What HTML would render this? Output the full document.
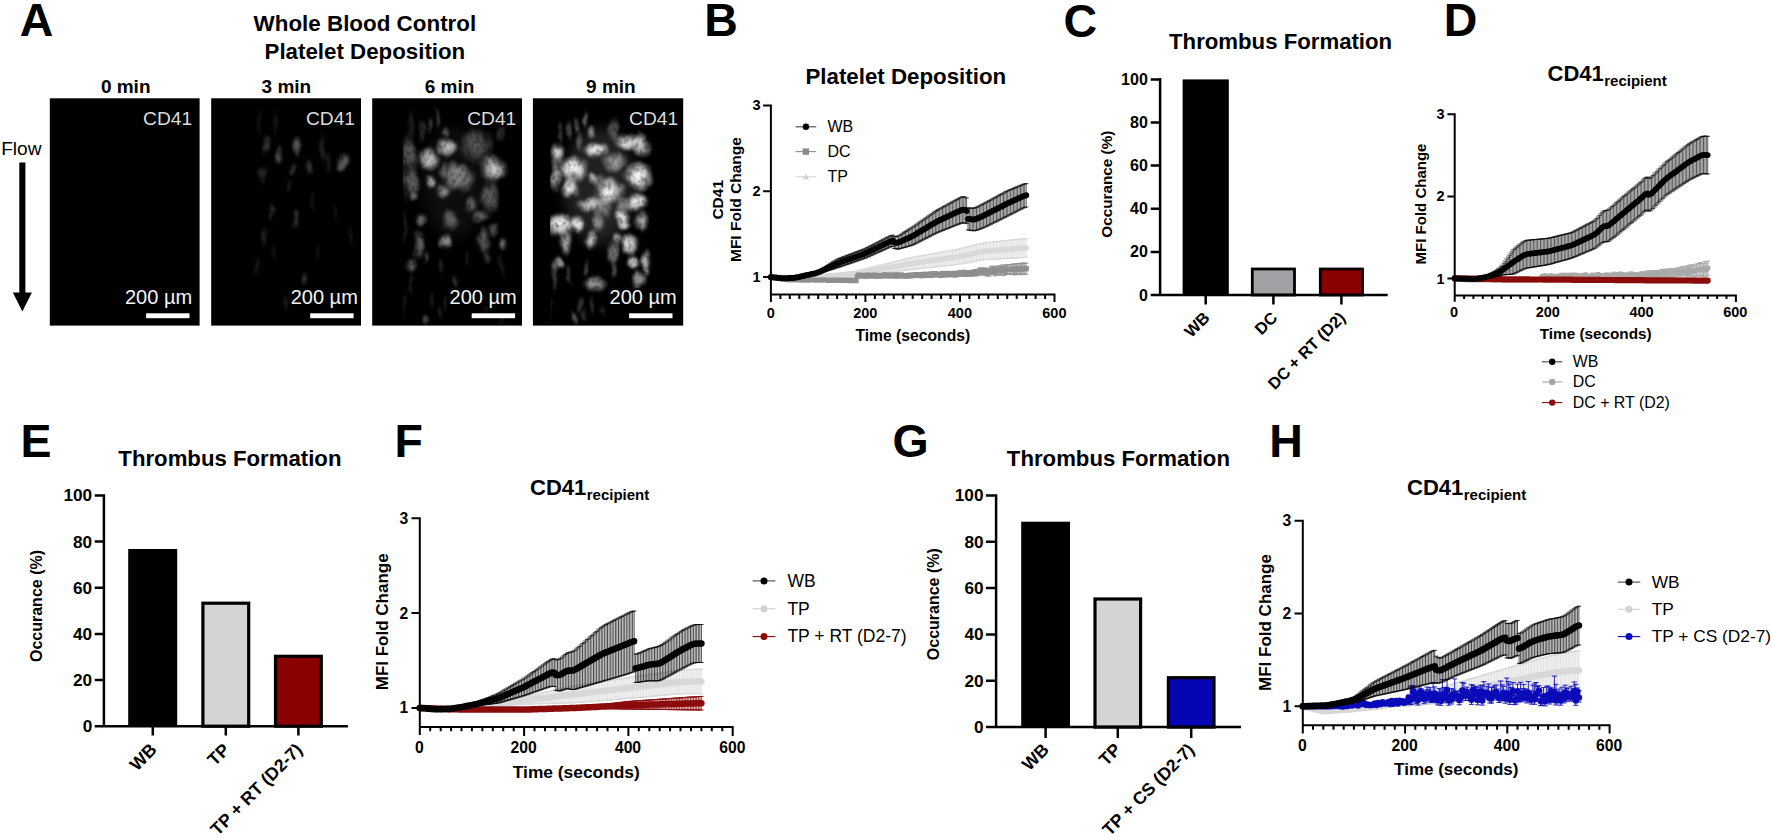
<!DOCTYPE html>
<html lang="en"><head><meta charset="utf-8"><title>Figure</title>
<style>
html,body{margin:0;padding:0;background:#fff;}
body{width:1772px;height:838px;overflow:hidden;}
svg{display:block;font-family:"Liberation Sans", Arial, Helvetica, sans-serif;}
</style></head><body>
<svg width="1772" height="838" viewBox="0 0 1772 838">
<defs>
<radialGradient id="bg"><stop offset="0" stop-color="#fff" stop-opacity="1"/><stop offset="0.45" stop-color="#fff" stop-opacity="0.8"/><stop offset="0.75" stop-color="#fff" stop-opacity="0.35"/><stop offset="1" stop-color="#fff" stop-opacity="0"/></radialGradient>
<filter id="tex" x="-5%" y="-5%" width="110%" height="110%" color-interpolation-filters="sRGB">
<feTurbulence type="fractalNoise" baseFrequency="0.09 0.06" numOctaves="2" seed="3" result="d"/>
<feDisplacementMap in="SourceGraphic" in2="d" scale="9" xChannelSelector="R" yChannelSelector="G" result="w"/>
<feGaussianBlur in="w" stdDeviation="1.0" result="b"/>
<feTurbulence type="fractalNoise" baseFrequency="0.25 0.18" numOctaves="2" seed="7" result="n"/>
<feColorMatrix in="n" type="matrix" values="0 0 0 0 1  0 0 0 0 1  0 0 0 0 1  1.1 0 0 0 0.4" result="m"/>
<feComposite in="b" in2="m" operator="in"/>
</filter>
<filter id="hz" x="-20%" y="-20%" width="140%" height="140%"><feGaussianBlur stdDeviation="7"/></filter>
</defs>
<rect width="1772" height="838" fill="#fff"/>

<text x="19.7" y="36.2" font-size="46.5" font-weight="bold" text-anchor="start" fill="#000">A</text>
<text x="364.9" y="31.1" font-size="22.4" font-weight="bold" text-anchor="middle" fill="#000">Whole Blood Control</text>
<text x="364.9" y="58.5" font-size="22.3" font-weight="bold" text-anchor="middle" fill="#000">Platelet Deposition</text>
<text x="1.2" y="154.8" font-size="19.1" font-weight="normal" text-anchor="start" fill="#000">Flow</text>
<path d="M19.3 162.4H25.4V292.5H31.9L22.35 311.4L12.8 292.5H19.3Z" fill="#000"/>
<text x="125.7" y="92.6" font-size="19.0" font-weight="bold" text-anchor="middle" fill="#000">0 min</text>
<text x="286.4" y="92.6" font-size="19.0" font-weight="bold" text-anchor="middle" fill="#000">3 min</text>
<text x="449.5" y="92.6" font-size="19.0" font-weight="bold" text-anchor="middle" fill="#000">6 min</text>
<text x="610.9" y="92.6" font-size="19.0" font-weight="bold" text-anchor="middle" fill="#000">9 min</text>
<clipPath id="c0"><rect x="49.8" y="98.3" width="149.8" height="227.3"/></clipPath>
<rect x="49.8" y="98.3" width="149.8" height="227.3" fill="#000"/>
<text x="192.1" y="124.8" font-size="19.2" font-weight="normal" text-anchor="end" fill="#dcdcdc">CD41</text>
<text x="192.1" y="303.6" font-size="20" font-weight="normal" text-anchor="end" fill="#f4f4f4">200 µm</text>
<rect x="146.1" y="313.3" width="43.4" height="4.9" fill="#fff"/>
<clipPath id="c1"><rect x="211.2" y="98.3" width="149.8" height="227.3"/></clipPath>
<rect x="211.2" y="98.3" width="149.8" height="227.3" fill="#000"/>
<clipPath id="h1"><rect x="211.2" y="98.3" width="149.8" height="227.3"/></clipPath>
<g clip-path="url(#h1)">
<g filter="url(#tex)" fill="#fff">
<ellipse cx="296.6" cy="146.2" rx="5.5" ry="10.3" opacity="0.37" fill="url(#bg)"/>
<ellipse cx="279.7" cy="154.7" rx="4.7" ry="10.3" opacity="0.30" fill="url(#bg)"/>
<ellipse cx="265.6" cy="144.8" rx="3.6" ry="11" opacity="0.22" fill="url(#bg)"/>
<ellipse cx="343.1" cy="163.1" rx="7.1" ry="10.3" opacity="0.39" fill="url(#bg)"/>
<ellipse cx="309.3" cy="167.3" rx="4.3" ry="7.9" opacity="0.24" fill="url(#bg)"/>
<ellipse cx="292.3" cy="168.7" rx="3.6" ry="6.3" opacity="0.22" fill="url(#bg)"/>
<ellipse cx="262.8" cy="174.4" rx="4.7" ry="11" opacity="0.17" fill="url(#bg)"/>
<ellipse cx="321.9" cy="147.6" rx="3.6" ry="17.8" opacity="0.14" fill="url(#bg)"/>
<ellipse cx="327.6" cy="161.7" rx="3.6" ry="13.4" opacity="0.14" fill="url(#bg)"/>
<ellipse cx="271.2" cy="212.4" rx="3.6" ry="11" opacity="0.17" fill="url(#bg)"/>
<ellipse cx="295.2" cy="218.1" rx="3.6" ry="11" opacity="0.22" fill="url(#bg)"/>
<ellipse cx="264.2" cy="236.4" rx="3.6" ry="11" opacity="0.14" fill="url(#bg)"/>
<ellipse cx="303.6" cy="278.6" rx="3.6" ry="8.7" opacity="0.22" fill="url(#bg)"/>
<ellipse cx="257.1" cy="266" rx="2.8" ry="11" opacity="0.11" fill="url(#bg)"/>
<ellipse cx="275.4" cy="122.3" rx="2.4" ry="17.8" opacity="0.10" fill="url(#bg)"/>
<ellipse cx="259.9" cy="122.3" rx="2.4" ry="17.8" opacity="0.10" fill="url(#bg)"/>
<ellipse cx="350.1" cy="235" rx="2.4" ry="13.4" opacity="0.11" fill="url(#bg)"/>
<ellipse cx="336" cy="212.4" rx="2.4" ry="11" opacity="0.11" fill="url(#bg)"/>
<ellipse cx="312.1" cy="201.1" rx="2.4" ry="13.4" opacity="0.11" fill="url(#bg)"/>
<ellipse cx="285.3" cy="302.6" rx="2.8" ry="11" opacity="0.11" fill="url(#bg)"/>
<ellipse cx="272.6" cy="251.9" rx="2.8" ry="11.8" opacity="0.11" fill="url(#bg)"/>
<ellipse cx="317.7" cy="251.9" rx="2.4" ry="11.8" opacity="0.09" fill="url(#bg)"/>
<ellipse cx="289.5" cy="187.1" rx="2.8" ry="9.9" opacity="0.11" fill="url(#bg)"/>
</g></g>
<rect x="289.8" y="288.5" width="70" height="18.5" fill="#000"/>
<text x="355" y="124.8" font-size="19.2" font-weight="normal" text-anchor="end" fill="#dcdcdc">CD41</text>
<text x="357.8" y="303.6" font-size="20" font-weight="normal" text-anchor="end" fill="#f4f4f4">200 µm</text>
<rect x="310.2" y="313.3" width="43.4" height="4.9" fill="#fff"/>
<clipPath id="c2"><rect x="372.2" y="98.3" width="149.8" height="227.3"/></clipPath>
<rect x="372.2" y="98.3" width="149.8" height="227.3" fill="#000"/>
<clipPath id="h2"><rect x="402.8" y="98.3" width="119.2" height="227.3"/></clipPath>
<g clip-path="url(#h2)">
<ellipse cx="454.2" cy="183.3" rx="32" ry="55" fill="#fff" opacity="0.05" filter="url(#hz)"/>
<g filter="url(#tex)" fill="#fff">
<ellipse cx="447.7" cy="147.9" rx="11.4" ry="10.7" opacity="0.74" fill="url(#bg)"/>
<ellipse cx="428.6" cy="159.5" rx="11.4" ry="13.3" opacity="0.78" fill="url(#bg)"/>
<ellipse cx="492.6" cy="169" rx="14.2" ry="14.2" opacity="0.74" fill="url(#bg)"/>
<ellipse cx="494.2" cy="173.3" rx="7.8" ry="7.8" opacity="0.37" fill="url(#bg)"/>
<ellipse cx="476.9" cy="145.3" rx="17.7" ry="20.2" opacity="0.33" fill="url(#bg)"/>
<ellipse cx="459.2" cy="178.5" rx="17.7" ry="15.9" opacity="0.51" fill="url(#bg)"/>
<ellipse cx="431.4" cy="181.9" rx="6.2" ry="7.9" opacity="0.64" fill="url(#bg)"/>
<ellipse cx="410.2" cy="152.7" rx="8.8" ry="17.7" opacity="0.37" fill="url(#bg)"/>
<ellipse cx="411.6" cy="182.6" rx="7.8" ry="19.5" opacity="0.39" fill="url(#bg)"/>
<ellipse cx="413.7" cy="196.9" rx="5.2" ry="5.2" opacity="0.37" fill="url(#bg)"/>
<ellipse cx="442.9" cy="192.1" rx="8.8" ry="7.9" opacity="0.55" fill="url(#bg)"/>
<ellipse cx="489.2" cy="196.3" rx="10.7" ry="17.7" opacity="0.37" fill="url(#bg)"/>
<ellipse cx="471.5" cy="204.3" rx="7" ry="8.8" opacity="0.37" fill="url(#bg)"/>
<ellipse cx="437.5" cy="118.7" rx="2.6" ry="12.3" opacity="0.28" fill="url(#bg)"/>
<ellipse cx="429.3" cy="124.1" rx="2.6" ry="10.4" opacity="0.28" fill="url(#bg)"/>
<ellipse cx="422.5" cy="129.6" rx="3.9" ry="13" opacity="0.18" fill="url(#bg)"/>
<ellipse cx="445" cy="132.3" rx="3.9" ry="6.5" opacity="0.32" fill="url(#bg)"/>
<ellipse cx="411.6" cy="125.5" rx="3.9" ry="19.5" opacity="0.14" fill="url(#bg)"/>
<ellipse cx="444.2" cy="170.3" rx="5.2" ry="8.8" opacity="0.37" fill="url(#bg)"/>
<ellipse cx="500.2" cy="133.3" rx="3.9" ry="10.4" opacity="0.18" fill="url(#bg)"/>
<ellipse cx="457.2" cy="168.3" rx="10.4" ry="7.8" opacity="0.28" fill="url(#bg)"/>
<ellipse cx="421.8" cy="219.8" rx="6.2" ry="7" opacity="0.46" fill="url(#bg)"/>
<ellipse cx="449.7" cy="220.3" rx="8.8" ry="12.3" opacity="0.37" fill="url(#bg)"/>
<ellipse cx="481" cy="216.3" rx="10.4" ry="7" opacity="0.37" fill="url(#bg)"/>
<ellipse cx="445.6" cy="241.5" rx="6.2" ry="7.9" opacity="0.60" fill="url(#bg)"/>
<ellipse cx="418.4" cy="244.9" rx="7" ry="17.7" opacity="0.41" fill="url(#bg)"/>
<ellipse cx="483.7" cy="240.8" rx="7" ry="15.9" opacity="0.37" fill="url(#bg)"/>
<ellipse cx="502.7" cy="243.6" rx="4.4" ry="7.9" opacity="0.46" fill="url(#bg)"/>
<ellipse cx="411.6" cy="266.7" rx="6.2" ry="8.8" opacity="0.41" fill="url(#bg)"/>
<ellipse cx="426.6" cy="257.2" rx="2.6" ry="7" opacity="0.32" fill="url(#bg)"/>
<ellipse cx="440.2" cy="266.7" rx="2.6" ry="8.8" opacity="0.23" fill="url(#bg)"/>
<ellipse cx="467.4" cy="257.2" rx="2.1" ry="10.7" opacity="0.18" fill="url(#bg)"/>
<ellipse cx="455.2" cy="280.3" rx="2.6" ry="7" opacity="0.23" fill="url(#bg)"/>
<ellipse cx="493.2" cy="230" rx="5.2" ry="7" opacity="0.32" fill="url(#bg)"/>
<ellipse cx="426.6" cy="319.7" rx="4.4" ry="7" opacity="0.32" fill="url(#bg)"/>
<ellipse cx="446.3" cy="302.1" rx="2.6" ry="8.8" opacity="0.18" fill="url(#bg)"/>
<ellipse cx="432" cy="299.3" rx="2.1" ry="8.8" opacity="0.14" fill="url(#bg)"/>
<ellipse cx="438.8" cy="312.9" rx="2.6" ry="9.1" opacity="0.18" fill="url(#bg)"/>
<ellipse cx="404.8" cy="307.3" rx="2" ry="15.6" opacity="0.11" fill="url(#bg)"/>
<ellipse cx="404.2" cy="225.9" rx="1.6" ry="19.5" opacity="0.18" fill="url(#bg)"/>
<ellipse cx="487.8" cy="257.3" rx="3.9" ry="7.8" opacity="0.23" fill="url(#bg)"/>
<ellipse cx="410.2" cy="284.3" rx="2.6" ry="13" opacity="0.14" fill="url(#bg)"/>
<ellipse cx="501.2" cy="266.3" rx="2.6" ry="15.6" opacity="0.11" fill="url(#bg)"/>
<ellipse cx="501.2" cy="320.3" rx="2.6" ry="6.5" opacity="0.11" fill="url(#bg)"/>
<ellipse cx="486.2" cy="307.3" rx="2.6" ry="7.8" opacity="0.09" fill="url(#bg)"/>
<ellipse cx="404.2" cy="173.3" rx="2" ry="36.4" opacity="0.23" fill="url(#bg)"/>
</g></g>
<rect x="448.7" y="288.5" width="70" height="18.5" fill="#000"/>
<text x="516.3" y="124.8" font-size="19.2" font-weight="normal" text-anchor="end" fill="#dcdcdc">CD41</text>
<text x="516.7" y="303.6" font-size="20" font-weight="normal" text-anchor="end" fill="#f4f4f4">200 µm</text>
<rect x="471.7" y="313.3" width="43.4" height="4.9" fill="#fff"/>
<clipPath id="c3"><rect x="532.9" y="98.3" width="150.3" height="227.3"/></clipPath>
<rect x="532.9" y="98.3" width="150.3" height="227.3" fill="#000"/>
<clipPath id="h3"><rect x="550.2" y="98.3" width="133" height="227.3"/></clipPath>
<g clip-path="url(#h3)">
<ellipse cx="599.9" cy="186.3" rx="36" ry="58" fill="#fff" opacity="0.13" filter="url(#hz)"/>
<g filter="url(#tex)" fill="#fff">
<ellipse cx="595.5" cy="150" rx="14.1" ry="9.4" opacity="0.98" fill="url(#bg)"/>
<ellipse cx="626.7" cy="141.8" rx="13.1" ry="9.4" opacity="0.92" fill="url(#bg)"/>
<ellipse cx="640.3" cy="144.5" rx="11" ry="12.4" opacity="0.86" fill="url(#bg)"/>
<ellipse cx="556.7" cy="152.7" rx="8.4" ry="11.3" opacity="0.86" fill="url(#bg)"/>
<ellipse cx="572.3" cy="169" rx="16.8" ry="14.1" opacity="1.00" fill="url(#bg)"/>
<ellipse cx="638.9" cy="175.8" rx="16" ry="16" opacity="1.00" fill="url(#bg)"/>
<ellipse cx="609.1" cy="190.8" rx="16" ry="15" opacity="1.00" fill="url(#bg)"/>
<ellipse cx="569.6" cy="188.1" rx="10.3" ry="11.3" opacity="0.98" fill="url(#bg)"/>
<ellipse cx="554.7" cy="174.5" rx="5.5" ry="18.8" opacity="0.63" fill="url(#bg)"/>
<ellipse cx="594.1" cy="178.5" rx="7.5" ry="6.6" opacity="0.69" fill="url(#bg)"/>
<ellipse cx="614.5" cy="162.2" rx="13.1" ry="11.3" opacity="0.57" fill="url(#bg)"/>
<ellipse cx="637.6" cy="201.7" rx="13.1" ry="10.3" opacity="0.98" fill="url(#bg)"/>
<ellipse cx="590" cy="204.3" rx="15" ry="8.4" opacity="0.80" fill="url(#bg)"/>
<ellipse cx="591.4" cy="132.3" rx="4.7" ry="6.6" opacity="0.57" fill="url(#bg)"/>
<ellipse cx="584.6" cy="120.1" rx="3.3" ry="11.3" opacity="0.46" fill="url(#bg)"/>
<ellipse cx="576.4" cy="125.5" rx="2.8" ry="9.4" opacity="0.40" fill="url(#bg)"/>
<ellipse cx="568.3" cy="129.6" rx="2.8" ry="12.4" opacity="0.34" fill="url(#bg)"/>
<ellipse cx="560.1" cy="130.9" rx="2.8" ry="13.8" opacity="0.29" fill="url(#bg)"/>
<ellipse cx="613.1" cy="130.9" rx="5.5" ry="15" opacity="0.34" fill="url(#bg)"/>
<ellipse cx="579.1" cy="141.8" rx="4.1" ry="11" opacity="0.34" fill="url(#bg)"/>
<ellipse cx="560.1" cy="224.5" rx="17.2" ry="13.1" opacity="1.00" fill="url(#bg)"/>
<ellipse cx="577.8" cy="224.5" rx="7.6" ry="9.7" opacity="0.98" fill="url(#bg)"/>
<ellipse cx="622.7" cy="217.7" rx="7.5" ry="7.5" opacity="0.98" fill="url(#bg)"/>
<ellipse cx="624" cy="225.2" rx="7.5" ry="4.7" opacity="0.86" fill="url(#bg)"/>
<ellipse cx="641.7" cy="221.8" rx="9.4" ry="11.3" opacity="0.69" fill="url(#bg)"/>
<ellipse cx="596.8" cy="223.2" rx="6.6" ry="11.3" opacity="0.52" fill="url(#bg)"/>
<ellipse cx="591.4" cy="240.9" rx="7.5" ry="10.3" opacity="0.80" fill="url(#bg)"/>
<ellipse cx="565.5" cy="243.6" rx="7.5" ry="13.1" opacity="0.69" fill="url(#bg)"/>
<ellipse cx="629.5" cy="244.9" rx="9.4" ry="12.1" opacity="0.92" fill="url(#bg)"/>
<ellipse cx="617.2" cy="239.5" rx="5.5" ry="7.5" opacity="0.63" fill="url(#bg)"/>
<ellipse cx="613.1" cy="253.1" rx="6.6" ry="13.1" opacity="0.46" fill="url(#bg)"/>
<ellipse cx="633.5" cy="262.6" rx="7.5" ry="7.5" opacity="0.98" fill="url(#bg)"/>
<ellipse cx="645.8" cy="262.6" rx="5.5" ry="13.1" opacity="0.75" fill="url(#bg)"/>
<ellipse cx="558.7" cy="264" rx="5.5" ry="6.6" opacity="0.69" fill="url(#bg)"/>
<ellipse cx="638.9" cy="280.3" rx="7.5" ry="11.3" opacity="0.63" fill="url(#bg)"/>
<ellipse cx="594.1" cy="284.3" rx="13.1" ry="9.4" opacity="0.63" fill="url(#bg)"/>
<ellipse cx="585.9" cy="268.1" rx="2.8" ry="9.4" opacity="0.34" fill="url(#bg)"/>
<ellipse cx="614.5" cy="269.3" rx="2.8" ry="11" opacity="0.34" fill="url(#bg)"/>
<ellipse cx="554.7" cy="276.3" rx="2.8" ry="19.3" opacity="0.29" fill="url(#bg)"/>
<ellipse cx="569.6" cy="273.3" rx="2.8" ry="13.8" opacity="0.29" fill="url(#bg)"/>
<ellipse cx="573.7" cy="318.3" rx="3.7" ry="9.4" opacity="0.40" fill="url(#bg)"/>
<ellipse cx="592.7" cy="304.8" rx="2.2" ry="9.4" opacity="0.29" fill="url(#bg)"/>
<ellipse cx="580.5" cy="304.8" rx="2.2" ry="11" opacity="0.23" fill="url(#bg)"/>
<ellipse cx="584.6" cy="315.3" rx="2.8" ry="8.3" opacity="0.23" fill="url(#bg)"/>
<ellipse cx="550.6" cy="310.3" rx="2.1" ry="19.3" opacity="0.14" fill="url(#bg)"/>
<ellipse cx="602.3" cy="310.3" rx="2.1" ry="8.3" opacity="0.17" fill="url(#bg)"/>
<ellipse cx="602.9" cy="208.3" rx="11" ry="11" opacity="0.46" fill="url(#bg)"/>
<ellipse cx="622.9" cy="206.3" rx="8.3" ry="11" opacity="0.46" fill="url(#bg)"/>
</g></g>
<rect x="608.7" y="288.5" width="70" height="18.5" fill="#000"/>
<text x="678.1" y="124.8" font-size="19.2" font-weight="normal" text-anchor="end" fill="#dcdcdc">CD41</text>
<text x="676.7" y="303.6" font-size="20" font-weight="normal" text-anchor="end" fill="#f4f4f4">200 µm</text>
<rect x="629.1" y="313.3" width="43.4" height="4.9" fill="#fff"/>
<text x="704.3" y="36.2" font-size="46.5" font-weight="bold" text-anchor="start" fill="#000">B</text>
<path d="M816.3 276.5V277.3M817.7 276.3V277.3M819.1 276.1V277.2M820.5 275.9V277.2M822 275.7V277.2M823.4 275.5V277.1M824.8 275.3V277.1M826.2 275.1V277.1M827.6 275V277M829 274.8V277M830.5 274.6V276.9M831.9 274.4V276.9M833.3 274.2V276.9M834.7 274V276.8M836.1 273.8V276.8M837.6 273.6V276.7M839 273.4V276.7M840.4 273.2V276.7M841.8 273V276.6M843.2 272.8V276.6M844.6 272.6V276.6M846.1 272.4V276.5M847.5 272.2V276.5M848.9 272.1V276.4M850.3 271.9V276.4M851.7 271.7V276.4M853.1 271.5V276.3M854.6 271.3V276.3M856 271V276.2M857.4 270.8V276M858.8 270.4V275.9M860.2 270.1V275.7M861.7 269.8V275.5M863.1 269.5V275.3M864.5 269.2V275.1M865.9 268.8V274.9M867.3 268.5V274.7M868.7 268.1V274.6M870.2 267.8V274.4M871.6 267.4V274.2M873 267.1V274.1M874.4 266.7V273.9M875.8 266.4V273.7M877.3 266V273.6M878.7 265.7V273.4M880.1 265.4V273.2M881.5 265V273.1M882.9 264.7V272.9M884.3 264.3V272.7M885.8 264V272.6M887.2 263.6V272.4M888.6 263.3V272.2M890 262.9V272.1M891.4 262.6V271.9M892.9 262.2V271.7M894.3 261.9V271.5M895.7 261.5V271.4M897.1 261.2V271.2M898.5 260.8V271M899.9 260.5V270.9M901.4 260.1V270.7M902.8 259.8V270.5M904.2 259.4V270.4M905.6 259.1V270.2M907 258.7V270M908.5 258.4V269.9M909.9 258V269.7M911.3 257.7V269.5M912.7 257.4V269.4M914.1 257.1V269.2M915.5 256.8V269.1M917 256.6V268.9M918.4 256.3V268.8M919.8 256.1V268.6M921.2 255.8V268.4M922.6 255.6V268.3M924.1 255.3V268.1M925.5 255V268M926.9 254.8V267.8M928.3 254.5V267.7M929.7 254.3V267.5M931.1 254V267.4M932.6 253.7V267.2M934 253.5V267.1M935.4 253.2V266.9M936.8 253V266.7M938.2 252.7V266.6M939.7 252.5V266.4M941.1 252.2V266.3M942.5 251.9V266.1M943.9 251.7V266M945.3 251.4V265.8M946.7 251.2V265.7M948.2 250.9V265.5M949.6 250.7V265.4M951 250.4V265.2M952.4 250.1V265M953.8 249.9V264.9M955.3 249.6V264.7M956.7 249.4V264.6M958.1 249.1V264.4M959.5 248.8V264.2M960.9 248.5V264M962.3 248.2V263.8M963.8 247.8V263.5M965.2 247.5V263.2M966.6 247.2V263M968 246.8V262.7M969.4 246.5V262.4M970.9 246.1V262.1M972.3 245.8V261.9M973.7 245.4V261.6M975.1 245.1V261.3M976.5 244.7V261M977.9 244.4V260.8M979.4 244V260.5M980.8 243.7V260.2M982.2 243.4V260M983.6 243.1V259.8M985 242.9V259.6M986.5 242.7V259.5M987.9 242.6V259.5M989.3 242.4V259.4M990.7 242.2V259.3M992.1 242.1V259.2M993.5 241.9V259.1M995 241.8V259.1M996.4 241.6V259M997.8 241.5V258.9M999.2 241.3V258.8M1000.6 241.2V258.8M1002.1 241V258.7M1003.5 240.9V258.6M1004.9 240.7V258.5M1006.3 240.6V258.4M1007.7 240.4V258.4M1009.1 240.3V258.3M1010.6 240.1V258.2M1012 240V258.1M1013.4 239.8V258.1M1014.8 239.7V258M1016.2 239.5V257.9M1017.6 239.4V257.8M1019.1 239.2V257.7M1020.5 239.1V257.7M1021.9 238.9V257.6M1023.3 238.8V257.5M1024.7 238.7V257.5M1026.2 238.6V257.4" stroke="#d9d9d9" stroke-width="0.8" fill="none"/>
<path d="M814 276.5h4.6M814 277.3h4.6M815.4 276.3h4.6M815.4 277.3h4.6M816.8 276.1h4.6M816.8 277.2h4.6M818.2 275.9h4.6M818.2 277.2h4.6M819.7 275.7h4.6M819.7 277.2h4.6M821.1 275.5h4.6M821.1 277.1h4.6M822.5 275.3h4.6M822.5 277.1h4.6M823.9 275.1h4.6M823.9 277.1h4.6M825.3 275h4.6M825.3 277h4.6M826.7 274.8h4.6M826.7 277h4.6M828.2 274.6h4.6M828.2 276.9h4.6M829.6 274.4h4.6M829.6 276.9h4.6M831 274.2h4.6M831 276.9h4.6M832.4 274h4.6M832.4 276.8h4.6M833.8 273.8h4.6M833.8 276.8h4.6M835.3 273.6h4.6M835.3 276.7h4.6M836.7 273.4h4.6M836.7 276.7h4.6M838.1 273.2h4.6M838.1 276.7h4.6M839.5 273h4.6M839.5 276.6h4.6M840.9 272.8h4.6M840.9 276.6h4.6M842.3 272.6h4.6M842.3 276.6h4.6M843.8 272.4h4.6M843.8 276.5h4.6M845.2 272.2h4.6M845.2 276.5h4.6M846.6 272.1h4.6M846.6 276.4h4.6M848 271.9h4.6M848 276.4h4.6M849.4 271.7h4.6M849.4 276.4h4.6M850.8 271.5h4.6M850.8 276.3h4.6M852.3 271.3h4.6M852.3 276.3h4.6M853.7 271h4.6M853.7 276.2h4.6M855.1 270.8h4.6M855.1 276h4.6M856.5 270.4h4.6M856.5 275.9h4.6M857.9 270.1h4.6M857.9 275.7h4.6M859.4 269.8h4.6M859.4 275.5h4.6M860.8 269.5h4.6M860.8 275.3h4.6M862.2 269.2h4.6M862.2 275.1h4.6M863.6 268.8h4.6M863.6 274.9h4.6M865 268.5h4.6M865 274.7h4.6M866.4 268.1h4.6M866.4 274.6h4.6M867.9 267.8h4.6M867.9 274.4h4.6M869.3 267.4h4.6M869.3 274.2h4.6M870.7 267.1h4.6M870.7 274.1h4.6M872.1 266.7h4.6M872.1 273.9h4.6M873.5 266.4h4.6M873.5 273.7h4.6M875 266h4.6M875 273.6h4.6M876.4 265.7h4.6M876.4 273.4h4.6M877.8 265.4h4.6M877.8 273.2h4.6M879.2 265h4.6M879.2 273.1h4.6M880.6 264.7h4.6M880.6 272.9h4.6M882 264.3h4.6M882 272.7h4.6M883.5 264h4.6M883.5 272.6h4.6M884.9 263.6h4.6M884.9 272.4h4.6M886.3 263.3h4.6M886.3 272.2h4.6M887.7 262.9h4.6M887.7 272.1h4.6M889.1 262.6h4.6M889.1 271.9h4.6M890.6 262.2h4.6M890.6 271.7h4.6M892 261.9h4.6M892 271.5h4.6M893.4 261.5h4.6M893.4 271.4h4.6M894.8 261.2h4.6M894.8 271.2h4.6M896.2 260.8h4.6M896.2 271h4.6M897.6 260.5h4.6M897.6 270.9h4.6M899.1 260.1h4.6M899.1 270.7h4.6M900.5 259.8h4.6M900.5 270.5h4.6M901.9 259.4h4.6M901.9 270.4h4.6M903.3 259.1h4.6M903.3 270.2h4.6M904.7 258.7h4.6M904.7 270h4.6M906.2 258.4h4.6M906.2 269.9h4.6M907.6 258h4.6M907.6 269.7h4.6M909 257.7h4.6M909 269.5h4.6M910.4 257.4h4.6M910.4 269.4h4.6M911.8 257.1h4.6M911.8 269.2h4.6M913.2 256.8h4.6M913.2 269.1h4.6M914.7 256.6h4.6M914.7 268.9h4.6M916.1 256.3h4.6M916.1 268.8h4.6M917.5 256.1h4.6M917.5 268.6h4.6M918.9 255.8h4.6M918.9 268.4h4.6M920.3 255.6h4.6M920.3 268.3h4.6M921.8 255.3h4.6M921.8 268.1h4.6M923.2 255h4.6M923.2 268h4.6M924.6 254.8h4.6M924.6 267.8h4.6M926 254.5h4.6M926 267.7h4.6M927.4 254.3h4.6M927.4 267.5h4.6M928.8 254h4.6M928.8 267.4h4.6M930.3 253.7h4.6M930.3 267.2h4.6M931.7 253.5h4.6M931.7 267.1h4.6M933.1 253.2h4.6M933.1 266.9h4.6M934.5 253h4.6M934.5 266.7h4.6M935.9 252.7h4.6M935.9 266.6h4.6M937.4 252.5h4.6M937.4 266.4h4.6M938.8 252.2h4.6M938.8 266.3h4.6M940.2 251.9h4.6M940.2 266.1h4.6M941.6 251.7h4.6M941.6 266h4.6M943 251.4h4.6M943 265.8h4.6M944.4 251.2h4.6M944.4 265.7h4.6M945.9 250.9h4.6M945.9 265.5h4.6M947.3 250.7h4.6M947.3 265.4h4.6M948.7 250.4h4.6M948.7 265.2h4.6M950.1 250.1h4.6M950.1 265h4.6M951.5 249.9h4.6M951.5 264.9h4.6M953 249.6h4.6M953 264.7h4.6M954.4 249.4h4.6M954.4 264.6h4.6M955.8 249.1h4.6M955.8 264.4h4.6M957.2 248.8h4.6M957.2 264.2h4.6M958.6 248.5h4.6M958.6 264h4.6M960 248.2h4.6M960 263.8h4.6M961.5 247.8h4.6M961.5 263.5h4.6M962.9 247.5h4.6M962.9 263.2h4.6M964.3 247.2h4.6M964.3 263h4.6M965.7 246.8h4.6M965.7 262.7h4.6M967.1 246.5h4.6M967.1 262.4h4.6M968.6 246.1h4.6M968.6 262.1h4.6M970 245.8h4.6M970 261.9h4.6M971.4 245.4h4.6M971.4 261.6h4.6M972.8 245.1h4.6M972.8 261.3h4.6M974.2 244.7h4.6M974.2 261h4.6M975.6 244.4h4.6M975.6 260.8h4.6M977.1 244h4.6M977.1 260.5h4.6M978.5 243.7h4.6M978.5 260.2h4.6M979.9 243.4h4.6M979.9 260h4.6M981.3 243.1h4.6M981.3 259.8h4.6M982.7 242.9h4.6M982.7 259.6h4.6M984.2 242.7h4.6M984.2 259.5h4.6M985.6 242.6h4.6M985.6 259.5h4.6M987 242.4h4.6M987 259.4h4.6M988.4 242.2h4.6M988.4 259.3h4.6M989.8 242.1h4.6M989.8 259.2h4.6M991.2 241.9h4.6M991.2 259.1h4.6M992.7 241.8h4.6M992.7 259.1h4.6M994.1 241.6h4.6M994.1 259h4.6M995.5 241.5h4.6M995.5 258.9h4.6M996.9 241.3h4.6M996.9 258.8h4.6M998.3 241.2h4.6M998.3 258.8h4.6M999.8 241h4.6M999.8 258.7h4.6M1001.2 240.9h4.6M1001.2 258.6h4.6M1002.6 240.7h4.6M1002.6 258.5h4.6M1004 240.6h4.6M1004 258.4h4.6M1005.4 240.4h4.6M1005.4 258.4h4.6M1006.8 240.3h4.6M1006.8 258.3h4.6M1008.3 240.1h4.6M1008.3 258.2h4.6M1009.7 240h4.6M1009.7 258.1h4.6M1011.1 239.8h4.6M1011.1 258.1h4.6M1012.5 239.7h4.6M1012.5 258h4.6M1013.9 239.5h4.6M1013.9 257.9h4.6M1015.3 239.4h4.6M1015.3 257.8h4.6M1016.8 239.2h4.6M1016.8 257.7h4.6M1018.2 239.1h4.6M1018.2 257.7h4.6M1019.6 238.9h4.6M1019.6 257.6h4.6M1021 238.8h4.6M1021 257.5h4.6M1022.4 238.7h4.6M1022.4 257.5h4.6M1023.9 238.6h4.6M1023.9 257.4h4.6" stroke="#d9d9d9" stroke-width="0.8" fill="none"/>
<path d="M770.9 277.1h0M772.3 277.1h0M773.7 277.1h0M775.2 277.1h0M776.6 277.2h0M778 277.2h0M779.4 277.2h0M780.8 277.2h0M782.2 277.2h0M783.7 277.2h0M785.1 277.3h0M786.5 277.3h0M787.9 277.3h0M789.3 277.3h0M790.8 277.3h0M792.2 277.3h0M793.6 277.4h0M795 277.4h0M796.4 277.4h0M797.8 277.4h0M799.3 277.4h0M800.7 277.4h0M802.1 277.5h0M803.5 277.5h0M804.9 277.5h0M806.4 277.5h0M807.8 277.5h0M809.2 277.4h0M810.6 277.4h0M812 277.3h0M813.4 277.1h0M814.9 277h0M816.3 276.9h0M817.7 276.8h0M819.1 276.7h0M820.5 276.6h0M822 276.4h0M823.4 276.3h0M824.8 276.2h0M826.2 276.1h0M827.6 276h0M829 275.9h0M830.5 275.8h0M831.9 275.6h0M833.3 275.5h0M834.7 275.4h0M836.1 275.3h0M837.6 275.2h0M839 275.1h0M840.4 274.9h0M841.8 274.8h0M843.2 274.7h0M844.6 274.6h0M846.1 274.5h0M847.5 274.4h0M848.9 274.2h0M850.3 274.1h0M851.7 274h0M853.1 273.9h0M854.6 273.8h0M856 273.6h0M857.4 273.4h0M858.8 273.2h0M860.2 272.9h0M861.7 272.6h0M863.1 272.4h0M864.5 272.1h0M865.9 271.9h0M867.3 271.6h0M868.7 271.3h0M870.2 271.1h0M871.6 270.8h0M873 270.6h0M874.4 270.3h0M875.8 270.1h0M877.3 269.8h0M878.7 269.5h0M880.1 269.3h0M881.5 269h0M882.9 268.8h0M884.3 268.5h0M885.8 268.3h0M887.2 268h0M888.6 267.7h0M890 267.5h0M891.4 267.2h0M892.9 267h0M894.3 266.7h0M895.7 266.5h0M897.1 266.2h0M898.5 265.9h0M899.9 265.7h0M901.4 265.4h0M902.8 265.2h0M904.2 264.9h0M905.6 264.7h0M907 264.4h0M908.5 264.1h0M909.9 263.9h0M911.3 263.6h0M912.7 263.4h0M914.1 263.2h0M915.5 263h0M917 262.7h0M918.4 262.5h0M919.8 262.3h0M921.2 262.1h0M922.6 261.9h0M924.1 261.7h0M925.5 261.5h0M926.9 261.3h0M928.3 261.1h0M929.7 260.9h0M931.1 260.7h0M932.6 260.5h0M934 260.3h0M935.4 260.1h0M936.8 259.9h0M938.2 259.7h0M939.7 259.4h0M941.1 259.2h0M942.5 259h0M943.9 258.8h0M945.3 258.6h0M946.7 258.4h0M948.2 258.2h0M949.6 258h0M951 257.8h0M952.4 257.6h0M953.8 257.4h0M955.3 257.2h0M956.7 257h0M958.1 256.8h0M959.5 256.5h0M960.9 256.3h0M962.3 256h0M963.8 255.7h0M965.2 255.4h0M966.6 255.1h0M968 254.7h0M969.4 254.4h0M970.9 254.1h0M972.3 253.8h0M973.7 253.5h0M975.1 253.2h0M976.5 252.9h0M977.9 252.6h0M979.4 252.3h0M980.8 252h0M982.2 251.7h0M983.6 251.4h0M985 251.3h0M986.5 251.1h0M987.9 251h0M989.3 250.9h0M990.7 250.8h0M992.1 250.7h0M993.5 250.5h0M995 250.4h0M996.4 250.3h0M997.8 250.2h0M999.2 250.1h0M1000.6 250h0M1002.1 249.9h0M1003.5 249.7h0M1004.9 249.6h0M1006.3 249.5h0M1007.7 249.4h0M1009.1 249.3h0M1010.6 249.2h0M1012 249.1h0M1013.4 248.9h0M1014.8 248.8h0M1016.2 248.7h0M1017.6 248.6h0M1019.1 248.5h0M1020.5 248.4h0M1021.9 248.3h0M1023.3 248.1h0M1024.7 248.1h0M1026.2 248h0" stroke="#d9d9d9" stroke-width="5.5" stroke-linecap="round" fill="none"/>
<path d="M857.4 274.8V278M858.8 273.4V276.9M860.2 273.4V277.1M861.7 274.1V277.8M863.1 273.9V277.7M864.5 274.1V277.9M865.9 274.2V278M867.3 273.2V277M868.7 274.1V277.9M870.2 273.6V277.3M871.6 273.7V277.5M873 274.1V277.9M874.4 273.4V277.1M875.8 274.2V278M877.3 273.5V277.3M878.7 274.3V278.1M880.1 273.9V277.6M881.5 274.2V277.9M882.9 274.1V277.8M884.3 273V276.8M885.8 273.3V277M887.2 274V277.8M888.6 273.1V276.9M890 274.1V277.9M891.4 273.8V277.6M892.9 273.1V276.9M894.3 273.4V277.2M895.7 274.2V278M897.1 272.9V276.6M898.5 274V277.8M899.9 274V277.7M901.4 273.2V276.9M902.8 273.8V277.6M904.2 273.9V277.7M905.6 274.2V278M907 274.2V278M908.5 273.4V277.2M909.9 273.9V277.7M911.3 273.3V277.1M912.7 273.7V277.5M914.1 273.5V277.3M915.5 272.6V276.5M917 273.3V277.2M918.4 273.1V277M919.8 272.6V276.5M921.2 273.6V277.6M922.6 273.6V277.6M924.1 272.3V276.3M925.5 272.4V276.4M926.9 273.2V277.3M928.3 273.3V277.4M929.7 272.3V276.5M931.1 271.9V276.1M932.6 273V277.3M934 271.7V276M935.4 271.7V276.1M936.8 272.2V276.5M938.2 272.4V276.8M939.7 272.9V277.3M941.1 272.9V277.4M942.5 271.3V275.8M943.9 272.4V277M945.3 271.6V276.1M946.7 272.3V276.9M948.2 271.2V275.8M949.6 271.5V276.2M951 272V276.7M952.4 272.1V276.9M953.8 271.1V275.9M955.3 272.2V277M956.7 271.8V276.7M958.1 271.2V276.1M959.5 270.6V275.5M960.9 270.9V275.8M962.3 271.4V276.4M963.8 270.1V275.1M965.2 271.3V276.3M966.6 271.5V276.6M968 270.9V276M969.4 270.4V275.6M970.9 270.9V276.3M972.3 270.5V276M973.7 270V275.7M975.1 269.4V275.2M976.5 270V276M977.9 269.4V275.6M979.4 268.2V274.6M980.8 267.9V274.4M982.2 268.3V275M983.6 268V274.9M985 268V275M986.5 268.6V275.9M987.9 268.6V276M989.3 268.5V276M990.7 266.6V274.3M992.1 266.8V274.7M993.5 266.1V274.1M995 267.7V275.9M996.4 266.3V274.7M997.8 266.4V275M999.2 265.8V274.5M1000.6 266.4V275.3M1002.1 264.9V273.9M1003.5 266.6V275.7M1004.9 265.5V274.8M1006.3 265V274.4M1007.7 264.5V274M1009.1 264.7V274.3M1010.6 264.6V274.4M1012 264.3V274.2M1013.4 263.9V273.9M1014.8 264.9V275M1016.2 264V274.3M1017.6 263.5V273.8M1019.1 263.4V273.9M1020.5 264.1V274.8M1021.9 263.2V274M1023.3 262.9V273.8M1024.7 263.4V274.4M1026.2 263.2V274.3" stroke="#8e8e8e" stroke-width="0.9" fill="none"/>
<path d="M855.1 274.8h4.6M855.1 278h4.6M856.5 273.4h4.6M856.5 276.9h4.6M857.9 273.4h4.6M857.9 277.1h4.6M859.4 274.1h4.6M859.4 277.8h4.6M860.8 273.9h4.6M860.8 277.7h4.6M862.2 274.1h4.6M862.2 277.9h4.6M863.6 274.2h4.6M863.6 278h4.6M865 273.2h4.6M865 277h4.6M866.4 274.1h4.6M866.4 277.9h4.6M867.9 273.6h4.6M867.9 277.3h4.6M869.3 273.7h4.6M869.3 277.5h4.6M870.7 274.1h4.6M870.7 277.9h4.6M872.1 273.4h4.6M872.1 277.1h4.6M873.5 274.2h4.6M873.5 278h4.6M875 273.5h4.6M875 277.3h4.6M876.4 274.3h4.6M876.4 278.1h4.6M877.8 273.9h4.6M877.8 277.6h4.6M879.2 274.2h4.6M879.2 277.9h4.6M880.6 274.1h4.6M880.6 277.8h4.6M882 273h4.6M882 276.8h4.6M883.5 273.3h4.6M883.5 277h4.6M884.9 274h4.6M884.9 277.8h4.6M886.3 273.1h4.6M886.3 276.9h4.6M887.7 274.1h4.6M887.7 277.9h4.6M889.1 273.8h4.6M889.1 277.6h4.6M890.6 273.1h4.6M890.6 276.9h4.6M892 273.4h4.6M892 277.2h4.6M893.4 274.2h4.6M893.4 278h4.6M894.8 272.9h4.6M894.8 276.6h4.6M896.2 274h4.6M896.2 277.8h4.6M897.6 274h4.6M897.6 277.7h4.6M899.1 273.2h4.6M899.1 276.9h4.6M900.5 273.8h4.6M900.5 277.6h4.6M901.9 273.9h4.6M901.9 277.7h4.6M903.3 274.2h4.6M903.3 278h4.6M904.7 274.2h4.6M904.7 278h4.6M906.2 273.4h4.6M906.2 277.2h4.6M907.6 273.9h4.6M907.6 277.7h4.6M909 273.3h4.6M909 277.1h4.6M910.4 273.7h4.6M910.4 277.5h4.6M911.8 273.5h4.6M911.8 277.3h4.6M913.2 272.6h4.6M913.2 276.5h4.6M914.7 273.3h4.6M914.7 277.2h4.6M916.1 273.1h4.6M916.1 277h4.6M917.5 272.6h4.6M917.5 276.5h4.6M918.9 273.6h4.6M918.9 277.6h4.6M920.3 273.6h4.6M920.3 277.6h4.6M921.8 272.3h4.6M921.8 276.3h4.6M923.2 272.4h4.6M923.2 276.4h4.6M924.6 273.2h4.6M924.6 277.3h4.6M926 273.3h4.6M926 277.4h4.6M927.4 272.3h4.6M927.4 276.5h4.6M928.8 271.9h4.6M928.8 276.1h4.6M930.3 273h4.6M930.3 277.3h4.6M931.7 271.7h4.6M931.7 276h4.6M933.1 271.7h4.6M933.1 276.1h4.6M934.5 272.2h4.6M934.5 276.5h4.6M935.9 272.4h4.6M935.9 276.8h4.6M937.4 272.9h4.6M937.4 277.3h4.6M938.8 272.9h4.6M938.8 277.4h4.6M940.2 271.3h4.6M940.2 275.8h4.6M941.6 272.4h4.6M941.6 277h4.6M943 271.6h4.6M943 276.1h4.6M944.4 272.3h4.6M944.4 276.9h4.6M945.9 271.2h4.6M945.9 275.8h4.6M947.3 271.5h4.6M947.3 276.2h4.6M948.7 272h4.6M948.7 276.7h4.6M950.1 272.1h4.6M950.1 276.9h4.6M951.5 271.1h4.6M951.5 275.9h4.6M953 272.2h4.6M953 277h4.6M954.4 271.8h4.6M954.4 276.7h4.6M955.8 271.2h4.6M955.8 276.1h4.6M957.2 270.6h4.6M957.2 275.5h4.6M958.6 270.9h4.6M958.6 275.8h4.6M960 271.4h4.6M960 276.4h4.6M961.5 270.1h4.6M961.5 275.1h4.6M962.9 271.3h4.6M962.9 276.3h4.6M964.3 271.5h4.6M964.3 276.6h4.6M965.7 270.9h4.6M965.7 276h4.6M967.1 270.4h4.6M967.1 275.6h4.6M968.6 270.9h4.6M968.6 276.3h4.6M970 270.5h4.6M970 276h4.6M971.4 270h4.6M971.4 275.7h4.6M972.8 269.4h4.6M972.8 275.2h4.6M974.2 270h4.6M974.2 276h4.6M975.6 269.4h4.6M975.6 275.6h4.6M977.1 268.2h4.6M977.1 274.6h4.6M978.5 267.9h4.6M978.5 274.4h4.6M979.9 268.3h4.6M979.9 275h4.6M981.3 268h4.6M981.3 274.9h4.6M982.7 268h4.6M982.7 275h4.6M984.2 268.6h4.6M984.2 275.9h4.6M985.6 268.6h4.6M985.6 276h4.6M987 268.5h4.6M987 276h4.6M988.4 266.6h4.6M988.4 274.3h4.6M989.8 266.8h4.6M989.8 274.7h4.6M991.2 266.1h4.6M991.2 274.1h4.6M992.7 267.7h4.6M992.7 275.9h4.6M994.1 266.3h4.6M994.1 274.7h4.6M995.5 266.4h4.6M995.5 275h4.6M996.9 265.8h4.6M996.9 274.5h4.6M998.3 266.4h4.6M998.3 275.3h4.6M999.8 264.9h4.6M999.8 273.9h4.6M1001.2 266.6h4.6M1001.2 275.7h4.6M1002.6 265.5h4.6M1002.6 274.8h4.6M1004 265h4.6M1004 274.4h4.6M1005.4 264.5h4.6M1005.4 274h4.6M1006.8 264.7h4.6M1006.8 274.3h4.6M1008.3 264.6h4.6M1008.3 274.4h4.6M1009.7 264.3h4.6M1009.7 274.2h4.6M1011.1 263.9h4.6M1011.1 273.9h4.6M1012.5 264.9h4.6M1012.5 275h4.6M1013.9 264h4.6M1013.9 274.3h4.6M1015.3 263.5h4.6M1015.3 273.8h4.6M1016.8 263.4h4.6M1016.8 273.9h4.6M1018.2 264.1h4.6M1018.2 274.8h4.6M1019.6 263.2h4.6M1019.6 274h4.6M1021 262.9h4.6M1021 273.8h4.6M1022.4 263.4h4.6M1022.4 274.4h4.6M1023.9 263.2h4.6M1023.9 274.3h4.6" stroke="#8e8e8e" stroke-width="0.9" fill="none"/>
<path d="M770.9 277.2h0M772.3 277.4h0M773.7 277.5h0M775.2 277.7h0M776.6 277.9h0M778 278.1h0M779.4 278.4h0M780.8 278.5h0M782.2 278.7h0M783.7 278.9h0M785.1 279.2h0M786.5 279.4h0M787.9 279.6h0M789.3 279.7h0M790.8 279.8h0M792.2 279.9h0M793.6 279.8h0M795 279.8h0M796.4 279.9h0M797.8 279.9h0M799.3 280h0M800.7 280h0M802.1 279.9h0M803.5 280.1h0M804.9 280h0M806.4 280h0M807.8 280.1h0M809.2 280h0M810.6 280h0M812 279.9h0M813.4 280h0M814.9 280h0M816.3 280.1h0M817.7 280h0M819.1 280.1h0M820.5 280.2h0M822 279.9h0M823.4 279.9h0M824.8 280h0M826.2 280h0M827.6 280.2h0M829 280.3h0M830.5 280.3h0M831.9 280.4h0M833.3 280h0M834.7 280.2h0M836.1 280h0M837.6 280.3h0M839 280h0M840.4 280h0M841.8 280.5h0M843.2 280.4h0M844.6 280h0M846.1 280.3h0M847.5 280h0M848.9 280.4h0M850.3 280.6h0M851.7 280.2h0M853.1 280.2h0M854.6 280.5h0M856 280.6h0M857.4 276.4h0M858.8 275.2h0M860.2 275.2h0M861.7 276h0M863.1 275.8h0M864.5 276h0M865.9 276.1h0M867.3 275.1h0M868.7 276h0M870.2 275.4h0M871.6 275.6h0M873 276h0M874.4 275.2h0M875.8 276.1h0M877.3 275.4h0M878.7 276.2h0M880.1 275.7h0M881.5 276h0M882.9 276h0M884.3 274.9h0M885.8 275.1h0M887.2 275.9h0M888.6 275h0M890 276h0M891.4 275.7h0M892.9 275h0M894.3 275.3h0M895.7 276.1h0M897.1 274.8h0M898.5 275.9h0M899.9 275.9h0M901.4 275h0M902.8 275.7h0M904.2 275.8h0M905.6 276.1h0M907 276.1h0M908.5 275.3h0M909.9 275.8h0M911.3 275.2h0M912.7 275.6h0M914.1 275.4h0M915.5 274.5h0M917 275.3h0M918.4 275.1h0M919.8 274.5h0M921.2 275.6h0M922.6 275.6h0M924.1 274.3h0M925.5 274.4h0M926.9 275.3h0M928.3 275.3h0M929.7 274.4h0M931.1 274h0M932.6 275.2h0M934 273.9h0M935.4 273.9h0M936.8 274.3h0M938.2 274.6h0M939.7 275.1h0M941.1 275.1h0M942.5 273.5h0M943.9 274.7h0M945.3 273.8h0M946.7 274.6h0M948.2 273.5h0M949.6 273.9h0M951 274.4h0M952.4 274.5h0M953.8 273.5h0M955.3 274.6h0M956.7 274.3h0M958.1 273.6h0M959.5 273h0M960.9 273.4h0M962.3 273.9h0M963.8 272.6h0M965.2 273.8h0M966.6 274h0M968 273.4h0M969.4 273h0M970.9 273.6h0M972.3 273.3h0M973.7 272.8h0M975.1 272.3h0M976.5 273h0M977.9 272.5h0M979.4 271.4h0M980.8 271.1h0M982.2 271.6h0M983.6 271.4h0M985 271.5h0M986.5 272.2h0M987.9 272.3h0M989.3 272.3h0M990.7 270.4h0M992.1 270.7h0M993.5 270.1h0M995 271.8h0M996.4 270.5h0M997.8 270.7h0M999.2 270.1h0M1000.6 270.8h0M1002.1 269.4h0M1003.5 271.2h0M1004.9 270.1h0M1006.3 269.7h0M1007.7 269.3h0M1009.1 269.5h0M1010.6 269.5h0M1012 269.2h0M1013.4 268.9h0M1014.8 269.9h0M1016.2 269.2h0M1017.6 268.6h0M1019.1 268.6h0M1020.5 269.5h0M1021.9 268.6h0M1023.3 268.4h0M1024.7 268.9h0M1026.2 268.7h0" stroke="#8e8e8e" stroke-width="5.2" stroke-linecap="square" fill="none"/>
<path d="M789.3 277.7V278.5M790.8 277.7V278.5M792.2 277.6V278.5M793.6 277.4V278.4M795 277.2V278.3M796.4 277V278.1M797.8 276.6V277.8M799.3 276.3V277.5M800.7 275.9V277.2M802.1 275.6V276.9M803.5 275.2V276.6M804.9 274.9V276.4M806.4 274.5V276.1M807.8 274.2V275.8M809.2 273.8V275.5M810.6 273.5V275.2M812 273.1V274.9M813.4 272.8V274.6M814.9 272.4V274.3M816.3 272V274M817.7 271.5V273.7M819.1 270.9V273.3M820.5 270V272.9M822 269.1V272.5M823.4 268.2V272.1M824.8 267.3V271.6M826.2 266.4V271.2M827.6 265.4V270.7M829 264.5V270.3M830.5 263.6V269.9M831.9 262.6V269.4M833.3 261.7V269M834.7 260.8V268.6M836.1 259.9V268.1M837.6 259.2V267.6M839 258.6V267.2M840.4 258V266.7M841.8 257.5V266.2M843.2 256.9V265.7M844.6 256.4V265.2M846.1 255.9V264.7M847.5 255.3V264.2M848.9 254.8V263.8M850.3 254.3V263.3M851.7 253.7V262.8M853.1 253.2V262.3M854.6 252.7V261.8M856 252.1V261.3M857.4 251.6V260.8M858.8 251.1V260.3M860.2 250.5V259.8M861.7 250V259.3M863.1 249.5V258.9M864.5 248.9V258.3M865.9 248.3V257.8M867.3 247.6V257.2M868.7 246.9V256.6M870.2 246.2V255.9M871.6 245.5V255.3M873 244.7V254.7M874.4 244V254M875.8 243.3V253.4M877.3 242.6V252.7M878.7 241.8V252.1M880.1 241.1V251.5M881.5 240.4V250.8M882.9 239.7V250.2M884.3 238.9V249.6M885.8 238.2V248.9M887.2 237.5V248.3M888.6 236.8V247.7M890 236.1V247M891.4 235.5V246.6M892.9 235.1V246.2M894.3 236.4V248.4M895.7 236.6V248.8M897.1 236.4V249M898.5 235.9V249M899.9 235.1V248.7M901.4 234.2V248.3M902.8 233.3V247.9M904.2 232.4V247.5M905.6 231.5V247.1M907 230.6V246.7M908.5 229.7V246.3M909.9 228.8V245.9M911.3 227.9V245.4M912.7 227V244.9M914.1 226.1V244.3M915.5 225.1V243.6M917 224.1V242.9M918.4 223.1V242.2M919.8 222.1V241.4M921.2 221.1V240.7M922.6 220.2V240M924.1 219.2V239.3M925.5 218.2V238.5M926.9 217.2V237.8M928.3 216.2V237.1M929.7 215.2V236.4M931.1 214.3V235.6M932.6 213.3V234.9M934 212.3V234.2M935.4 211.4V233.5M936.8 210.5V232.8M938.2 209.6V232.2M939.7 208.8V231.7M941.1 208.1V231.1M942.5 207.3V230.5M943.9 206.5V230M945.3 205.8V229.4M946.7 205V228.8M948.2 204.2V228.3M949.6 203.4V227.7M951 202.7V227.1M952.4 201.9V226.6M953.8 201.1V226M955.3 200.4V225.4M956.7 199.6V224.9M958.1 198.8V224.3M959.5 198.1V223.8M960.9 197.4V223.3M962.3 196.8V222.9M963.8 196.8V222.9M965.2 197.1V223M966.6 198.1V223.6M968 207.9V229.9M969.4 208V230.1M970.9 208.1V230.3M972.3 208.2V230.6M973.7 208.2V230.8M975.1 207.8V230.6M976.5 207.3V230.3M977.9 206.6V229.8M979.4 205.9V229.3M980.8 205.1V228.8M982.2 204.4V228.2M983.6 203.7V227.7M985 202.9V227M986.5 202.2V226.3M987.9 201.4V225.7M989.3 200.6V225M990.7 199.9V224.3M992.1 199.1V223.6M993.5 198.3V222.9M995 197.6V222.2M996.4 196.8V221.5M997.8 196V220.8M999.2 195.3V220.1M1000.6 194.5V219.4M1002.1 193.7V218.7M1003.5 193V218M1004.9 192.2V217.3M1006.3 191.5V216.6M1007.7 190.8V215.9M1009.1 190.1V215.2M1010.6 189.6V214.5M1012 189V213.7M1013.4 188.4V213M1014.8 187.8V212.3M1016.2 187.2V211.6M1017.6 186.7V210.9M1019.1 186.1V210.1M1020.5 185.5V209.4M1021.9 184.9V208.7M1023.3 184.3V208M1024.7 183.9V207.4M1026.2 183.6V207" stroke="#000" stroke-width="0.65" fill="none"/>
<path d="M787 277.7h4.6M787 278.5h4.6M788.5 277.7h4.6M788.5 278.5h4.6M789.9 277.6h4.6M789.9 278.5h4.6M791.3 277.4h4.6M791.3 278.4h4.6M792.7 277.2h4.6M792.7 278.3h4.6M794.1 277h4.6M794.1 278.1h4.6M795.5 276.6h4.6M795.5 277.8h4.6M797 276.3h4.6M797 277.5h4.6M798.4 275.9h4.6M798.4 277.2h4.6M799.8 275.6h4.6M799.8 276.9h4.6M801.2 275.2h4.6M801.2 276.6h4.6M802.6 274.9h4.6M802.6 276.4h4.6M804.1 274.5h4.6M804.1 276.1h4.6M805.5 274.2h4.6M805.5 275.8h4.6M806.9 273.8h4.6M806.9 275.5h4.6M808.3 273.5h4.6M808.3 275.2h4.6M809.7 273.1h4.6M809.7 274.9h4.6M811.1 272.8h4.6M811.1 274.6h4.6M812.6 272.4h4.6M812.6 274.3h4.6M814 272h4.6M814 274h4.6M815.4 271.5h4.6M815.4 273.7h4.6M816.8 270.9h4.6M816.8 273.3h4.6M818.2 270h4.6M818.2 272.9h4.6M819.7 269.1h4.6M819.7 272.5h4.6M821.1 268.2h4.6M821.1 272.1h4.6M822.5 267.3h4.6M822.5 271.6h4.6M823.9 266.4h4.6M823.9 271.2h4.6M825.3 265.4h4.6M825.3 270.7h4.6M826.7 264.5h4.6M826.7 270.3h4.6M828.2 263.6h4.6M828.2 269.9h4.6M829.6 262.6h4.6M829.6 269.4h4.6M831 261.7h4.6M831 269h4.6M832.4 260.8h4.6M832.4 268.6h4.6M833.8 259.9h4.6M833.8 268.1h4.6M835.3 259.2h4.6M835.3 267.6h4.6M836.7 258.6h4.6M836.7 267.2h4.6M838.1 258h4.6M838.1 266.7h4.6M839.5 257.5h4.6M839.5 266.2h4.6M840.9 256.9h4.6M840.9 265.7h4.6M842.3 256.4h4.6M842.3 265.2h4.6M843.8 255.9h4.6M843.8 264.7h4.6M845.2 255.3h4.6M845.2 264.2h4.6M846.6 254.8h4.6M846.6 263.8h4.6M848 254.3h4.6M848 263.3h4.6M849.4 253.7h4.6M849.4 262.8h4.6M850.8 253.2h4.6M850.8 262.3h4.6M852.3 252.7h4.6M852.3 261.8h4.6M853.7 252.1h4.6M853.7 261.3h4.6M855.1 251.6h4.6M855.1 260.8h4.6M856.5 251.1h4.6M856.5 260.3h4.6M857.9 250.5h4.6M857.9 259.8h4.6M859.4 250h4.6M859.4 259.3h4.6M860.8 249.5h4.6M860.8 258.9h4.6M862.2 248.9h4.6M862.2 258.3h4.6M863.6 248.3h4.6M863.6 257.8h4.6M865 247.6h4.6M865 257.2h4.6M866.4 246.9h4.6M866.4 256.6h4.6M867.9 246.2h4.6M867.9 255.9h4.6M869.3 245.5h4.6M869.3 255.3h4.6M870.7 244.7h4.6M870.7 254.7h4.6M872.1 244h4.6M872.1 254h4.6M873.5 243.3h4.6M873.5 253.4h4.6M875 242.6h4.6M875 252.7h4.6M876.4 241.8h4.6M876.4 252.1h4.6M877.8 241.1h4.6M877.8 251.5h4.6M879.2 240.4h4.6M879.2 250.8h4.6M880.6 239.7h4.6M880.6 250.2h4.6M882 238.9h4.6M882 249.6h4.6M883.5 238.2h4.6M883.5 248.9h4.6M884.9 237.5h4.6M884.9 248.3h4.6M886.3 236.8h4.6M886.3 247.7h4.6M887.7 236.1h4.6M887.7 247h4.6M889.1 235.5h4.6M889.1 246.6h4.6M890.6 235.1h4.6M890.6 246.2h4.6M892 236.4h4.6M892 248.4h4.6M893.4 236.6h4.6M893.4 248.8h4.6M894.8 236.4h4.6M894.8 249h4.6M896.2 235.9h4.6M896.2 249h4.6M897.6 235.1h4.6M897.6 248.7h4.6M899.1 234.2h4.6M899.1 248.3h4.6M900.5 233.3h4.6M900.5 247.9h4.6M901.9 232.4h4.6M901.9 247.5h4.6M903.3 231.5h4.6M903.3 247.1h4.6M904.7 230.6h4.6M904.7 246.7h4.6M906.2 229.7h4.6M906.2 246.3h4.6M907.6 228.8h4.6M907.6 245.9h4.6M909 227.9h4.6M909 245.4h4.6M910.4 227h4.6M910.4 244.9h4.6M911.8 226.1h4.6M911.8 244.3h4.6M913.2 225.1h4.6M913.2 243.6h4.6M914.7 224.1h4.6M914.7 242.9h4.6M916.1 223.1h4.6M916.1 242.2h4.6M917.5 222.1h4.6M917.5 241.4h4.6M918.9 221.1h4.6M918.9 240.7h4.6M920.3 220.2h4.6M920.3 240h4.6M921.8 219.2h4.6M921.8 239.3h4.6M923.2 218.2h4.6M923.2 238.5h4.6M924.6 217.2h4.6M924.6 237.8h4.6M926 216.2h4.6M926 237.1h4.6M927.4 215.2h4.6M927.4 236.4h4.6M928.8 214.3h4.6M928.8 235.6h4.6M930.3 213.3h4.6M930.3 234.9h4.6M931.7 212.3h4.6M931.7 234.2h4.6M933.1 211.4h4.6M933.1 233.5h4.6M934.5 210.5h4.6M934.5 232.8h4.6M935.9 209.6h4.6M935.9 232.2h4.6M937.4 208.8h4.6M937.4 231.7h4.6M938.8 208.1h4.6M938.8 231.1h4.6M940.2 207.3h4.6M940.2 230.5h4.6M941.6 206.5h4.6M941.6 230h4.6M943 205.8h4.6M943 229.4h4.6M944.4 205h4.6M944.4 228.8h4.6M945.9 204.2h4.6M945.9 228.3h4.6M947.3 203.4h4.6M947.3 227.7h4.6M948.7 202.7h4.6M948.7 227.1h4.6M950.1 201.9h4.6M950.1 226.6h4.6M951.5 201.1h4.6M951.5 226h4.6M953 200.4h4.6M953 225.4h4.6M954.4 199.6h4.6M954.4 224.9h4.6M955.8 198.8h4.6M955.8 224.3h4.6M957.2 198.1h4.6M957.2 223.8h4.6M958.6 197.4h4.6M958.6 223.3h4.6M960 196.8h4.6M960 222.9h4.6M961.5 196.8h4.6M961.5 222.9h4.6M962.9 197.1h4.6M962.9 223h4.6M964.3 198.1h4.6M964.3 223.6h4.6M965.7 207.9h4.6M965.7 229.9h4.6M967.1 208h4.6M967.1 230.1h4.6M968.6 208.1h4.6M968.6 230.3h4.6M970 208.2h4.6M970 230.6h4.6M971.4 208.2h4.6M971.4 230.8h4.6M972.8 207.8h4.6M972.8 230.6h4.6M974.2 207.3h4.6M974.2 230.3h4.6M975.6 206.6h4.6M975.6 229.8h4.6M977.1 205.9h4.6M977.1 229.3h4.6M978.5 205.1h4.6M978.5 228.8h4.6M979.9 204.4h4.6M979.9 228.2h4.6M981.3 203.7h4.6M981.3 227.7h4.6M982.7 202.9h4.6M982.7 227h4.6M984.2 202.2h4.6M984.2 226.3h4.6M985.6 201.4h4.6M985.6 225.7h4.6M987 200.6h4.6M987 225h4.6M988.4 199.9h4.6M988.4 224.3h4.6M989.8 199.1h4.6M989.8 223.6h4.6M991.2 198.3h4.6M991.2 222.9h4.6M992.7 197.6h4.6M992.7 222.2h4.6M994.1 196.8h4.6M994.1 221.5h4.6M995.5 196h4.6M995.5 220.8h4.6M996.9 195.3h4.6M996.9 220.1h4.6M998.3 194.5h4.6M998.3 219.4h4.6M999.8 193.7h4.6M999.8 218.7h4.6M1001.2 193h4.6M1001.2 218h4.6M1002.6 192.2h4.6M1002.6 217.3h4.6M1004 191.5h4.6M1004 216.6h4.6M1005.4 190.8h4.6M1005.4 215.9h4.6M1006.8 190.1h4.6M1006.8 215.2h4.6M1008.3 189.6h4.6M1008.3 214.5h4.6M1009.7 189h4.6M1009.7 213.7h4.6M1011.1 188.4h4.6M1011.1 213h4.6M1012.5 187.8h4.6M1012.5 212.3h4.6M1013.9 187.2h4.6M1013.9 211.6h4.6M1015.3 186.7h4.6M1015.3 210.9h4.6M1016.8 186.1h4.6M1016.8 210.1h4.6M1018.2 185.5h4.6M1018.2 209.4h4.6M1019.6 184.9h4.6M1019.6 208.7h4.6M1021 184.3h4.6M1021 208h4.6M1022.4 183.9h4.6M1022.4 207.4h4.6M1023.9 183.6h4.6M1023.9 207h4.6" stroke="#000" stroke-width="0.7" fill="none"/>
<path d="M770.9 277.2h0M772.3 277.3h0M773.7 277.4h0M775.2 277.6h0M776.6 277.7h0M778 277.9h0M779.4 278h0M780.8 278.2h0M782.2 278.3h0M783.7 278.3h0M785.1 278.3h0M786.5 278.3h0M787.9 278.2h0M789.3 278.1h0M790.8 278.1h0M792.2 278h0M793.6 277.9h0M795 277.8h0M796.4 277.5h0M797.8 277.2h0M799.3 276.9h0M800.7 276.6h0M802.1 276.3h0M803.5 275.9h0M804.9 275.6h0M806.4 275.3h0M807.8 275h0M809.2 274.7h0M810.6 274.3h0M812 274h0M813.4 273.7h0M814.9 273.4h0M816.3 273h0M817.7 272.6h0M819.1 272.1h0M820.5 271.5h0M822 270.8h0M823.4 270.1h0M824.8 269.5h0M826.2 268.8h0M827.6 268.1h0M829 267.4h0M830.5 266.7h0M831.9 266h0M833.3 265.4h0M834.7 264.7h0M836.1 264h0M837.6 263.4h0M839 262.9h0M840.4 262.3h0M841.8 261.8h0M843.2 261.3h0M844.6 260.8h0M846.1 260.3h0M847.5 259.8h0M848.9 259.3h0M850.3 258.8h0M851.7 258.3h0M853.1 257.7h0M854.6 257.2h0M856 256.7h0M857.4 256.2h0M858.8 255.7h0M860.2 255.2h0M861.7 254.7h0M863.1 254.2h0M864.5 253.6h0M865.9 253h0M867.3 252.4h0M868.7 251.7h0M870.2 251.1h0M871.6 250.4h0M873 249.7h0M874.4 249h0M875.8 248.3h0M877.3 247.7h0M878.7 247h0M880.1 246.3h0M881.5 245.6h0M882.9 244.9h0M884.3 244.3h0M885.8 243.6h0M887.2 242.9h0M888.6 242.2h0M890 241.5h0M891.4 241h0M892.9 240.6h0M894.3 242.4h0M895.7 242.7h0M897.1 242.7h0M898.5 242.5h0M899.9 241.9h0M901.4 241.2h0M902.8 240.6h0M904.2 239.9h0M905.6 239.3h0M907 238.7h0M908.5 238h0M909.9 237.4h0M911.3 236.7h0M912.7 236h0M914.1 235.2h0M915.5 234.4h0M917 233.5h0M918.4 232.6h0M919.8 231.8h0M921.2 230.9h0M922.6 230.1h0M924.1 229.2h0M925.5 228.4h0M926.9 227.5h0M928.3 226.7h0M929.7 225.8h0M931.1 224.9h0M932.6 224.1h0M934 223.2h0M935.4 222.4h0M936.8 221.7h0M938.2 220.9h0M939.7 220.3h0M941.1 219.6h0M942.5 218.9h0M943.9 218.2h0M945.3 217.6h0M946.7 216.9h0M948.2 216.2h0M949.6 215.6h0M951 214.9h0M952.4 214.2h0M953.8 213.6h0M955.3 212.9h0M956.7 212.2h0M958.1 211.6h0M959.5 210.9h0M960.9 210.4h0M962.3 209.8h0M963.8 209.8h0M965.2 210.1h0M966.6 210.9h0M968 218.9h0M969.4 219h0M970.9 219.2h0M972.3 219.4h0M973.7 219.5h0M975.1 219.2h0M976.5 218.8h0M977.9 218.2h0M979.4 217.6h0M980.8 217h0M982.2 216.3h0M983.6 215.7h0M985 215h0M986.5 214.3h0M987.9 213.5h0M989.3 212.8h0M990.7 212.1h0M992.1 211.3h0M993.5 210.6h0M995 209.9h0M996.4 209.1h0M997.8 208.4h0M999.2 207.7h0M1000.6 206.9h0M1002.1 206.2h0M1003.5 205.5h0M1004.9 204.7h0M1006.3 204h0M1007.7 203.3h0M1009.1 202.7h0M1010.6 202h0M1012 201.4h0M1013.4 200.7h0M1014.8 200.1h0M1016.2 199.4h0M1017.6 198.8h0M1019.1 198.1h0M1020.5 197.5h0M1021.9 196.8h0M1023.3 196.2h0M1024.7 195.7h0M1026.2 195.3h0" stroke="#000" stroke-width="6" stroke-linecap="round" fill="none"/>
<path d="M770.9 105.4V294.4H1054.5M764.1 277.1H770.9M764.1 191.3H770.9M764.1 105.4H770.9M770.9 294.4v6.7M780.4 294.4v3.5M789.8 294.4v3.5M799.3 294.4v3.5M808.7 294.4v3.5M818.2 294.4v3.5M827.6 294.4v3.5M837.1 294.4v3.5M846.5 294.4v3.5M856 294.4v3.5M865.4 294.4v6.7M874.9 294.4v3.5M884.3 294.4v3.5M893.8 294.4v3.5M903.3 294.4v3.5M912.7 294.4v3.5M922.2 294.4v3.5M931.6 294.4v3.5M941.1 294.4v3.5M950.5 294.4v3.5M960 294.4v6.7M969.4 294.4v3.5M978.9 294.4v3.5M988.3 294.4v3.5M997.8 294.4v3.5M1007.2 294.4v3.5M1016.7 294.4v3.5M1026.2 294.4v3.5M1035.6 294.4v3.5M1045.1 294.4v3.5M1054.5 294.4v6.7" stroke="#000" stroke-width="2" fill="none" stroke-linecap="square"/>
<text x="760.7" y="282.1" font-size="14.5" font-weight="bold" text-anchor="end" fill="#000">1</text>
<text x="760.7" y="196.3" font-size="14.5" font-weight="bold" text-anchor="end" fill="#000">2</text>
<text x="760.7" y="110.4" font-size="14.5" font-weight="bold" text-anchor="end" fill="#000">3</text>
<text x="770.8" y="317.6" font-size="14.5" font-weight="bold" text-anchor="middle" fill="#000">0</text>
<text x="865.3" y="317.6" font-size="14.5" font-weight="bold" text-anchor="middle" fill="#000">200</text>
<text x="959.9" y="317.6" font-size="14.5" font-weight="bold" text-anchor="middle" fill="#000">400</text>
<text x="1054.4" y="317.6" font-size="14.5" font-weight="bold" text-anchor="middle" fill="#000">600</text>
<text x="912.8" y="340.5" font-size="15.7" font-weight="bold" text-anchor="middle" fill="#000">Time (seconds)</text>
<text transform="translate(722.8 199.8) rotate(-90)" font-size="15.5" font-weight="bold" text-anchor="middle" fill="#000">CD41</text>
<text transform="translate(740.9 199.6) rotate(-90)" font-size="15.5" font-weight="bold" text-anchor="middle" fill="#000">MFI Fold Change</text>
<text x="905.8" y="83.7" font-size="22.3" font-weight="bold" text-anchor="middle" fill="#000">Platelet Deposition</text>
<path d="M795.5 126.8H816.2" stroke="#444" stroke-width="1.1"/>
<circle cx="805.9" cy="126.8" r="3.2" fill="#000"/>
<text x="827.4" y="132.1" font-size="16" font-weight="normal" text-anchor="start" fill="#000">WB</text>
<path d="M795.5 151.6H816.2" stroke="#8c8c8c" stroke-width="1.1"/>
<rect x="802.6" y="148.4" width="6.4" height="6.4" fill="#8c8c8c"/>
<text x="827.4" y="156.9" font-size="16" font-weight="normal" text-anchor="start" fill="#000">DC</text>
<path d="M795.5 176.8H816.2" stroke="#d4d4d4" stroke-width="1.1"/>
<path d="M805.9 173.6L809.1 179.4H802.6Z" fill="#d4d4d4"/>
<text x="827.4" y="182.1" font-size="16" font-weight="normal" text-anchor="start" fill="#000">TP</text>
<text x="1063.4" y="36.5" font-size="46.5" font-weight="bold" text-anchor="start" fill="#000">C</text>
<rect x="1182.6" y="79.4" width="46.2" height="215.6" fill="#000"/>
<rect x="1252.3" y="269" width="42.2" height="26" fill="#a2a2a6" stroke="#000" stroke-width="2.8"/>
<rect x="1320.3" y="269" width="42.2" height="26" fill="#8b0000" stroke="#000" stroke-width="2.8"/>
<path d="M1160.1 78.1V295M1150.7 295H1387.7M1150.7 251.9H1160.1M1150.7 208.8H1160.1M1150.7 165.6H1160.1M1150.7 122.5H1160.1M1150.7 79.4H1160.1M1205.7 295v9.4M1273.4 295v9.4M1341.4 295v9.4" stroke="#000" stroke-width="2.5" fill="none"/>
<text x="1147.8" y="300.5" font-size="16" font-weight="bold" text-anchor="end" fill="#000">0</text>
<text x="1147.8" y="257.4" font-size="16" font-weight="bold" text-anchor="end" fill="#000">20</text>
<text x="1147.8" y="214.3" font-size="16" font-weight="bold" text-anchor="end" fill="#000">40</text>
<text x="1147.8" y="171.2" font-size="16" font-weight="bold" text-anchor="end" fill="#000">60</text>
<text x="1147.8" y="128" font-size="16" font-weight="bold" text-anchor="end" fill="#000">80</text>
<text x="1147.8" y="84.9" font-size="16" font-weight="bold" text-anchor="end" fill="#000">100</text>
<text transform="translate(1112.4 184.2) rotate(-90)" font-size="15.3" font-weight="bold" text-anchor="middle" fill="#000">Occurance (%)</text>
<text x="1280.6" y="48.8" font-size="22.2" font-weight="bold" text-anchor="middle" fill="#000">Thrombus Formation</text>
<text transform="translate(1210.7 318.8) rotate(-45)" font-size="16.5" font-weight="bold" text-anchor="end" fill="#000">WB</text>
<text transform="translate(1278.4 318.8) rotate(-45)" font-size="16.5" font-weight="bold" text-anchor="end" fill="#000">DC</text>
<text transform="translate(1346.4 318.8) rotate(-45)" font-size="16.5" font-weight="bold" text-anchor="end" fill="#000">DC + RT (D2)</text>
<text x="1443.8" y="36.2" font-size="46.5" font-weight="bold" text-anchor="start" fill="#000">D</text>
<path d="M1540.5 278.3V279.5M1541.9 274.8V279.7M1543.3 274.4V279.3M1544.7 273.8V278.7M1546.1 275.1V280M1547.5 275.1V280.1M1548.9 274.8V279.8M1550.3 273.9V278.9M1551.7 274.1V279.1M1553.1 274.7V279.7M1554.5 274.5V279.6M1555.9 274.8V279.8M1557.3 274.3V279.3M1558.7 274.9V280M1560.1 273.8V278.9M1561.5 273.4V278.5M1562.9 273.3V278.4M1564.4 273.7V278.8M1565.8 273.2V278.4M1567.2 274.8V280M1568.6 274.3V279.5M1570 273.2V278.3M1571.4 273.4V278.6M1572.8 274V279.2M1574.2 273.1V278.3M1575.6 273.6V278.8M1577 273.3V278.5M1578.4 274.1V279.4M1579.8 274.3V279.5M1581.2 273.8V279.1M1582.6 274.3V279.6M1584 273.9V279.2M1585.4 272.8V278.1M1586.8 273.9V279.2M1588.3 274.4V279.7M1589.7 274.4V279.7M1591.1 274.1V279.4M1592.5 273V278.4M1593.9 273.7V279.1M1595.3 273.8V279.2M1596.7 274.1V279.5M1598.1 272.5V277.9M1599.5 273.5V278.9M1600.9 273.8V279.3M1602.3 274.1V279.5M1603.7 274.1V279.5M1605.1 273.8V279.3M1606.5 272.9V278.4M1607.9 273.8V279.3M1609.3 274V279.4M1610.7 273.1V278.6M1612.1 273.5V279M1613.6 272.2V277.7M1615 273.7V279.2M1616.4 272.9V278.5M1617.8 272.5V278M1619.2 273.1V278.7M1620.6 272V277.6M1622 272.9V278.5M1623.4 273.3V278.9M1624.8 273V278.6M1626.2 273.6V279.2M1627.6 272.9V278.5M1629 273.2V278.8M1630.4 272V277.6M1631.8 272.1V277.7M1633.2 272.6V278.3M1634.6 273.5V279.1M1636 273V278.7M1637.5 273V278.7M1638.9 273V278.8M1640.3 273V278.7M1641.7 271.7V277.5M1643.1 273V278.8M1644.5 273V278.9M1645.9 271.2V277.2M1647.3 271.7V277.8M1648.7 270.8V277M1650.1 271.7V278M1651.5 270.7V277M1652.9 271V277.4M1654.3 270.6V277.1M1655.7 270.5V277.1M1657.1 270.8V277.5M1658.5 271.4V278.2M1659.9 271V278M1661.4 269.6V276.6M1662.8 269.4V276.5M1664.2 269.2V276.4M1665.6 270.2V277.5M1667 269.4V276.8M1668.4 269V276.5M1669.8 269.1V276.7M1671.2 268.7V276.3M1672.6 269V276.8M1674 268.6V276.5M1675.4 268.4V276.4M1676.8 269.1V277.1M1678.2 267.7V275.8M1679.6 267.4V275.7M1681 268.8V277.3M1682.4 266.8V275.6M1683.8 266.4V275.5M1685.3 266.7V276.1M1686.7 267.6V277.2M1688.1 265.6V275.5M1689.5 266.7V277M1690.9 264.8V275.3M1692.3 265V275.9M1693.7 265.9V277M1695.1 265.4V276.7M1696.5 264.1V275.8M1697.9 263.9V275.9M1699.3 263.2V275.5M1700.7 262.6V275.1M1702.1 263.6V276.4M1703.5 263.7V276.8M1704.9 261.6V275M1706.3 263.1V276.7M1707.7 261.2V275" stroke="#a9a9a9" stroke-width="0.9" fill="none"/>
<path d="M1538.2 278.3h4.6M1538.2 279.5h4.6M1539.6 274.8h4.6M1539.6 279.7h4.6M1541 274.4h4.6M1541 279.3h4.6M1542.4 273.8h4.6M1542.4 278.7h4.6M1543.8 275.1h4.6M1543.8 280h4.6M1545.2 275.1h4.6M1545.2 280.1h4.6M1546.6 274.8h4.6M1546.6 279.8h4.6M1548 273.9h4.6M1548 278.9h4.6M1549.4 274.1h4.6M1549.4 279.1h4.6M1550.8 274.7h4.6M1550.8 279.7h4.6M1552.2 274.5h4.6M1552.2 279.6h4.6M1553.6 274.8h4.6M1553.6 279.8h4.6M1555 274.3h4.6M1555 279.3h4.6M1556.4 274.9h4.6M1556.4 280h4.6M1557.8 273.8h4.6M1557.8 278.9h4.6M1559.2 273.4h4.6M1559.2 278.5h4.6M1560.6 273.3h4.6M1560.6 278.4h4.6M1562.1 273.7h4.6M1562.1 278.8h4.6M1563.5 273.2h4.6M1563.5 278.4h4.6M1564.9 274.8h4.6M1564.9 280h4.6M1566.3 274.3h4.6M1566.3 279.5h4.6M1567.7 273.2h4.6M1567.7 278.3h4.6M1569.1 273.4h4.6M1569.1 278.6h4.6M1570.5 274h4.6M1570.5 279.2h4.6M1571.9 273.1h4.6M1571.9 278.3h4.6M1573.3 273.6h4.6M1573.3 278.8h4.6M1574.7 273.3h4.6M1574.7 278.5h4.6M1576.1 274.1h4.6M1576.1 279.4h4.6M1577.5 274.3h4.6M1577.5 279.5h4.6M1578.9 273.8h4.6M1578.9 279.1h4.6M1580.3 274.3h4.6M1580.3 279.6h4.6M1581.7 273.9h4.6M1581.7 279.2h4.6M1583.1 272.8h4.6M1583.1 278.1h4.6M1584.5 273.9h4.6M1584.5 279.2h4.6M1586 274.4h4.6M1586 279.7h4.6M1587.4 274.4h4.6M1587.4 279.7h4.6M1588.8 274.1h4.6M1588.8 279.4h4.6M1590.2 273h4.6M1590.2 278.4h4.6M1591.6 273.7h4.6M1591.6 279.1h4.6M1593 273.8h4.6M1593 279.2h4.6M1594.4 274.1h4.6M1594.4 279.5h4.6M1595.8 272.5h4.6M1595.8 277.9h4.6M1597.2 273.5h4.6M1597.2 278.9h4.6M1598.6 273.8h4.6M1598.6 279.3h4.6M1600 274.1h4.6M1600 279.5h4.6M1601.4 274.1h4.6M1601.4 279.5h4.6M1602.8 273.8h4.6M1602.8 279.3h4.6M1604.2 272.9h4.6M1604.2 278.4h4.6M1605.6 273.8h4.6M1605.6 279.3h4.6M1607 274h4.6M1607 279.4h4.6M1608.4 273.1h4.6M1608.4 278.6h4.6M1609.8 273.5h4.6M1609.8 279h4.6M1611.3 272.2h4.6M1611.3 277.7h4.6M1612.7 273.7h4.6M1612.7 279.2h4.6M1614.1 272.9h4.6M1614.1 278.5h4.6M1615.5 272.5h4.6M1615.5 278h4.6M1616.9 273.1h4.6M1616.9 278.7h4.6M1618.3 272h4.6M1618.3 277.6h4.6M1619.7 272.9h4.6M1619.7 278.5h4.6M1621.1 273.3h4.6M1621.1 278.9h4.6M1622.5 273h4.6M1622.5 278.6h4.6M1623.9 273.6h4.6M1623.9 279.2h4.6M1625.3 272.9h4.6M1625.3 278.5h4.6M1626.7 273.2h4.6M1626.7 278.8h4.6M1628.1 272h4.6M1628.1 277.6h4.6M1629.5 272.1h4.6M1629.5 277.7h4.6M1630.9 272.6h4.6M1630.9 278.3h4.6M1632.3 273.5h4.6M1632.3 279.1h4.6M1633.7 273h4.6M1633.7 278.7h4.6M1635.2 273h4.6M1635.2 278.7h4.6M1636.6 273h4.6M1636.6 278.8h4.6M1638 273h4.6M1638 278.7h4.6M1639.4 271.7h4.6M1639.4 277.5h4.6M1640.8 273h4.6M1640.8 278.8h4.6M1642.2 273h4.6M1642.2 278.9h4.6M1643.6 271.2h4.6M1643.6 277.2h4.6M1645 271.7h4.6M1645 277.8h4.6M1646.4 270.8h4.6M1646.4 277h4.6M1647.8 271.7h4.6M1647.8 278h4.6M1649.2 270.7h4.6M1649.2 277h4.6M1650.6 271h4.6M1650.6 277.4h4.6M1652 270.6h4.6M1652 277.1h4.6M1653.4 270.5h4.6M1653.4 277.1h4.6M1654.8 270.8h4.6M1654.8 277.5h4.6M1656.2 271.4h4.6M1656.2 278.2h4.6M1657.6 271h4.6M1657.6 278h4.6M1659.1 269.6h4.6M1659.1 276.6h4.6M1660.5 269.4h4.6M1660.5 276.5h4.6M1661.9 269.2h4.6M1661.9 276.4h4.6M1663.3 270.2h4.6M1663.3 277.5h4.6M1664.7 269.4h4.6M1664.7 276.8h4.6M1666.1 269h4.6M1666.1 276.5h4.6M1667.5 269.1h4.6M1667.5 276.7h4.6M1668.9 268.7h4.6M1668.9 276.3h4.6M1670.3 269h4.6M1670.3 276.8h4.6M1671.7 268.6h4.6M1671.7 276.5h4.6M1673.1 268.4h4.6M1673.1 276.4h4.6M1674.5 269.1h4.6M1674.5 277.1h4.6M1675.9 267.7h4.6M1675.9 275.8h4.6M1677.3 267.4h4.6M1677.3 275.7h4.6M1678.7 268.8h4.6M1678.7 277.3h4.6M1680.1 266.8h4.6M1680.1 275.6h4.6M1681.5 266.4h4.6M1681.5 275.5h4.6M1683 266.7h4.6M1683 276.1h4.6M1684.4 267.6h4.6M1684.4 277.2h4.6M1685.8 265.6h4.6M1685.8 275.5h4.6M1687.2 266.7h4.6M1687.2 277h4.6M1688.6 264.8h4.6M1688.6 275.3h4.6M1690 265h4.6M1690 275.9h4.6M1691.4 265.9h4.6M1691.4 277h4.6M1692.8 265.4h4.6M1692.8 276.7h4.6M1694.2 264.1h4.6M1694.2 275.8h4.6M1695.6 263.9h4.6M1695.6 275.9h4.6M1697 263.2h4.6M1697 275.5h4.6M1698.4 262.6h4.6M1698.4 275.1h4.6M1699.8 263.6h4.6M1699.8 276.4h4.6M1701.2 263.7h4.6M1701.2 276.8h4.6M1702.6 261.6h4.6M1702.6 275h4.6M1704 263.1h4.6M1704 276.7h4.6M1705.4 261.2h4.6M1705.4 275h4.6" stroke="#a9a9a9" stroke-width="1.0" fill="none"/>
<path d="M1454.7 278.7h0M1456.1 278.8h0M1457.5 278.8h0M1458.9 279h0M1460.3 279.1h0M1461.7 279.2h0M1463.1 279.3h0M1464.5 279.5h0M1465.9 279.6h0M1467.4 279.7h0M1468.8 279.8h0M1470.2 279.8h0M1471.6 279.8h0M1473 279.8h0M1474.4 279.8h0M1475.8 279.8h0M1477.2 279.8h0M1478.6 279.8h0M1480 279.8h0M1481.4 279.8h0M1482.8 279.8h0M1484.2 279.8h0M1485.6 279.8h0M1487 279.8h0M1488.4 279.8h0M1489.8 279.8h0M1491.3 279.8h0M1492.7 279.8h0M1494.1 279.8h0M1495.5 279.8h0M1496.9 279.8h0M1498.3 279.8h0M1499.7 279.8h0M1501.1 279.8h0M1502.5 279.8h0M1503.9 279.8h0M1505.3 279.8h0M1506.7 279.8h0M1508.1 279.8h0M1509.5 279.8h0M1510.9 279.8h0M1512.3 279.8h0M1513.7 279.8h0M1515.1 279.8h0M1516.6 279.8h0M1518 279.8h0M1519.4 279.8h0M1520.8 279.8h0M1522.2 279.8h0M1523.6 279.8h0M1525 279.8h0M1526.4 279.8h0M1527.8 279.8h0M1529.2 279.8h0M1530.6 279.8h0M1532 279.8h0M1533.4 279.8h0M1534.8 279.8h0M1536.2 279.8h0M1537.6 279.7h0M1539 279.5h0M1540.5 278.9h0M1541.9 277.2h0M1543.3 276.8h0M1544.7 276.2h0M1546.1 277.6h0M1547.5 277.6h0M1548.9 277.3h0M1550.3 276.4h0M1551.7 276.6h0M1553.1 277.2h0M1554.5 277h0M1555.9 277.3h0M1557.3 276.8h0M1558.7 277.5h0M1560.1 276.3h0M1561.5 276h0M1562.9 275.9h0M1564.4 276.2h0M1565.8 275.8h0M1567.2 277.4h0M1568.6 276.9h0M1570 275.7h0M1571.4 276h0M1572.8 276.6h0M1574.2 275.7h0M1575.6 276.2h0M1577 275.9h0M1578.4 276.7h0M1579.8 276.9h0M1581.2 276.4h0M1582.6 277h0M1584 276.5h0M1585.4 275.5h0M1586.8 276.6h0M1588.3 277.1h0M1589.7 277h0M1591.1 276.8h0M1592.5 275.7h0M1593.9 276.4h0M1595.3 276.5h0M1596.7 276.8h0M1598.1 275.2h0M1599.5 276.2h0M1600.9 276.5h0M1602.3 276.8h0M1603.7 276.8h0M1605.1 276.5h0M1606.5 275.6h0M1607.9 276.5h0M1609.3 276.7h0M1610.7 275.9h0M1612.1 276.3h0M1613.6 274.9h0M1615 276.5h0M1616.4 275.7h0M1617.8 275.2h0M1619.2 275.9h0M1620.6 274.8h0M1622 275.7h0M1623.4 276.1h0M1624.8 275.8h0M1626.2 276.4h0M1627.6 275.7h0M1629 276h0M1630.4 274.8h0M1631.8 274.9h0M1633.2 275.5h0M1634.6 276.3h0M1636 275.9h0M1637.5 275.9h0M1638.9 275.9h0M1640.3 275.8h0M1641.7 274.6h0M1643.1 275.9h0M1644.5 276h0M1645.9 274.2h0M1647.3 274.8h0M1648.7 273.9h0M1650.1 274.9h0M1651.5 273.8h0M1652.9 274.2h0M1654.3 273.8h0M1655.7 273.8h0M1657.1 274.2h0M1658.5 274.8h0M1659.9 274.5h0M1661.4 273.1h0M1662.8 273h0M1664.2 272.8h0M1665.6 273.8h0M1667 273.1h0M1668.4 272.7h0M1669.8 272.9h0M1671.2 272.5h0M1672.6 272.9h0M1674 272.6h0M1675.4 272.4h0M1676.8 273.1h0M1678.2 271.7h0M1679.6 271.5h0M1681 273.1h0M1682.4 271.2h0M1683.8 271h0M1685.3 271.4h0M1686.7 272.4h0M1688.1 270.6h0M1689.5 271.9h0M1690.9 270h0M1692.3 270.4h0M1693.7 271.4h0M1695.1 271h0M1696.5 270h0M1697.9 269.9h0M1699.3 269.4h0M1700.7 268.8h0M1702.1 270h0M1703.5 270.3h0M1704.9 268.3h0M1706.3 269.9h0M1707.7 268.1h0" stroke="#a9a9a9" stroke-width="5.5" stroke-linecap="round" fill="none"/>
<path d="M1454.7 278.2h0M1456.1 278.2h0M1457.5 278.3h0M1458.9 278.3h0M1460.3 278.3h0M1461.7 278.3h0M1463.1 278.4h0M1464.5 278.4h0M1465.9 278.4h0M1467.4 278.5h0M1468.8 278.5h0M1470.2 278.5h0M1471.6 278.6h0M1473 278.6h0M1474.4 278.6h0M1475.8 278.7h0M1477.2 278.7h0M1478.6 278.7h0M1480 278.8h0M1481.4 278.8h0M1482.8 278.8h0M1484.2 278.9h0M1485.6 278.9h0M1487 278.9h0M1488.4 279h0M1489.8 279h0M1491.3 279h0M1492.7 279.1h0M1494.1 279.1h0M1495.5 279.1h0M1496.9 279.2h0M1498.3 279.2h0M1499.7 279.2h0M1501.1 279.2h0M1502.5 279.3h0M1503.9 279.3h0M1505.3 279.3h0M1506.7 279.3h0M1508.1 279.3h0M1509.5 279.3h0M1510.9 279.3h0M1512.3 279.3h0M1513.7 279.3h0M1515.1 279.4h0M1516.6 279.4h0M1518 279.4h0M1519.4 279.4h0M1520.8 279.4h0M1522.2 279.4h0M1523.6 279.4h0M1525 279.4h0M1526.4 279.4h0M1527.8 279.4h0M1529.2 279.5h0M1530.6 279.5h0M1532 279.5h0M1533.4 279.5h0M1534.8 279.5h0M1536.2 279.5h0M1537.6 279.5h0M1539 279.5h0M1540.5 279.5h0M1541.9 279.5h0M1543.3 279.6h0M1544.7 279.6h0M1546.1 279.6h0M1547.5 279.6h0M1548.9 279.6h0M1550.3 279.6h0M1551.7 279.6h0M1553.1 279.6h0M1554.5 279.6h0M1555.9 279.6h0M1557.3 279.6h0M1558.7 279.7h0M1560.1 279.7h0M1561.5 279.7h0M1562.9 279.7h0M1564.4 279.7h0M1565.8 279.7h0M1567.2 279.7h0M1568.6 279.7h0M1570 279.7h0M1571.4 279.7h0M1572.8 279.8h0M1574.2 279.8h0M1575.6 279.8h0M1577 279.8h0M1578.4 279.8h0M1579.8 279.8h0M1581.2 279.8h0M1582.6 279.8h0M1584 279.8h0M1585.4 279.8h0M1586.8 279.9h0M1588.3 279.9h0M1589.7 279.9h0M1591.1 279.9h0M1592.5 279.9h0M1593.9 279.9h0M1595.3 279.9h0M1596.7 279.9h0M1598.1 279.9h0M1599.5 279.9h0M1600.9 280h0M1602.3 280h0M1603.7 280h0M1605.1 280h0M1606.5 280h0M1607.9 280h0M1609.3 280h0M1610.7 280h0M1612.1 280h0M1613.6 280h0M1615 280.1h0M1616.4 280.1h0M1617.8 280.1h0M1619.2 280.1h0M1620.6 280.1h0M1622 280.1h0M1623.4 280.1h0M1624.8 280.1h0M1626.2 280.1h0M1627.6 280.1h0M1629 280.2h0M1630.4 280.2h0M1631.8 280.2h0M1633.2 280.2h0M1634.6 280.2h0M1636 280.2h0M1637.5 280.2h0M1638.9 280.2h0M1640.3 280.2h0M1641.7 280.2h0M1643.1 280.2h0M1644.5 280.3h0M1645.9 280.3h0M1647.3 280.3h0M1648.7 280.3h0M1650.1 280.3h0M1651.5 280.3h0M1652.9 280.3h0M1654.3 280.3h0M1655.7 280.3h0M1657.1 280.3h0M1658.5 280.3h0M1659.9 280.4h0M1661.4 280.4h0M1662.8 280.4h0M1664.2 280.4h0M1665.6 280.4h0M1667 280.4h0M1668.4 280.4h0M1669.8 280.4h0M1671.2 280.4h0M1672.6 280.4h0M1674 280.4h0M1675.4 280.5h0M1676.8 280.5h0M1678.2 280.5h0M1679.6 280.5h0M1681 280.5h0M1682.4 280.5h0M1683.8 280.5h0M1685.3 280.5h0M1686.7 280.5h0M1688.1 280.5h0M1689.5 280.5h0M1690.9 280.5h0M1692.3 280.6h0M1693.7 280.6h0M1695.1 280.6h0M1696.5 280.6h0M1697.9 280.6h0M1699.3 280.6h0M1700.7 280.6h0M1702.1 280.6h0M1703.5 280.6h0M1704.9 280.6h0M1706.3 280.6h0M1707.7 280.6h0" stroke="#8b0a0a" stroke-width="6.2" stroke-linecap="round" fill="none"/>
<path d="M1468.8 278.5V279.3M1470.2 278.4V279.4M1471.6 278.4V279.4M1473 278.4V279.5M1474.4 278.4V279.5M1475.8 278.3V279.5M1477.2 278.1V279.4M1478.6 277.8V279.2M1480 277.5V279M1481.4 277.1V278.7M1482.8 276.8V278.6M1484.2 276.3V278.5M1485.6 275.8V278.4M1487 275.2V278.4M1488.4 274.6V278.2M1489.8 273.9V278M1491.3 273.2V277.8M1492.7 272.4V277.5M1494.1 271.6V277.2M1495.5 270.8V276.8M1496.9 269.9V276.4M1498.3 268.9V276M1499.7 267.9V275.5M1501.1 266.6V275.2M1502.5 265.1V274.9M1503.9 263.2V274.8M1505.3 261.2V274.7M1506.7 259.1V274.6M1508.1 257.1V274.5M1509.5 255.1V274.5M1510.9 253.1V274.4M1512.3 251.2V274.2M1513.7 249.6V273.9M1515.1 248.2V273.3M1516.6 247.1V272.6M1518 245.9V271.9M1519.4 244.9V271.2M1520.8 243.8V270.5M1522.2 242.7V269.8M1523.6 241.7V269.2M1525 240.9V268.6M1526.4 240.4V268.2M1527.8 240.2V268M1529.2 240.1V267.7M1530.6 239.9V267.5M1532 239.8V267.3M1533.4 239.7V267M1534.8 239.6V266.8M1536.2 239.4V266.6M1537.6 239.3V266.4M1539 239.2V266.1M1540.5 239V265.9M1541.9 238.9V265.7M1543.3 238.8V265.5M1544.7 238.7V265.2M1546.1 238.5V265M1547.5 238.4V264.7M1548.9 238.1V264.4M1550.3 237.8V264.1M1551.7 237.5V263.7M1553.1 237.2V263.3M1554.5 236.8V262.9M1555.9 236.5V262.5M1557.3 236.1V262.1M1558.7 235.8V261.7M1560.1 235.4V261.3M1561.5 235.1V260.9M1562.9 234.8V260.5M1564.4 234.4V260.2M1565.8 234.1V259.8M1567.2 233.7V259.4M1568.6 233.4V259M1570 233V258.6M1571.4 232.6V258.1M1572.8 232V257.6M1574.2 231.3V257.1M1575.6 230.6V256.5M1577 229.9V255.9M1578.4 229.1V255.3M1579.8 228.4V254.7M1581.2 227.6V254.1M1582.6 226.9V253.5M1584 226.2V252.9M1585.4 225.4V252.3M1586.8 224.7V251.7M1588.3 223.9V251.1M1589.7 223.2V250.6M1591.1 222.5V250M1592.5 221.7V249.4M1593.9 220.9V248.7M1595.3 219.9V248M1596.7 218.5V247M1598.1 217V246M1599.5 215.4V244.9M1600.9 213.8V243.7M1602.3 212.3V242.7M1603.7 211.2V242M1605.1 210.5V241.5M1606.5 210.4V242M1607.9 209.9V241.5M1609.3 209V240.8M1610.7 207.8V239.7M1612.1 206.5V238.6M1613.6 205.2V237.5M1615 203.9V236.4M1616.4 202.7V235.3M1617.8 201.4V234.1M1619.2 200.2V233M1620.6 199V231.8M1622 197.8V230.7M1623.4 196.6V229.5M1624.8 195.4V228.3M1626.2 194.3V227.2M1627.6 193.1V226M1629 191.9V224.8M1630.4 190.8V223.6M1631.8 189.6V222.5M1633.2 188.4V221.3M1634.6 187.3V220.1M1636 186.1V219M1637.5 184.9V217.8M1638.9 183.8V216.6M1640.3 182.6V215.4M1641.7 181.3V214.2M1643.1 179.9V212.8M1644.5 178.6V211.4M1645.9 177.6V210.5M1647.3 177V209.9M1648.7 178.4V211.3M1650.1 177.8V210.7M1651.5 176.9V209.8M1652.9 175.6V208.5M1654.3 174.2V207.1M1655.7 172.8V205.6M1657.1 171.3V204.2M1658.5 169.9V202.8M1659.9 168.4V201.3M1661.4 167V199.9M1662.8 165.6V198.5M1664.2 164.2V197.1M1665.6 162.8V195.8M1667 161.6V194.7M1668.4 160.4V193.7M1669.8 159.3V192.8M1671.2 158.2V191.8M1672.6 157V190.9M1674 155.9V190M1675.4 154.8V189M1676.8 153.6V188.1M1678.2 152.5V187.1M1679.6 151.4V186.2M1681 150.2V185.3M1682.4 149.1V184.3M1683.8 148V183.4M1685.3 146.8V182.5M1686.7 145.7V181.5M1688.1 144.6V180.6M1689.5 143.6V179.8M1690.9 142.7V179.1M1692.3 141.9V178.4M1693.7 141.1V177.7M1695.1 140.3V177M1696.5 139.5V176.3M1697.9 138.7V175.7M1699.3 137.9V175M1700.7 137.1V174.3M1702.1 136.5V173.8M1703.5 136.2V173.6M1704.9 136.1V173.7M1706.3 136.2V173.8M1707.7 136.3V174" stroke="#000" stroke-width="0.65" fill="none"/>
<path d="M1466.5 278.5h4.6M1466.5 279.3h4.6M1467.9 278.4h4.6M1467.9 279.4h4.6M1469.3 278.4h4.6M1469.3 279.4h4.6M1470.7 278.4h4.6M1470.7 279.5h4.6M1472.1 278.4h4.6M1472.1 279.5h4.6M1473.5 278.3h4.6M1473.5 279.5h4.6M1474.9 278.1h4.6M1474.9 279.4h4.6M1476.3 277.8h4.6M1476.3 279.2h4.6M1477.7 277.5h4.6M1477.7 279h4.6M1479.1 277.1h4.6M1479.1 278.7h4.6M1480.5 276.8h4.6M1480.5 278.6h4.6M1481.9 276.3h4.6M1481.9 278.5h4.6M1483.3 275.8h4.6M1483.3 278.4h4.6M1484.7 275.2h4.6M1484.7 278.4h4.6M1486.1 274.6h4.6M1486.1 278.2h4.6M1487.5 273.9h4.6M1487.5 278h4.6M1489 273.2h4.6M1489 277.8h4.6M1490.4 272.4h4.6M1490.4 277.5h4.6M1491.8 271.6h4.6M1491.8 277.2h4.6M1493.2 270.8h4.6M1493.2 276.8h4.6M1494.6 269.9h4.6M1494.6 276.4h4.6M1496 268.9h4.6M1496 276h4.6M1497.4 267.9h4.6M1497.4 275.5h4.6M1498.8 266.6h4.6M1498.8 275.2h4.6M1500.2 265.1h4.6M1500.2 274.9h4.6M1501.6 263.2h4.6M1501.6 274.8h4.6M1503 261.2h4.6M1503 274.7h4.6M1504.4 259.1h4.6M1504.4 274.6h4.6M1505.8 257.1h4.6M1505.8 274.5h4.6M1507.2 255.1h4.6M1507.2 274.5h4.6M1508.6 253.1h4.6M1508.6 274.4h4.6M1510 251.2h4.6M1510 274.2h4.6M1511.4 249.6h4.6M1511.4 273.9h4.6M1512.8 248.2h4.6M1512.8 273.3h4.6M1514.3 247.1h4.6M1514.3 272.6h4.6M1515.7 245.9h4.6M1515.7 271.9h4.6M1517.1 244.9h4.6M1517.1 271.2h4.6M1518.5 243.8h4.6M1518.5 270.5h4.6M1519.9 242.7h4.6M1519.9 269.8h4.6M1521.3 241.7h4.6M1521.3 269.2h4.6M1522.7 240.9h4.6M1522.7 268.6h4.6M1524.1 240.4h4.6M1524.1 268.2h4.6M1525.5 240.2h4.6M1525.5 268h4.6M1526.9 240.1h4.6M1526.9 267.7h4.6M1528.3 239.9h4.6M1528.3 267.5h4.6M1529.7 239.8h4.6M1529.7 267.3h4.6M1531.1 239.7h4.6M1531.1 267h4.6M1532.5 239.6h4.6M1532.5 266.8h4.6M1533.9 239.4h4.6M1533.9 266.6h4.6M1535.3 239.3h4.6M1535.3 266.4h4.6M1536.7 239.2h4.6M1536.7 266.1h4.6M1538.2 239h4.6M1538.2 265.9h4.6M1539.6 238.9h4.6M1539.6 265.7h4.6M1541 238.8h4.6M1541 265.5h4.6M1542.4 238.7h4.6M1542.4 265.2h4.6M1543.8 238.5h4.6M1543.8 265h4.6M1545.2 238.4h4.6M1545.2 264.7h4.6M1546.6 238.1h4.6M1546.6 264.4h4.6M1548 237.8h4.6M1548 264.1h4.6M1549.4 237.5h4.6M1549.4 263.7h4.6M1550.8 237.2h4.6M1550.8 263.3h4.6M1552.2 236.8h4.6M1552.2 262.9h4.6M1553.6 236.5h4.6M1553.6 262.5h4.6M1555 236.1h4.6M1555 262.1h4.6M1556.4 235.8h4.6M1556.4 261.7h4.6M1557.8 235.4h4.6M1557.8 261.3h4.6M1559.2 235.1h4.6M1559.2 260.9h4.6M1560.6 234.8h4.6M1560.6 260.5h4.6M1562.1 234.4h4.6M1562.1 260.2h4.6M1563.5 234.1h4.6M1563.5 259.8h4.6M1564.9 233.7h4.6M1564.9 259.4h4.6M1566.3 233.4h4.6M1566.3 259h4.6M1567.7 233h4.6M1567.7 258.6h4.6M1569.1 232.6h4.6M1569.1 258.1h4.6M1570.5 232h4.6M1570.5 257.6h4.6M1571.9 231.3h4.6M1571.9 257.1h4.6M1573.3 230.6h4.6M1573.3 256.5h4.6M1574.7 229.9h4.6M1574.7 255.9h4.6M1576.1 229.1h4.6M1576.1 255.3h4.6M1577.5 228.4h4.6M1577.5 254.7h4.6M1578.9 227.6h4.6M1578.9 254.1h4.6M1580.3 226.9h4.6M1580.3 253.5h4.6M1581.7 226.2h4.6M1581.7 252.9h4.6M1583.1 225.4h4.6M1583.1 252.3h4.6M1584.5 224.7h4.6M1584.5 251.7h4.6M1586 223.9h4.6M1586 251.1h4.6M1587.4 223.2h4.6M1587.4 250.6h4.6M1588.8 222.5h4.6M1588.8 250h4.6M1590.2 221.7h4.6M1590.2 249.4h4.6M1591.6 220.9h4.6M1591.6 248.7h4.6M1593 219.9h4.6M1593 248h4.6M1594.4 218.5h4.6M1594.4 247h4.6M1595.8 217h4.6M1595.8 246h4.6M1597.2 215.4h4.6M1597.2 244.9h4.6M1598.6 213.8h4.6M1598.6 243.7h4.6M1600 212.3h4.6M1600 242.7h4.6M1601.4 211.2h4.6M1601.4 242h4.6M1602.8 210.5h4.6M1602.8 241.5h4.6M1604.2 210.4h4.6M1604.2 242h4.6M1605.6 209.9h4.6M1605.6 241.5h4.6M1607 209h4.6M1607 240.8h4.6M1608.4 207.8h4.6M1608.4 239.7h4.6M1609.8 206.5h4.6M1609.8 238.6h4.6M1611.3 205.2h4.6M1611.3 237.5h4.6M1612.7 203.9h4.6M1612.7 236.4h4.6M1614.1 202.7h4.6M1614.1 235.3h4.6M1615.5 201.4h4.6M1615.5 234.1h4.6M1616.9 200.2h4.6M1616.9 233h4.6M1618.3 199h4.6M1618.3 231.8h4.6M1619.7 197.8h4.6M1619.7 230.7h4.6M1621.1 196.6h4.6M1621.1 229.5h4.6M1622.5 195.4h4.6M1622.5 228.3h4.6M1623.9 194.3h4.6M1623.9 227.2h4.6M1625.3 193.1h4.6M1625.3 226h4.6M1626.7 191.9h4.6M1626.7 224.8h4.6M1628.1 190.8h4.6M1628.1 223.6h4.6M1629.5 189.6h4.6M1629.5 222.5h4.6M1630.9 188.4h4.6M1630.9 221.3h4.6M1632.3 187.3h4.6M1632.3 220.1h4.6M1633.7 186.1h4.6M1633.7 219h4.6M1635.2 184.9h4.6M1635.2 217.8h4.6M1636.6 183.8h4.6M1636.6 216.6h4.6M1638 182.6h4.6M1638 215.4h4.6M1639.4 181.3h4.6M1639.4 214.2h4.6M1640.8 179.9h4.6M1640.8 212.8h4.6M1642.2 178.6h4.6M1642.2 211.4h4.6M1643.6 177.6h4.6M1643.6 210.5h4.6M1645 177h4.6M1645 209.9h4.6M1646.4 178.4h4.6M1646.4 211.3h4.6M1647.8 177.8h4.6M1647.8 210.7h4.6M1649.2 176.9h4.6M1649.2 209.8h4.6M1650.6 175.6h4.6M1650.6 208.5h4.6M1652 174.2h4.6M1652 207.1h4.6M1653.4 172.8h4.6M1653.4 205.6h4.6M1654.8 171.3h4.6M1654.8 204.2h4.6M1656.2 169.9h4.6M1656.2 202.8h4.6M1657.6 168.4h4.6M1657.6 201.3h4.6M1659.1 167h4.6M1659.1 199.9h4.6M1660.5 165.6h4.6M1660.5 198.5h4.6M1661.9 164.2h4.6M1661.9 197.1h4.6M1663.3 162.8h4.6M1663.3 195.8h4.6M1664.7 161.6h4.6M1664.7 194.7h4.6M1666.1 160.4h4.6M1666.1 193.7h4.6M1667.5 159.3h4.6M1667.5 192.8h4.6M1668.9 158.2h4.6M1668.9 191.8h4.6M1670.3 157h4.6M1670.3 190.9h4.6M1671.7 155.9h4.6M1671.7 190h4.6M1673.1 154.8h4.6M1673.1 189h4.6M1674.5 153.6h4.6M1674.5 188.1h4.6M1675.9 152.5h4.6M1675.9 187.1h4.6M1677.3 151.4h4.6M1677.3 186.2h4.6M1678.7 150.2h4.6M1678.7 185.3h4.6M1680.1 149.1h4.6M1680.1 184.3h4.6M1681.5 148h4.6M1681.5 183.4h4.6M1683 146.8h4.6M1683 182.5h4.6M1684.4 145.7h4.6M1684.4 181.5h4.6M1685.8 144.6h4.6M1685.8 180.6h4.6M1687.2 143.6h4.6M1687.2 179.8h4.6M1688.6 142.7h4.6M1688.6 179.1h4.6M1690 141.9h4.6M1690 178.4h4.6M1691.4 141.1h4.6M1691.4 177.7h4.6M1692.8 140.3h4.6M1692.8 177h4.6M1694.2 139.5h4.6M1694.2 176.3h4.6M1695.6 138.7h4.6M1695.6 175.7h4.6M1697 137.9h4.6M1697 175h4.6M1698.4 137.1h4.6M1698.4 174.3h4.6M1699.8 136.5h4.6M1699.8 173.8h4.6M1701.2 136.2h4.6M1701.2 173.6h4.6M1702.6 136.1h4.6M1702.6 173.7h4.6M1704 136.2h4.6M1704 173.8h4.6M1705.4 136.3h4.6M1705.4 174h4.6" stroke="#000" stroke-width="0.7" fill="none"/>
<path d="M1454.7 278.6h0M1456.1 278.6h0M1457.5 278.7h0M1458.9 278.7h0M1460.3 278.7h0M1461.7 278.7h0M1463.1 278.8h0M1464.5 278.8h0M1465.9 278.8h0M1467.4 278.8h0M1468.8 278.9h0M1470.2 278.9h0M1471.6 278.9h0M1473 279h0M1474.4 279h0M1475.8 278.9h0M1477.2 278.7h0M1478.6 278.5h0M1480 278.2h0M1481.4 277.9h0M1482.8 277.7h0M1484.2 277.4h0M1485.6 277.1h0M1487 276.8h0M1488.4 276.4h0M1489.8 276h0M1491.3 275.5h0M1492.7 275h0M1494.1 274.4h0M1495.5 273.8h0M1496.9 273.1h0M1498.3 272.4h0M1499.7 271.7h0M1501.1 270.9h0M1502.5 270h0M1503.9 269h0M1505.3 267.9h0M1506.7 266.9h0M1508.1 265.8h0M1509.5 264.8h0M1510.9 263.7h0M1512.3 262.7h0M1513.7 261.7h0M1515.1 260.8h0M1516.6 259.8h0M1518 258.9h0M1519.4 258h0M1520.8 257.1h0M1522.2 256.2h0M1523.6 255.4h0M1525 254.8h0M1526.4 254.3h0M1527.8 254.1h0M1529.2 253.9h0M1530.6 253.7h0M1532 253.5h0M1533.4 253.4h0M1534.8 253.2h0M1536.2 253h0M1537.6 252.8h0M1539 252.7h0M1540.5 252.5h0M1541.9 252.3h0M1543.3 252.1h0M1544.7 251.9h0M1546.1 251.8h0M1547.5 251.5h0M1548.9 251.3h0M1550.3 251h0M1551.7 250.6h0M1553.1 250.2h0M1554.5 249.9h0M1555.9 249.5h0M1557.3 249.1h0M1558.7 248.8h0M1560.1 248.4h0M1561.5 248h0M1562.9 247.7h0M1564.4 247.3h0M1565.8 246.9h0M1567.2 246.5h0M1568.6 246.2h0M1570 245.8h0M1571.4 245.3h0M1572.8 244.8h0M1574.2 244.2h0M1575.6 243.5h0M1577 242.9h0M1578.4 242.2h0M1579.8 241.5h0M1581.2 240.9h0M1582.6 240.2h0M1584 239.5h0M1585.4 238.9h0M1586.8 238.2h0M1588.3 237.5h0M1589.7 236.9h0M1591.1 236.2h0M1592.5 235.5h0M1593.9 234.8h0M1595.3 233.9h0M1596.7 232.8h0M1598.1 231.5h0M1599.5 230.1h0M1600.9 228.8h0M1602.3 227.5h0M1603.7 226.6h0M1605.1 226h0M1606.5 226.2h0M1607.9 225.7h0M1609.3 224.9h0M1610.7 223.8h0M1612.1 222.6h0M1613.6 221.4h0M1615 220.2h0M1616.4 219h0M1617.8 217.8h0M1619.2 216.6h0M1620.6 215.4h0M1622 214.2h0M1623.4 213.1h0M1624.8 211.9h0M1626.2 210.7h0M1627.6 209.5h0M1629 208.4h0M1630.4 207.2h0M1631.8 206h0M1633.2 204.9h0M1634.6 203.7h0M1636 202.5h0M1637.5 201.4h0M1638.9 200.2h0M1640.3 199h0M1641.7 197.7h0M1643.1 196.3h0M1644.5 195h0M1645.9 194h0M1647.3 193.4h0M1648.7 194.8h0M1650.1 194.3h0M1651.5 193.4h0M1652.9 192.1h0M1654.3 190.6h0M1655.7 189.2h0M1657.1 187.8h0M1658.5 186.3h0M1659.9 184.9h0M1661.4 183.4h0M1662.8 182h0M1664.2 180.6h0M1665.6 179.3h0M1667 178.1h0M1668.4 177.1h0M1669.8 176h0M1671.2 175h0M1672.6 174h0M1674 172.9h0M1675.4 171.9h0M1676.8 170.9h0M1678.2 169.8h0M1679.6 168.8h0M1681 167.7h0M1682.4 166.7h0M1683.8 165.7h0M1685.3 164.6h0M1686.7 163.6h0M1688.1 162.6h0M1689.5 161.7h0M1690.9 160.9h0M1692.3 160.1h0M1693.7 159.4h0M1695.1 158.7h0M1696.5 157.9h0M1697.9 157.2h0M1699.3 156.5h0M1700.7 155.7h0M1702.1 155.2h0M1703.5 154.9h0M1704.9 154.9h0M1706.3 155h0M1707.7 155.1h0" stroke="#000" stroke-width="5.8" stroke-linecap="round" fill="none"/>
<path d="M1454.7 114.2V295.4H1735.9M1448.4 278.6H1454.7M1448.4 196.4H1454.7M1448.4 114.2H1454.7M1454.7 295.4v5.3M1464.1 295.4v2.6M1473.4 295.4v2.6M1482.8 295.4v2.6M1492.2 295.4v2.6M1501.6 295.4v2.6M1510.9 295.4v2.6M1520.3 295.4v2.6M1529.7 295.4v2.6M1539 295.4v2.6M1548.4 295.4v5.5M1557.8 295.4v2.6M1567.2 295.4v2.6M1576.5 295.4v2.6M1585.9 295.4v2.6M1595.3 295.4v2.6M1604.7 295.4v2.6M1614 295.4v2.6M1623.4 295.4v2.6M1632.8 295.4v2.6M1642.1 295.4v5.5M1651.5 295.4v2.6M1660.9 295.4v2.6M1670.3 295.4v2.6M1679.6 295.4v2.6M1689 295.4v2.6M1698.4 295.4v2.6M1707.7 295.4v2.6M1717.1 295.4v2.6M1726.5 295.4v2.6M1735.9 295.4v5.5" stroke="#000" stroke-width="2" fill="none" stroke-linecap="square"/>
<text x="1444.6" y="283.6" font-size="14.5" font-weight="bold" text-anchor="end" fill="#000">1</text>
<text x="1444.6" y="201.4" font-size="14.5" font-weight="bold" text-anchor="end" fill="#000">2</text>
<text x="1444.6" y="119.2" font-size="14.5" font-weight="bold" text-anchor="end" fill="#000">3</text>
<text x="1454.1" y="317.4" font-size="14.5" font-weight="bold" text-anchor="middle" fill="#000">0</text>
<text x="1547.8" y="317.4" font-size="14.5" font-weight="bold" text-anchor="middle" fill="#000">200</text>
<text x="1641.5" y="317.4" font-size="14.5" font-weight="bold" text-anchor="middle" fill="#000">400</text>
<text x="1735.3" y="317.4" font-size="14.5" font-weight="bold" text-anchor="middle" fill="#000">600</text>
<text x="1595.7" y="339.2" font-size="15.3" font-weight="bold" text-anchor="middle" fill="#000">Time (seconds)</text>
<text transform="translate(1425.6 204) rotate(-90)" font-size="15" font-weight="bold" text-anchor="middle" fill="#000">MFI Fold Change</text>
<text x="1547.5" y="81.3" font-size="22" font-weight="bold">CD41<tspan font-size="15" dy="5" dx="0.5">recipient</tspan></text>
<path d="M1542 361.8H1562.3" stroke="#444" stroke-width="1.1"/>
<circle cx="1552.2" cy="361.8" r="3.2" fill="#000"/>
<text x="1572.8" y="367" font-size="15.9" font-weight="normal" text-anchor="start" fill="#000">WB</text>
<path d="M1542 382H1562.3" stroke="#a6a6a6" stroke-width="1.1"/>
<circle cx="1552.2" cy="382" r="3.2" fill="#a6a6a6"/>
<text x="1572.8" y="387.2" font-size="15.9" font-weight="normal" text-anchor="start" fill="#000">DC</text>
<path d="M1542 402.6H1562.3" stroke="#8b0a0a" stroke-width="1.1"/>
<circle cx="1552.2" cy="402.6" r="3.2" fill="#8b0a0a"/>
<text x="1572.8" y="407.8" font-size="15.9" font-weight="normal" text-anchor="start" fill="#000">DC + RT (D2)</text>
<text x="20.6" y="456.7" font-size="46.5" font-weight="bold" text-anchor="start" fill="#000">E</text>
<rect x="128.2" y="549" width="49" height="177.2" fill="#000"/>
<rect x="202.9" y="603.2" width="45.8" height="123" fill="#d4d4d4" stroke="#000" stroke-width="3.2"/>
<rect x="275.5" y="656.3" width="45.8" height="69.9" fill="#8b0000" stroke="#000" stroke-width="3.2"/>
<path d="M103.9 494.2V726.2M94.7 726.2H347.9M94.7 680.1H103.9M94.7 633.9H103.9M94.7 587.8H103.9M94.7 541.6H103.9M94.7 495.5H103.9M152.8 726.2v9.2M225.8 726.2v9.2M298.4 726.2v9.2" stroke="#000" stroke-width="2.5" fill="none"/>
<text x="92.2" y="732.1" font-size="17.2" font-weight="bold" text-anchor="end" fill="#000">0</text>
<text x="92.2" y="686" font-size="17.2" font-weight="bold" text-anchor="end" fill="#000">20</text>
<text x="92.2" y="639.8" font-size="17.2" font-weight="bold" text-anchor="end" fill="#000">40</text>
<text x="92.2" y="593.7" font-size="17.2" font-weight="bold" text-anchor="end" fill="#000">60</text>
<text x="92.2" y="547.5" font-size="17.2" font-weight="bold" text-anchor="end" fill="#000">80</text>
<text x="92.2" y="501.4" font-size="17.2" font-weight="bold" text-anchor="end" fill="#000">100</text>
<text transform="translate(41.7 606) rotate(-90)" font-size="16" font-weight="bold" text-anchor="middle" fill="#000">Occurance (%)</text>
<text x="229.9" y="466.4" font-size="22.2" font-weight="bold" text-anchor="middle" fill="#000">Thrombus Formation</text>
<text transform="translate(157.8 750.8) rotate(-45)" font-size="17.7" font-weight="bold" text-anchor="end" fill="#000">WB</text>
<text transform="translate(230.8 750.8) rotate(-45)" font-size="17.7" font-weight="bold" text-anchor="end" fill="#000">TP</text>
<text transform="translate(303.4 750.8) rotate(-45)" font-size="17.7" font-weight="bold" text-anchor="end" fill="#000">TP + RT (D2-7)</text>
<text x="394.4" y="456.7" font-size="46.5" font-weight="bold" text-anchor="start" fill="#000">F</text>
<path d="M477.7 706.6V707.5M479.3 706.3V707.4M480.8 706V707.3M482.4 705.6V707.1M483.9 705.3V707M485.5 704.9V706.9M487.1 704.6V706.8M488.6 704.3V706.7M490.2 703.9V706.6M491.8 703.6V706.5M493.3 703.2V706.3M494.9 702.9V706.2M496.5 702.6V706.1M498 702.2V706M499.6 701.9V705.9M501.2 701.5V705.8M502.7 701.2V705.7M504.3 700.8V705.5M505.8 700.5V705.4M507.4 700.2V705.3M509 699.8V705.2M510.5 699.5V705.1M512.1 699.1V705M513.7 698.8V704.9M515.2 698.5V704.8M516.8 698.1V704.6M518.4 697.8V704.5M519.9 697.4V704.4M521.5 697.1V704.3M523.1 696.8V704.2M524.6 696.4V704.1M526.2 696.1V704.1M527.8 695.8V704M529.3 695.4V704M530.9 695.1V703.9M532.4 694.8V703.9M534 694.5V703.8M535.6 694.1V703.8M537.1 693.8V703.8M538.7 693.5V703.7M540.3 693.1V703.7M541.8 692.8V703.6M543.4 692.5V703.6M545 692.2V703.5M546.5 691.8V703.5M548.1 691.5V703.5M549.7 691.2V703.4M551.2 690.9V703.4M552.8 690.5V703.3M554.3 690.2V703.3M555.9 689.9V703.2M557.5 689.5V703.2M559 689.2V703.2M560.6 688.9V703.1M562.2 688.6V703.1M563.7 688.2V703M565.3 687.9V703M566.9 687.6V702.9M568.4 687.3V702.9M570 686.9V702.9M571.6 686.6V702.8M573.1 686.3V702.8M574.7 686V702.7M576.2 685.7V702.6M577.8 685.4V702.5M579.4 685.1V702.4M580.9 684.9V702.3M582.5 684.7V702.2M584.1 684.4V702M585.6 684.2V701.9M587.2 683.9V701.8M588.8 683.7V701.7M590.3 683.4V701.5M591.9 683.2V701.4M593.5 683V701.3M595 682.7V701.2M596.6 682.5V701M598.2 682.2V700.9M599.7 682V700.8M601.3 681.8V700.6M602.8 681.5V700.5M604.4 681.3V700.4M606 681V700.3M607.5 680.8V700.1M609.1 680.5V700M610.7 680.3V699.9M612.2 680.1V699.7M613.8 679.8V699.6M615.4 679.6V699.5M616.9 679.3V699.4M618.5 679.1V699.2M620.1 678.9V699.1M621.6 678.6V699M623.2 678.4V698.8M624.7 678.1V698.7M626.3 677.9V698.6M627.9 677.7V698.5M629.4 677.4V698.3M631 677.2V698.2M632.6 677V698M634.1 676.7V697.9M635.7 676.5V697.8M637.3 676.3V697.6M638.8 676.1V697.5M640.4 675.9V697.3M642 675.6V697.2M643.5 675.4V697.1M645.1 675.2V696.9M646.7 675V696.8M648.2 674.7V696.6M649.8 674.5V696.5M651.3 674.3V696.3M652.9 674.1V696.2M654.5 673.9V696.1M656 673.6V695.9M657.6 673.4V695.8M659.2 673.2V695.6M660.7 673V695.5M662.3 672.7V695.4M663.9 672.5V695.2M665.4 672.3V695.1M667 672.1V694.9M668.6 671.8V694.8M670.1 671.6V694.6M671.7 671.4V694.5M673.2 671.2V694.4M674.8 671V694.2M676.4 670.7V694.1M677.9 670.5V693.9M679.5 670.3V693.8M681.1 670.2V693.8M682.6 670V693.7M684.2 669.9V693.7M685.8 669.9V693.7M687.3 669.8V693.7M688.9 669.7V693.7M690.5 669.6V693.7M692 669.5V693.7M693.6 669.4V693.7M695.2 669.4V693.7M696.7 669.3V693.7M698.3 669.2V693.7M699.8 669.1V693.7M701.4 669.1V693.7" stroke="#d8d8d8" stroke-width="0.8" fill="none"/>
<path d="M475.4 706.6h4.6M475.4 707.5h4.6M477 706.3h4.6M477 707.4h4.6M478.5 706h4.6M478.5 707.3h4.6M480.1 705.6h4.6M480.1 707.1h4.6M481.6 705.3h4.6M481.6 707h4.6M483.2 704.9h4.6M483.2 706.9h4.6M484.8 704.6h4.6M484.8 706.8h4.6M486.3 704.3h4.6M486.3 706.7h4.6M487.9 703.9h4.6M487.9 706.6h4.6M489.5 703.6h4.6M489.5 706.5h4.6M491 703.2h4.6M491 706.3h4.6M492.6 702.9h4.6M492.6 706.2h4.6M494.2 702.6h4.6M494.2 706.1h4.6M495.7 702.2h4.6M495.7 706h4.6M497.3 701.9h4.6M497.3 705.9h4.6M498.9 701.5h4.6M498.9 705.8h4.6M500.4 701.2h4.6M500.4 705.7h4.6M502 700.8h4.6M502 705.5h4.6M503.5 700.5h4.6M503.5 705.4h4.6M505.1 700.2h4.6M505.1 705.3h4.6M506.7 699.8h4.6M506.7 705.2h4.6M508.2 699.5h4.6M508.2 705.1h4.6M509.8 699.1h4.6M509.8 705h4.6M511.4 698.8h4.6M511.4 704.9h4.6M512.9 698.5h4.6M512.9 704.8h4.6M514.5 698.1h4.6M514.5 704.6h4.6M516.1 697.8h4.6M516.1 704.5h4.6M517.6 697.4h4.6M517.6 704.4h4.6M519.2 697.1h4.6M519.2 704.3h4.6M520.8 696.8h4.6M520.8 704.2h4.6M522.3 696.4h4.6M522.3 704.1h4.6M523.9 696.1h4.6M523.9 704.1h4.6M525.5 695.8h4.6M525.5 704h4.6M527 695.4h4.6M527 704h4.6M528.6 695.1h4.6M528.6 703.9h4.6M530.1 694.8h4.6M530.1 703.9h4.6M531.7 694.5h4.6M531.7 703.8h4.6M533.3 694.1h4.6M533.3 703.8h4.6M534.8 693.8h4.6M534.8 703.8h4.6M536.4 693.5h4.6M536.4 703.7h4.6M538 693.1h4.6M538 703.7h4.6M539.5 692.8h4.6M539.5 703.6h4.6M541.1 692.5h4.6M541.1 703.6h4.6M542.7 692.2h4.6M542.7 703.5h4.6M544.2 691.8h4.6M544.2 703.5h4.6M545.8 691.5h4.6M545.8 703.5h4.6M547.4 691.2h4.6M547.4 703.4h4.6M548.9 690.9h4.6M548.9 703.4h4.6M550.5 690.5h4.6M550.5 703.3h4.6M552 690.2h4.6M552 703.3h4.6M553.6 689.9h4.6M553.6 703.2h4.6M555.2 689.5h4.6M555.2 703.2h4.6M556.7 689.2h4.6M556.7 703.2h4.6M558.3 688.9h4.6M558.3 703.1h4.6M559.9 688.6h4.6M559.9 703.1h4.6M561.4 688.2h4.6M561.4 703h4.6M563 687.9h4.6M563 703h4.6M564.6 687.6h4.6M564.6 702.9h4.6M566.1 687.3h4.6M566.1 702.9h4.6M567.7 686.9h4.6M567.7 702.9h4.6M569.3 686.6h4.6M569.3 702.8h4.6M570.8 686.3h4.6M570.8 702.8h4.6M572.4 686h4.6M572.4 702.7h4.6M574 685.7h4.6M574 702.6h4.6M575.5 685.4h4.6M575.5 702.5h4.6M577.1 685.1h4.6M577.1 702.4h4.6M578.6 684.9h4.6M578.6 702.3h4.6M580.2 684.7h4.6M580.2 702.2h4.6M581.8 684.4h4.6M581.8 702h4.6M583.3 684.2h4.6M583.3 701.9h4.6M584.9 683.9h4.6M584.9 701.8h4.6M586.5 683.7h4.6M586.5 701.7h4.6M588 683.4h4.6M588 701.5h4.6M589.6 683.2h4.6M589.6 701.4h4.6M591.2 683h4.6M591.2 701.3h4.6M592.7 682.7h4.6M592.7 701.2h4.6M594.3 682.5h4.6M594.3 701h4.6M595.9 682.2h4.6M595.9 700.9h4.6M597.4 682h4.6M597.4 700.8h4.6M599 681.8h4.6M599 700.6h4.6M600.5 681.5h4.6M600.5 700.5h4.6M602.1 681.3h4.6M602.1 700.4h4.6M603.7 681h4.6M603.7 700.3h4.6M605.2 680.8h4.6M605.2 700.1h4.6M606.8 680.5h4.6M606.8 700h4.6M608.4 680.3h4.6M608.4 699.9h4.6M609.9 680.1h4.6M609.9 699.7h4.6M611.5 679.8h4.6M611.5 699.6h4.6M613.1 679.6h4.6M613.1 699.5h4.6M614.6 679.3h4.6M614.6 699.4h4.6M616.2 679.1h4.6M616.2 699.2h4.6M617.8 678.9h4.6M617.8 699.1h4.6M619.3 678.6h4.6M619.3 699h4.6M620.9 678.4h4.6M620.9 698.8h4.6M622.4 678.1h4.6M622.4 698.7h4.6M624 677.9h4.6M624 698.6h4.6M625.6 677.7h4.6M625.6 698.5h4.6M627.1 677.4h4.6M627.1 698.3h4.6M628.7 677.2h4.6M628.7 698.2h4.6M630.3 677h4.6M630.3 698h4.6M631.8 676.7h4.6M631.8 697.9h4.6M633.4 676.5h4.6M633.4 697.8h4.6M635 676.3h4.6M635 697.6h4.6M636.5 676.1h4.6M636.5 697.5h4.6M638.1 675.9h4.6M638.1 697.3h4.6M639.7 675.6h4.6M639.7 697.2h4.6M641.2 675.4h4.6M641.2 697.1h4.6M642.8 675.2h4.6M642.8 696.9h4.6M644.4 675h4.6M644.4 696.8h4.6M645.9 674.7h4.6M645.9 696.6h4.6M647.5 674.5h4.6M647.5 696.5h4.6M649 674.3h4.6M649 696.3h4.6M650.6 674.1h4.6M650.6 696.2h4.6M652.2 673.9h4.6M652.2 696.1h4.6M653.7 673.6h4.6M653.7 695.9h4.6M655.3 673.4h4.6M655.3 695.8h4.6M656.9 673.2h4.6M656.9 695.6h4.6M658.4 673h4.6M658.4 695.5h4.6M660 672.7h4.6M660 695.4h4.6M661.6 672.5h4.6M661.6 695.2h4.6M663.1 672.3h4.6M663.1 695.1h4.6M664.7 672.1h4.6M664.7 694.9h4.6M666.3 671.8h4.6M666.3 694.8h4.6M667.8 671.6h4.6M667.8 694.6h4.6M669.4 671.4h4.6M669.4 694.5h4.6M670.9 671.2h4.6M670.9 694.4h4.6M672.5 671h4.6M672.5 694.2h4.6M674.1 670.7h4.6M674.1 694.1h4.6M675.6 670.5h4.6M675.6 693.9h4.6M677.2 670.3h4.6M677.2 693.8h4.6M678.8 670.2h4.6M678.8 693.8h4.6M680.3 670h4.6M680.3 693.7h4.6M681.9 669.9h4.6M681.9 693.7h4.6M683.5 669.9h4.6M683.5 693.7h4.6M685 669.8h4.6M685 693.7h4.6M686.6 669.7h4.6M686.6 693.7h4.6M688.2 669.6h4.6M688.2 693.7h4.6M689.7 669.5h4.6M689.7 693.7h4.6M691.3 669.4h4.6M691.3 693.7h4.6M692.9 669.4h4.6M692.9 693.7h4.6M694.4 669.3h4.6M694.4 693.7h4.6M696 669.2h4.6M696 693.7h4.6M697.5 669.1h4.6M697.5 693.7h4.6M699.1 669.1h4.6M699.1 693.7h4.6" stroke="#d8d8d8" stroke-width="0.9" fill="none"/>
<path d="M419.8 707.9h0M421.4 707.9h0M422.9 707.9h0M424.5 707.9h0M426.1 707.9h0M427.6 707.9h0M429.2 707.9h0M430.8 707.9h0M432.3 707.9h0M433.9 707.9h0M435.4 707.9h0M437 707.9h0M438.6 707.9h0M440.1 707.9h0M441.7 707.9h0M443.3 707.9h0M444.8 707.9h0M446.4 707.9h0M448 707.9h0M449.5 707.9h0M451.1 707.9h0M452.7 707.9h0M454.2 707.9h0M455.8 707.9h0M457.3 707.9h0M458.9 707.9h0M460.5 707.9h0M462 707.9h0M463.6 707.9h0M465.2 707.9h0M466.7 707.9h0M468.3 707.9h0M469.9 707.9h0M471.4 707.8h0M473 707.7h0M474.6 707.5h0M476.1 707.3h0M477.7 707.1h0M479.3 706.8h0M480.8 706.6h0M482.4 706.4h0M483.9 706.2h0M485.5 705.9h0M487.1 705.7h0M488.6 705.5h0M490.2 705.2h0M491.8 705h0M493.3 704.8h0M494.9 704.6h0M496.5 704.3h0M498 704.1h0M499.6 703.9h0M501.2 703.7h0M502.7 703.4h0M504.3 703.2h0M505.8 703h0M507.4 702.7h0M509 702.5h0M510.5 702.3h0M512.1 702.1h0M513.7 701.8h0M515.2 701.6h0M516.8 701.4h0M518.4 701.2h0M519.9 700.9h0M521.5 700.7h0M523.1 700.5h0M524.6 700.3h0M526.2 700.1h0M527.8 699.9h0M529.3 699.7h0M530.9 699.5h0M532.4 699.3h0M534 699.1h0M535.6 699h0M537.1 698.8h0M538.7 698.6h0M540.3 698.4h0M541.8 698.2h0M543.4 698h0M545 697.9h0M546.5 697.7h0M548.1 697.5h0M549.7 697.3h0M551.2 697.1h0M552.8 696.9h0M554.3 696.7h0M555.9 696.6h0M557.5 696.4h0M559 696.2h0M560.6 696h0M562.2 695.8h0M563.7 695.6h0M565.3 695.4h0M566.9 695.3h0M568.4 695.1h0M570 694.9h0M571.6 694.7h0M573.1 694.5h0M574.7 694.3h0M576.2 694.2h0M577.8 694h0M579.4 693.8h0M580.9 693.6h0M582.5 693.4h0M584.1 693.2h0M585.6 693h0M587.2 692.9h0M588.8 692.7h0M590.3 692.5h0M591.9 692.3h0M593.5 692.1h0M595 691.9h0M596.6 691.8h0M598.2 691.6h0M599.7 691.4h0M601.3 691.2h0M602.8 691h0M604.4 690.8h0M606 690.6h0M607.5 690.5h0M609.1 690.3h0M610.7 690.1h0M612.2 689.9h0M613.8 689.7h0M615.4 689.5h0M616.9 689.3h0M618.5 689.2h0M620.1 689h0M621.6 688.8h0M623.2 688.6h0M624.7 688.4h0M626.3 688.2h0M627.9 688.1h0M629.4 687.9h0M631 687.7h0M632.6 687.5h0M634.1 687.3h0M635.7 687.1h0M637.3 687h0M638.8 686.8h0M640.4 686.6h0M642 686.4h0M643.5 686.2h0M645.1 686.1h0M646.7 685.9h0M648.2 685.7h0M649.8 685.5h0M651.3 685.3h0M652.9 685.1h0M654.5 685h0M656 684.8h0M657.6 684.6h0M659.2 684.4h0M660.7 684.2h0M662.3 684h0M663.9 683.9h0M665.4 683.7h0M667 683.5h0M668.6 683.3h0M670.1 683.1h0M671.7 683h0M673.2 682.8h0M674.8 682.6h0M676.4 682.4h0M677.9 682.2h0M679.5 682.1h0M681.1 682h0M682.6 681.9h0M684.2 681.8h0M685.8 681.8h0M687.3 681.7h0M688.9 681.7h0M690.5 681.7h0M692 681.6h0M693.6 681.6h0M695.2 681.5h0M696.7 681.5h0M698.3 681.4h0M699.8 681.4h0M701.4 681.4h0" stroke="#d8d8d8" stroke-width="6.5" stroke-linecap="round" fill="none"/>
<path d="M582.5 707.1V708M584.1 706.9V708.1M585.6 706.7V708.1M587.2 706.5V708.1M588.8 706.4V708.2M590.3 706.2V708.2M591.9 706V708.2M593.5 705.8V708.3M595 705.6V708.3M596.6 705.4V708.3M598.2 705.2V708.4M599.7 705V708.4M601.3 704.8V708.4M602.8 704.6V708.5M604.4 704.4V708.5M606 704.2V708.5M607.5 704V708.6M609.1 703.8V708.6M610.7 703.6V708.7M612.2 703.5V708.7M613.8 703.3V708.7M615.4 703.1V708.8M616.9 702.9V708.8M618.5 702.7V708.8M620.1 702.5V708.9M621.6 702.3V708.9M623.2 702.1V708.9M624.7 701.9V709M626.3 701.7V709M627.9 701.5V709M629.4 701.4V709M631 701.3V709.1M632.6 701.2V709.1M634.1 701.1V709.1M635.7 700.9V709.1M637.3 700.8V709.2M638.8 700.7V709.2M640.4 700.6V709.2M642 700.5V709.2M643.5 700.4V709.2M645.1 700.3V709.3M646.7 700.2V709.3M648.2 700.1V709.3M649.8 700V709.3M651.3 699.8V709.3M652.9 699.7V709.4M654.5 699.6V709.4M656 699.5V709.4M657.6 699.4V709.4M659.2 699.3V709.4M660.7 699.2V709.5M662.3 699.1V709.5M663.9 699V709.5M665.4 698.9V709.5M667 698.7V709.5M668.6 698.6V709.6M670.1 698.5V709.6M671.7 698.4V709.6M673.2 698.3V709.6M674.8 698.2V709.6M676.4 698.1V709.7M677.9 698V709.7M679.5 697.9V709.7M681.1 697.8V709.7M682.6 697.7V709.7M684.2 697.5V709.8M685.8 697.4V709.8M687.3 697.3V709.8M688.9 697.2V709.8M690.5 697.1V709.8M692 697V709.9M693.6 696.9V709.9M695.2 696.8V709.9M696.7 696.7V709.9M698.3 696.6V709.9M699.8 696.5V710M701.4 696.4V710" stroke="#8b0a0a" stroke-width="0.8" fill="none"/>
<path d="M580.2 707.1h4.6M580.2 708h4.6M581.8 706.9h4.6M581.8 708.1h4.6M583.3 706.7h4.6M583.3 708.1h4.6M584.9 706.5h4.6M584.9 708.1h4.6M586.5 706.4h4.6M586.5 708.2h4.6M588 706.2h4.6M588 708.2h4.6M589.6 706h4.6M589.6 708.2h4.6M591.2 705.8h4.6M591.2 708.3h4.6M592.7 705.6h4.6M592.7 708.3h4.6M594.3 705.4h4.6M594.3 708.3h4.6M595.9 705.2h4.6M595.9 708.4h4.6M597.4 705h4.6M597.4 708.4h4.6M599 704.8h4.6M599 708.4h4.6M600.5 704.6h4.6M600.5 708.5h4.6M602.1 704.4h4.6M602.1 708.5h4.6M603.7 704.2h4.6M603.7 708.5h4.6M605.2 704h4.6M605.2 708.6h4.6M606.8 703.8h4.6M606.8 708.6h4.6M608.4 703.6h4.6M608.4 708.7h4.6M609.9 703.5h4.6M609.9 708.7h4.6M611.5 703.3h4.6M611.5 708.7h4.6M613.1 703.1h4.6M613.1 708.8h4.6M614.6 702.9h4.6M614.6 708.8h4.6M616.2 702.7h4.6M616.2 708.8h4.6M617.8 702.5h4.6M617.8 708.9h4.6M619.3 702.3h4.6M619.3 708.9h4.6M620.9 702.1h4.6M620.9 708.9h4.6M622.4 701.9h4.6M622.4 709h4.6M624 701.7h4.6M624 709h4.6M625.6 701.5h4.6M625.6 709h4.6M627.1 701.4h4.6M627.1 709h4.6M628.7 701.3h4.6M628.7 709.1h4.6M630.3 701.2h4.6M630.3 709.1h4.6M631.8 701.1h4.6M631.8 709.1h4.6M633.4 700.9h4.6M633.4 709.1h4.6M635 700.8h4.6M635 709.2h4.6M636.5 700.7h4.6M636.5 709.2h4.6M638.1 700.6h4.6M638.1 709.2h4.6M639.7 700.5h4.6M639.7 709.2h4.6M641.2 700.4h4.6M641.2 709.2h4.6M642.8 700.3h4.6M642.8 709.3h4.6M644.4 700.2h4.6M644.4 709.3h4.6M645.9 700.1h4.6M645.9 709.3h4.6M647.5 700h4.6M647.5 709.3h4.6M649 699.8h4.6M649 709.3h4.6M650.6 699.7h4.6M650.6 709.4h4.6M652.2 699.6h4.6M652.2 709.4h4.6M653.7 699.5h4.6M653.7 709.4h4.6M655.3 699.4h4.6M655.3 709.4h4.6M656.9 699.3h4.6M656.9 709.4h4.6M658.4 699.2h4.6M658.4 709.5h4.6M660 699.1h4.6M660 709.5h4.6M661.6 699h4.6M661.6 709.5h4.6M663.1 698.9h4.6M663.1 709.5h4.6M664.7 698.7h4.6M664.7 709.5h4.6M666.3 698.6h4.6M666.3 709.6h4.6M667.8 698.5h4.6M667.8 709.6h4.6M669.4 698.4h4.6M669.4 709.6h4.6M670.9 698.3h4.6M670.9 709.6h4.6M672.5 698.2h4.6M672.5 709.6h4.6M674.1 698.1h4.6M674.1 709.7h4.6M675.6 698h4.6M675.6 709.7h4.6M677.2 697.9h4.6M677.2 709.7h4.6M678.8 697.8h4.6M678.8 709.7h4.6M680.3 697.7h4.6M680.3 709.7h4.6M681.9 697.5h4.6M681.9 709.8h4.6M683.5 697.4h4.6M683.5 709.8h4.6M685 697.3h4.6M685 709.8h4.6M686.6 697.2h4.6M686.6 709.8h4.6M688.2 697.1h4.6M688.2 709.8h4.6M689.7 697h4.6M689.7 709.9h4.6M691.3 696.9h4.6M691.3 709.9h4.6M692.9 696.8h4.6M692.9 709.9h4.6M694.4 696.7h4.6M694.4 709.9h4.6M696 696.6h4.6M696 709.9h4.6M697.5 696.5h4.6M697.5 710h4.6M699.1 696.4h4.6M699.1 710h4.6" stroke="#8b0a0a" stroke-width="0.9" fill="none"/>
<path d="M419.8 707.9h0M421.4 708h0M422.9 708h0M424.5 708.1h0M426.1 708.2h0M427.6 708.3h0M429.2 708.3h0M430.8 708.4h0M432.3 708.5h0M433.9 708.5h0M435.4 708.6h0M437 708.7h0M438.6 708.8h0M440.1 708.8h0M441.7 708.9h0M443.3 709h0M444.8 709h0M446.4 709.1h0M448 709.2h0M449.5 709.2h0M451.1 709.3h0M452.7 709.3h0M454.2 709.3h0M455.8 709.3h0M457.3 709.3h0M458.9 709.4h0M460.5 709.4h0M462 709.4h0M463.6 709.4h0M465.2 709.4h0M466.7 709.4h0M468.3 709.4h0M469.9 709.4h0M471.4 709.4h0M473 709.4h0M474.6 709.4h0M476.1 709.4h0M477.7 709.4h0M479.3 709.4h0M480.8 709.4h0M482.4 709.4h0M483.9 709.4h0M485.5 709.5h0M487.1 709.5h0M488.6 709.5h0M490.2 709.5h0M491.8 709.5h0M493.3 709.5h0M494.9 709.5h0M496.5 709.5h0M498 709.5h0M499.6 709.5h0M501.2 709.5h0M502.7 709.5h0M504.3 709.5h0M505.8 709.5h0M507.4 709.5h0M509 709.5h0M510.5 709.6h0M512.1 709.6h0M513.7 709.6h0M515.2 709.6h0M516.8 709.6h0M518.4 709.6h0M519.9 709.6h0M521.5 709.6h0M523.1 709.6h0M524.6 709.6h0M526.2 709.5h0M527.8 709.5h0M529.3 709.4h0M530.9 709.4h0M532.4 709.3h0M534 709.3h0M535.6 709.2h0M537.1 709.2h0M538.7 709.1h0M540.3 709.1h0M541.8 709h0M543.4 709h0M545 708.9h0M546.5 708.9h0M548.1 708.8h0M549.7 708.8h0M551.2 708.7h0M552.8 708.7h0M554.3 708.6h0M555.9 708.6h0M557.5 708.5h0M559 708.5h0M560.6 708.4h0M562.2 708.4h0M563.7 708.3h0M565.3 708.3h0M566.9 708.2h0M568.4 708.2h0M570 708.1h0M571.6 708.1h0M573.1 708h0M574.7 707.9h0M576.2 707.9h0M577.8 707.8h0M579.4 707.7h0M580.9 707.7h0M582.5 707.6h0M584.1 707.5h0M585.6 707.4h0M587.2 707.3h0M588.8 707.3h0M590.3 707.2h0M591.9 707.1h0M593.5 707h0M595 706.9h0M596.6 706.9h0M598.2 706.8h0M599.7 706.7h0M601.3 706.6h0M602.8 706.5h0M604.4 706.5h0M606 706.4h0M607.5 706.3h0M609.1 706.2h0M610.7 706.1h0M612.2 706.1h0M613.8 706h0M615.4 705.9h0M616.9 705.8h0M618.5 705.7h0M620.1 705.7h0M621.6 705.6h0M623.2 705.5h0M624.7 705.4h0M626.3 705.4h0M627.9 705.3h0M629.4 705.2h0M631 705.2h0M632.6 705.1h0M634.1 705.1h0M635.7 705h0M637.3 705h0M638.8 704.9h0M640.4 704.9h0M642 704.9h0M643.5 704.8h0M645.1 704.8h0M646.7 704.7h0M648.2 704.7h0M649.8 704.6h0M651.3 704.6h0M652.9 704.5h0M654.5 704.5h0M656 704.5h0M657.6 704.4h0M659.2 704.4h0M660.7 704.3h0M662.3 704.3h0M663.9 704.2h0M665.4 704.2h0M667 704.1h0M668.6 704.1h0M670.1 704.1h0M671.7 704h0M673.2 704h0M674.8 703.9h0M676.4 703.9h0M677.9 703.8h0M679.5 703.8h0M681.1 703.7h0M682.6 703.7h0M684.2 703.7h0M685.8 703.6h0M687.3 703.6h0M688.9 703.5h0M690.5 703.5h0M692 703.4h0M693.6 703.4h0M695.2 703.3h0M696.7 703.3h0M698.3 703.2h0M699.8 703.2h0M701.4 703.2h0" stroke="#8b0a0a" stroke-width="6.5" stroke-linecap="round" fill="none"/>
<path d="M443.3 708.7V709.5M444.8 708.6V709.5M446.4 708.5V709.5M448 708.4V709.5M449.5 708.3V709.4M451.1 708.2V709.3M452.7 708V709.2M454.2 707.7V708.9M455.8 707.4V708.7M457.3 707.1V708.4M458.9 706.8V708.2M460.5 706.5V708M462 706.2V707.7M463.6 705.9V707.5M465.2 705.6V707.2M466.7 705.3V707M468.3 705V706.8M469.9 704.7V706.5M471.4 704.3V706.3M473 703.8V706.1M474.6 703.2V705.9M476.1 702.6V705.7M477.7 702V705.5M479.3 701.3V705.3M480.8 700.7V705.2M482.4 700.1V705M483.9 699.4V704.8M485.5 698.8V704.6M487.1 698.1V704.4M488.6 697.5V704.3M490.2 696.9V704.1M491.8 696.2V703.9M493.3 695.6V703.7M494.9 695V703.5M496.5 694.3V703.3M498 693.6V703M499.6 692.7V702.7M501.2 691.9V702.2M502.7 690.9V701.8M504.3 690V701.3M505.8 689.1V700.9M507.4 688.2V700.4M509 687.3V700M510.5 686.4V699.5M512.1 685.5V699.1M513.7 684.6V698.6M515.2 683.7V698.2M516.8 682.8V697.7M518.4 681.8V697.2M519.9 680.9V696.8M521.5 680V696.3M523.1 679.1V695.9M524.6 678.1V695.4M526.2 677V694.8M527.8 675.9V694.3M529.3 674.8V693.8M530.9 673.7V693.2M532.4 672.6V692.7M534 671.5V692.1M535.6 670.4V691.6M537.1 669.2V691.1M538.7 668.1V690.5M540.3 667V690M541.8 665.9V689.4M543.4 664.8V688.9M545 663.7V688.3M546.5 662.6V687.8M548.1 661.5V687.3M549.7 660.4V686.7M551.2 659.4V686.4M552.8 658.9V686.4M554.3 658.7V686.6M555.9 659.8V690.3M557.5 659.7V690.7M559 659.2V690.9M560.6 658.3V690.8M562.2 657.1V690.3M563.7 655.8V689.7M565.3 654.5V689.2M566.9 653.4V688.8M568.4 652.6V688.7M570 652.2V689.1M571.6 651.9V689.5M573.1 651.3V689.6M574.7 650.3V689.4M576.2 649V688.9M577.8 647.7V688.4M579.4 646.4V688M580.9 645V687.5M582.5 643.6V687.1M584.1 642.3V686.6M585.6 640.9V686.2M587.2 639.5V685.7M588.8 638.2V685.3M590.3 636.8V684.8M591.9 635.5V684.4M593.5 634.1V683.9M595 632.7V683.5M596.6 631.4V683M598.2 630V682.6M599.7 628.7V682.1M601.3 627.4V681.7M602.8 626.3V681.2M604.4 625.4V680.7M606 624.5V680.3M607.5 623.7V679.8M609.1 622.9V679.4M610.7 622.1V678.9M612.2 621.3V678.5M613.8 620.5V678M615.4 619.7V677.6M616.9 618.9V677.1M618.5 618.1V676.7M620.1 617.3V676.2M621.6 616.6V675.7M623.2 615.8V675.3M624.7 615V674.8M626.3 614.2V674.4M627.9 613.4V673.8M629.4 612.7V673.3M631 611.9V672.6M632.6 611.4V672.1M634.1 611V671.7M635.7 654.2V682.5M637.3 653.8V682.4M638.8 653.2V682.2M640.4 652.6V682M642 651.9V681.8M643.5 651.2V681.5M645.1 650.5V681.3M646.7 649.8V681.1M648.2 649.2V680.9M649.8 648.6V680.8M651.3 648.2V680.8M652.9 647.8V680.8M654.5 647.4V680.9M656 647.1V680.9M657.6 646.7V680.8M659.2 646.2V680.6M660.7 645.5V680.1M662.3 644.5V679.4M663.9 643.4V678.6M665.4 642.3V677.7M667 641.2V676.8M668.6 640.1V676M670.1 639V675.1M671.7 637.8V674.3M673.2 636.7V673.4M674.8 635.6V672.6M676.4 634.5V671.7M677.9 633.4V670.8M679.5 632.3V670M681.1 631.3V669.2M682.6 630.4V668.3M684.2 629.6V667.5M685.8 628.8V666.7M687.3 628V665.9M688.9 627.2V665.1M690.5 626.4V664.3M692 625.7V663.6M693.6 625.1V663M695.2 624.8V662.7M696.7 624.6V662.6M698.3 624.6V662.5M699.8 624.5V662.5M701.4 624.5V662.4" stroke="#000" stroke-width="0.7" fill="none"/>
<path d="M441 708.7h4.6M441 709.5h4.6M442.5 708.6h4.6M442.5 709.5h4.6M444.1 708.5h4.6M444.1 709.5h4.6M445.7 708.4h4.6M445.7 709.5h4.6M447.2 708.3h4.6M447.2 709.4h4.6M448.8 708.2h4.6M448.8 709.3h4.6M450.4 708h4.6M450.4 709.2h4.6M451.9 707.7h4.6M451.9 708.9h4.6M453.5 707.4h4.6M453.5 708.7h4.6M455 707.1h4.6M455 708.4h4.6M456.6 706.8h4.6M456.6 708.2h4.6M458.2 706.5h4.6M458.2 708h4.6M459.7 706.2h4.6M459.7 707.7h4.6M461.3 705.9h4.6M461.3 707.5h4.6M462.9 705.6h4.6M462.9 707.2h4.6M464.4 705.3h4.6M464.4 707h4.6M466 705h4.6M466 706.8h4.6M467.6 704.7h4.6M467.6 706.5h4.6M469.1 704.3h4.6M469.1 706.3h4.6M470.7 703.8h4.6M470.7 706.1h4.6M472.3 703.2h4.6M472.3 705.9h4.6M473.8 702.6h4.6M473.8 705.7h4.6M475.4 702h4.6M475.4 705.5h4.6M477 701.3h4.6M477 705.3h4.6M478.5 700.7h4.6M478.5 705.2h4.6M480.1 700.1h4.6M480.1 705h4.6M481.6 699.4h4.6M481.6 704.8h4.6M483.2 698.8h4.6M483.2 704.6h4.6M484.8 698.1h4.6M484.8 704.4h4.6M486.3 697.5h4.6M486.3 704.3h4.6M487.9 696.9h4.6M487.9 704.1h4.6M489.5 696.2h4.6M489.5 703.9h4.6M491 695.6h4.6M491 703.7h4.6M492.6 695h4.6M492.6 703.5h4.6M494.2 694.3h4.6M494.2 703.3h4.6M495.7 693.6h4.6M495.7 703h4.6M497.3 692.7h4.6M497.3 702.7h4.6M498.9 691.9h4.6M498.9 702.2h4.6M500.4 690.9h4.6M500.4 701.8h4.6M502 690h4.6M502 701.3h4.6M503.5 689.1h4.6M503.5 700.9h4.6M505.1 688.2h4.6M505.1 700.4h4.6M506.7 687.3h4.6M506.7 700h4.6M508.2 686.4h4.6M508.2 699.5h4.6M509.8 685.5h4.6M509.8 699.1h4.6M511.4 684.6h4.6M511.4 698.6h4.6M512.9 683.7h4.6M512.9 698.2h4.6M514.5 682.8h4.6M514.5 697.7h4.6M516.1 681.8h4.6M516.1 697.2h4.6M517.6 680.9h4.6M517.6 696.8h4.6M519.2 680h4.6M519.2 696.3h4.6M520.8 679.1h4.6M520.8 695.9h4.6M522.3 678.1h4.6M522.3 695.4h4.6M523.9 677h4.6M523.9 694.8h4.6M525.5 675.9h4.6M525.5 694.3h4.6M527 674.8h4.6M527 693.8h4.6M528.6 673.7h4.6M528.6 693.2h4.6M530.1 672.6h4.6M530.1 692.7h4.6M531.7 671.5h4.6M531.7 692.1h4.6M533.3 670.4h4.6M533.3 691.6h4.6M534.8 669.2h4.6M534.8 691.1h4.6M536.4 668.1h4.6M536.4 690.5h4.6M538 667h4.6M538 690h4.6M539.5 665.9h4.6M539.5 689.4h4.6M541.1 664.8h4.6M541.1 688.9h4.6M542.7 663.7h4.6M542.7 688.3h4.6M544.2 662.6h4.6M544.2 687.8h4.6M545.8 661.5h4.6M545.8 687.3h4.6M547.4 660.4h4.6M547.4 686.7h4.6M548.9 659.4h4.6M548.9 686.4h4.6M550.5 658.9h4.6M550.5 686.4h4.6M552 658.7h4.6M552 686.6h4.6M553.6 659.8h4.6M553.6 690.3h4.6M555.2 659.7h4.6M555.2 690.7h4.6M556.7 659.2h4.6M556.7 690.9h4.6M558.3 658.3h4.6M558.3 690.8h4.6M559.9 657.1h4.6M559.9 690.3h4.6M561.4 655.8h4.6M561.4 689.7h4.6M563 654.5h4.6M563 689.2h4.6M564.6 653.4h4.6M564.6 688.8h4.6M566.1 652.6h4.6M566.1 688.7h4.6M567.7 652.2h4.6M567.7 689.1h4.6M569.3 651.9h4.6M569.3 689.5h4.6M570.8 651.3h4.6M570.8 689.6h4.6M572.4 650.3h4.6M572.4 689.4h4.6M574 649h4.6M574 688.9h4.6M575.5 647.7h4.6M575.5 688.4h4.6M577.1 646.4h4.6M577.1 688h4.6M578.6 645h4.6M578.6 687.5h4.6M580.2 643.6h4.6M580.2 687.1h4.6M581.8 642.3h4.6M581.8 686.6h4.6M583.3 640.9h4.6M583.3 686.2h4.6M584.9 639.5h4.6M584.9 685.7h4.6M586.5 638.2h4.6M586.5 685.3h4.6M588 636.8h4.6M588 684.8h4.6M589.6 635.5h4.6M589.6 684.4h4.6M591.2 634.1h4.6M591.2 683.9h4.6M592.7 632.7h4.6M592.7 683.5h4.6M594.3 631.4h4.6M594.3 683h4.6M595.9 630h4.6M595.9 682.6h4.6M597.4 628.7h4.6M597.4 682.1h4.6M599 627.4h4.6M599 681.7h4.6M600.5 626.3h4.6M600.5 681.2h4.6M602.1 625.4h4.6M602.1 680.7h4.6M603.7 624.5h4.6M603.7 680.3h4.6M605.2 623.7h4.6M605.2 679.8h4.6M606.8 622.9h4.6M606.8 679.4h4.6M608.4 622.1h4.6M608.4 678.9h4.6M609.9 621.3h4.6M609.9 678.5h4.6M611.5 620.5h4.6M611.5 678h4.6M613.1 619.7h4.6M613.1 677.6h4.6M614.6 618.9h4.6M614.6 677.1h4.6M616.2 618.1h4.6M616.2 676.7h4.6M617.8 617.3h4.6M617.8 676.2h4.6M619.3 616.6h4.6M619.3 675.7h4.6M620.9 615.8h4.6M620.9 675.3h4.6M622.4 615h4.6M622.4 674.8h4.6M624 614.2h4.6M624 674.4h4.6M625.6 613.4h4.6M625.6 673.8h4.6M627.1 612.7h4.6M627.1 673.3h4.6M628.7 611.9h4.6M628.7 672.6h4.6M630.3 611.4h4.6M630.3 672.1h4.6M631.8 611h4.6M631.8 671.7h4.6M633.4 654.2h4.6M633.4 682.5h4.6M635 653.8h4.6M635 682.4h4.6M636.5 653.2h4.6M636.5 682.2h4.6M638.1 652.6h4.6M638.1 682h4.6M639.7 651.9h4.6M639.7 681.8h4.6M641.2 651.2h4.6M641.2 681.5h4.6M642.8 650.5h4.6M642.8 681.3h4.6M644.4 649.8h4.6M644.4 681.1h4.6M645.9 649.2h4.6M645.9 680.9h4.6M647.5 648.6h4.6M647.5 680.8h4.6M649 648.2h4.6M649 680.8h4.6M650.6 647.8h4.6M650.6 680.8h4.6M652.2 647.4h4.6M652.2 680.9h4.6M653.7 647.1h4.6M653.7 680.9h4.6M655.3 646.7h4.6M655.3 680.8h4.6M656.9 646.2h4.6M656.9 680.6h4.6M658.4 645.5h4.6M658.4 680.1h4.6M660 644.5h4.6M660 679.4h4.6M661.6 643.4h4.6M661.6 678.6h4.6M663.1 642.3h4.6M663.1 677.7h4.6M664.7 641.2h4.6M664.7 676.8h4.6M666.3 640.1h4.6M666.3 676h4.6M667.8 639h4.6M667.8 675.1h4.6M669.4 637.8h4.6M669.4 674.3h4.6M670.9 636.7h4.6M670.9 673.4h4.6M672.5 635.6h4.6M672.5 672.6h4.6M674.1 634.5h4.6M674.1 671.7h4.6M675.6 633.4h4.6M675.6 670.8h4.6M677.2 632.3h4.6M677.2 670h4.6M678.8 631.3h4.6M678.8 669.2h4.6M680.3 630.4h4.6M680.3 668.3h4.6M681.9 629.6h4.6M681.9 667.5h4.6M683.5 628.8h4.6M683.5 666.7h4.6M685 628h4.6M685 665.9h4.6M686.6 627.2h4.6M686.6 665.1h4.6M688.2 626.4h4.6M688.2 664.3h4.6M689.7 625.7h4.6M689.7 663.6h4.6M691.3 625.1h4.6M691.3 663h4.6M692.9 624.8h4.6M692.9 662.7h4.6M694.4 624.6h4.6M694.4 662.6h4.6M696 624.6h4.6M696 662.5h4.6M697.5 624.5h4.6M697.5 662.5h4.6M699.1 624.5h4.6M699.1 662.4h4.6" stroke="#000" stroke-width="0.75" fill="none"/>
<path d="M419.8 708h0M421.4 708.1h0M422.9 708.2h0M424.5 708.3h0M426.1 708.5h0M427.6 708.6h0M429.2 708.8h0M430.8 708.9h0M432.3 709h0M433.9 709.2h0M435.4 709.2h0M437 709.3h0M438.6 709.2h0M440.1 709.2h0M441.7 709.1h0M443.3 709.1h0M444.8 709h0M446.4 709h0M448 708.9h0M449.5 708.9h0M451.1 708.7h0M452.7 708.6h0M454.2 708.3h0M455.8 708h0M457.3 707.8h0M458.9 707.5h0M460.5 707.2h0M462 707h0M463.6 706.7h0M465.2 706.4h0M466.7 706.1h0M468.3 705.9h0M469.9 705.6h0M471.4 705.3h0M473 704.9h0M474.6 704.6h0M476.1 704.2h0M477.7 703.7h0M479.3 703.3h0M480.8 702.9h0M482.4 702.5h0M483.9 702.1h0M485.5 701.7h0M487.1 701.3h0M488.6 700.9h0M490.2 700.5h0M491.8 700.1h0M493.3 699.6h0M494.9 699.2h0M496.5 698.8h0M498 698.3h0M499.6 697.7h0M501.2 697.1h0M502.7 696.4h0M504.3 695.7h0M505.8 695h0M507.4 694.3h0M509 693.6h0M510.5 693h0M512.1 692.3h0M513.7 691.6h0M515.2 690.9h0M516.8 690.2h0M518.4 689.5h0M519.9 688.9h0M521.5 688.2h0M523.1 687.5h0M524.6 686.7h0M526.2 685.9h0M527.8 685.1h0M529.3 684.3h0M530.9 683.5h0M532.4 682.6h0M534 681.8h0M535.6 681h0M537.1 680.1h0M538.7 679.3h0M540.3 678.5h0M541.8 677.7h0M543.4 676.8h0M545 676h0M546.5 675.2h0M548.1 674.4h0M549.7 673.5h0M551.2 672.9h0M552.8 672.6h0M554.3 672.7h0M555.9 675h0M557.5 675.2h0M559 675h0M560.6 674.5h0M562.2 673.7h0M563.7 672.8h0M565.3 671.8h0M566.9 671.1h0M568.4 670.7h0M570 670.6h0M571.6 670.7h0M573.1 670.5h0M574.7 669.8h0M576.2 669h0M577.8 668.1h0M579.4 667.2h0M580.9 666.3h0M582.5 665.4h0M584.1 664.4h0M585.6 663.5h0M587.2 662.6h0M588.8 661.7h0M590.3 660.8h0M591.9 659.9h0M593.5 659h0M595 658.1h0M596.6 657.2h0M598.2 656.3h0M599.7 655.4h0M601.3 654.5h0M602.8 653.7h0M604.4 653.1h0M606 652.4h0M607.5 651.8h0M609.1 651.2h0M610.7 650.5h0M612.2 649.9h0M613.8 649.3h0M615.4 648.6h0M616.9 648h0M618.5 647.4h0M620.1 646.8h0M621.6 646.1h0M623.2 645.5h0M624.7 644.9h0M626.3 644.3h0M627.9 643.6h0M629.4 643h0M631 642.3h0M632.6 641.7h0M634.1 641.3h0M635.7 668.3h0M637.3 668.1h0M638.8 667.7h0M640.4 667.3h0M642 666.8h0M643.5 666.4h0M645.1 665.9h0M646.7 665.4h0M648.2 665h0M649.8 664.7h0M651.3 664.5h0M652.9 664.3h0M654.5 664.1h0M656 664h0M657.6 663.8h0M659.2 663.4h0M660.7 662.8h0M662.3 662h0M663.9 661h0M665.4 660h0M667 659h0M668.6 658h0M670.1 657h0M671.7 656.1h0M673.2 655.1h0M674.8 654.1h0M676.4 653.1h0M677.9 652.1h0M679.5 651.2h0M681.1 650.2h0M682.6 649.4h0M684.2 648.6h0M685.8 647.8h0M687.3 647h0M688.9 646.1h0M690.5 645.3h0M692 644.6h0M693.6 644.1h0M695.2 643.7h0M696.7 643.6h0M698.3 643.5h0M699.8 643.5h0M701.4 643.5h0" stroke="#000" stroke-width="6.6" stroke-linecap="round" fill="none"/>
<path d="M419.8 518.3V726.9H732.7M412.5 707.9H419.8M412.5 613.1H419.8M412.5 518.3H419.8M419.8 726.9v7.2M430.2 726.9v3.4M440.7 726.9v3.4M451.1 726.9v3.4M461.5 726.9v3.4M471.9 726.9v3.4M482.4 726.9v3.4M492.8 726.9v3.4M503.2 726.9v3.4M513.7 726.9v3.4M524.1 726.9v8.1M534.5 726.9v3.4M545 726.9v3.4M555.4 726.9v3.4M565.8 726.9v3.4M576.2 726.9v3.4M586.7 726.9v3.4M597.1 726.9v3.4M607.5 726.9v3.4M618 726.9v3.4M628.4 726.9v8.1M638.8 726.9v3.4M649.3 726.9v3.4M659.7 726.9v3.4M670.1 726.9v3.4M680.5 726.9v3.4M691 726.9v3.4M701.4 726.9v3.4M711.8 726.9v3.4M722.3 726.9v3.4M732.7 726.9v8.1" stroke="#000" stroke-width="2" fill="none" stroke-linecap="square"/>
<text x="408.3" y="713.3" font-size="15.7" font-weight="bold" text-anchor="end" fill="#000">1</text>
<text x="408.3" y="618.5" font-size="15.7" font-weight="bold" text-anchor="end" fill="#000">2</text>
<text x="408.3" y="523.7" font-size="15.7" font-weight="bold" text-anchor="end" fill="#000">3</text>
<text x="419.4" y="752.5" font-size="15.7" font-weight="bold" text-anchor="middle" fill="#000">0</text>
<text x="523.7" y="752.5" font-size="15.7" font-weight="bold" text-anchor="middle" fill="#000">200</text>
<text x="628" y="752.5" font-size="15.7" font-weight="bold" text-anchor="middle" fill="#000">400</text>
<text x="732.3" y="752.5" font-size="15.7" font-weight="bold" text-anchor="middle" fill="#000">600</text>
<text x="576.3" y="777.7" font-size="17.35" font-weight="bold" text-anchor="middle" fill="#000">Time (seconds)</text>
<text transform="translate(388.1 621.8) rotate(-90)" font-size="17" font-weight="bold" text-anchor="middle" fill="#000">MFI Fold Change</text>
<text x="530" y="494.9" font-size="22" font-weight="bold">CD41<tspan font-size="15" dy="5" dx="0.5">recipient</tspan></text>
<path d="M752.6 580.9H775.4" stroke="#444" stroke-width="1.1"/>
<circle cx="764" cy="580.9" r="3.5" fill="#000"/>
<text x="787.4" y="586.7" font-size="17.5" font-weight="normal" text-anchor="start" fill="#000">WB</text>
<path d="M752.6 608.7H775.4" stroke="#d2d2d2" stroke-width="1.1"/>
<circle cx="764" cy="608.7" r="3.5" fill="#d2d2d2"/>
<text x="787.4" y="614.5" font-size="17.5" font-weight="normal" text-anchor="start" fill="#000">TP</text>
<path d="M752.6 636.6H775.4" stroke="#8b0a0a" stroke-width="1.1"/>
<circle cx="764" cy="636.6" r="3.5" fill="#8b0a0a"/>
<text x="787.4" y="642.4" font-size="17.5" font-weight="normal" text-anchor="start" fill="#000">TP + RT (D2-7)</text>
<text x="892.4" y="456.7" font-size="46.5" font-weight="bold" text-anchor="start" fill="#000">G</text>
<rect x="1021.2" y="521.7" width="48.8" height="205.4" fill="#000"/>
<rect x="1095" y="599" width="45.6" height="128.1" fill="#d4d4d4" stroke="#000" stroke-width="3.2"/>
<rect x="1168.4" y="677.7" width="45.6" height="49.4" fill="#0505b4" stroke="#000" stroke-width="3.2"/>
<path d="M996.1 494.2V727.1M985.9 727.1H1241M985.9 680.8H996.1M985.9 634.5H996.1M985.9 588.1H996.1M985.9 541.8H996.1M985.9 495.5H996.1M1045.6 727.1v10.8M1117.8 727.1v10.8M1191.2 727.1v10.8" stroke="#000" stroke-width="2.5" fill="none"/>
<text x="983.5" y="733" font-size="17.2" font-weight="bold" text-anchor="end" fill="#000">0</text>
<text x="983.5" y="686.7" font-size="17.2" font-weight="bold" text-anchor="end" fill="#000">20</text>
<text x="983.5" y="640.4" font-size="17.2" font-weight="bold" text-anchor="end" fill="#000">40</text>
<text x="983.5" y="594.1" font-size="17.2" font-weight="bold" text-anchor="end" fill="#000">60</text>
<text x="983.5" y="547.8" font-size="17.2" font-weight="bold" text-anchor="end" fill="#000">80</text>
<text x="983.5" y="501.4" font-size="17.2" font-weight="bold" text-anchor="end" fill="#000">100</text>
<text transform="translate(938.5 604.2) rotate(-90)" font-size="16" font-weight="bold" text-anchor="middle" fill="#000">Occurance (%)</text>
<text x="1118.4" y="465.8" font-size="22.2" font-weight="bold" text-anchor="middle" fill="#000">Thrombus Formation</text>
<text transform="translate(1049.9 750.8) rotate(-45)" font-size="17.6" font-weight="bold" text-anchor="end" fill="#000">WB</text>
<text transform="translate(1122.1 750.8) rotate(-45)" font-size="17.6" font-weight="bold" text-anchor="end" fill="#000">TP</text>
<text transform="translate(1195.5 750.8) rotate(-45)" font-size="17.6" font-weight="bold" text-anchor="end" fill="#000">TP + CS (D2-7)</text>
<text x="1269.2" y="456.7" font-size="46.5" font-weight="bold" text-anchor="start" fill="#000">H</text>
<path d="M1382.6 705.4V706.3M1384.1 705V706.3M1385.6 704.5V706.3M1387.2 704.1V706.3M1388.7 703.6V706.3M1390.2 703.2V706.3M1391.8 702.7V706.3M1393.3 702.3V706.3M1394.8 701.8V706.3M1396.4 701.4V706.3M1397.9 701V706.3M1399.4 700.5V706.3M1401 700.1V706.3M1402.5 699.6V706.3M1404 699.2V706.3M1405.6 698.7V706.2M1407.1 698.2V706.1M1408.6 697.8V706M1410.2 697.3V705.8M1411.7 696.8V705.7M1413.2 696.4V705.6M1414.8 695.9V705.4M1416.3 695.4V705.3M1417.8 694.9V705.1M1419.4 694.5V705M1420.9 694V704.9M1422.4 693.5V704.7M1424 693V704.6M1425.5 692.6V704.4M1427 692.1V704.3M1428.6 691.6V704.2M1430.1 691.1V704M1431.6 690.7V703.9M1433.2 690.2V703.7M1434.7 689.7V703.6M1436.2 689.3V703.5M1437.8 688.8V703.3M1439.3 688.3V703.2M1440.9 687.8V703.1M1442.4 687.4V702.9M1443.9 686.9V702.8M1445.5 686.4V702.6M1447 685.9V702.5M1448.5 685.5V702.4M1450.1 685V702.2M1451.6 684.5V702.1M1453.1 684V701.9M1454.7 683.6V701.8M1456.2 683.1V701.6M1457.7 682.7V701.5M1459.3 682.2V701.3M1460.8 681.8V701.2M1462.3 681.3V701M1463.9 680.9V700.8M1465.4 680.4V700.7M1466.9 680V700.5M1468.5 679.5V700.3M1470 679.1V700.2M1471.5 678.6V700M1473.1 678.2V699.8M1474.6 677.8V699.7M1476.1 677.3V699.5M1477.7 676.9V699.3M1479.2 676.4V699.2M1480.7 676V699M1482.3 675.5V698.8M1483.8 675.1V698.7M1485.3 674.6V698.5M1486.9 674.2V698.3M1488.4 673.7V698.2M1489.9 673.3V698M1491.5 672.9V697.8M1493 672.4V697.7M1494.5 672V697.5M1496.1 671.5V697.3M1497.6 671.1V697.1M1499.1 670.6V697M1500.7 670.2V696.8M1502.2 669.7V696.6M1503.7 669.3V696.5M1505.3 668.8V696.3M1506.8 668.4V696.1M1508.3 667.9V695.9M1509.9 667.5V695.7M1511.4 667V695.5M1512.9 666.6V695.3M1514.5 666.1V695.1M1516 665.7V694.9M1517.5 665.2V694.7M1519.1 664.8V694.4M1520.6 664.3V694.2M1522.1 663.9V694M1523.7 663.4V693.8M1525.2 663V693.6M1526.7 662.5V693.4M1528.3 662.1V693.2M1529.8 661.6V692.9M1531.4 661.2V692.7M1532.9 660.7V692.5M1534.4 660.3V692.4M1536 659.9V692.2M1537.5 659.5V692M1539 659.1V691.9M1540.6 658.7V691.7M1542.1 658.3V691.6M1543.6 657.9V691.4M1545.2 657.5V691.2M1546.7 657.1V691.1M1548.2 656.7V690.9M1549.8 656.3V690.8M1551.3 655.9V690.6M1552.8 655.5V690.4M1554.4 655.1V690.3M1555.9 654.7V690.1M1557.4 654.4V690M1559 654V689.9M1560.5 653.7V689.8M1562 653.5V689.8M1563.6 653.2V689.8M1565.1 652.9V689.8M1566.6 652.7V689.8M1568.2 652.4V689.7M1569.7 652.2V689.7M1571.2 651.9V689.7M1572.8 651.7V689.7M1574.3 651.4V689.7M1575.8 651.1V689.6M1577.4 650.9V689.6M1578.9 650.8V689.6" stroke="#d8d8d8" stroke-width="0.8" fill="none"/>
<path d="M1380.3 705.4h4.6M1380.3 706.3h4.6M1381.8 705h4.6M1381.8 706.3h4.6M1383.3 704.5h4.6M1383.3 706.3h4.6M1384.9 704.1h4.6M1384.9 706.3h4.6M1386.4 703.6h4.6M1386.4 706.3h4.6M1387.9 703.2h4.6M1387.9 706.3h4.6M1389.5 702.7h4.6M1389.5 706.3h4.6M1391 702.3h4.6M1391 706.3h4.6M1392.5 701.8h4.6M1392.5 706.3h4.6M1394.1 701.4h4.6M1394.1 706.3h4.6M1395.6 701h4.6M1395.6 706.3h4.6M1397.1 700.5h4.6M1397.1 706.3h4.6M1398.7 700.1h4.6M1398.7 706.3h4.6M1400.2 699.6h4.6M1400.2 706.3h4.6M1401.7 699.2h4.6M1401.7 706.3h4.6M1403.3 698.7h4.6M1403.3 706.2h4.6M1404.8 698.2h4.6M1404.8 706.1h4.6M1406.3 697.8h4.6M1406.3 706h4.6M1407.9 697.3h4.6M1407.9 705.8h4.6M1409.4 696.8h4.6M1409.4 705.7h4.6M1410.9 696.4h4.6M1410.9 705.6h4.6M1412.5 695.9h4.6M1412.5 705.4h4.6M1414 695.4h4.6M1414 705.3h4.6M1415.5 694.9h4.6M1415.5 705.1h4.6M1417.1 694.5h4.6M1417.1 705h4.6M1418.6 694h4.6M1418.6 704.9h4.6M1420.1 693.5h4.6M1420.1 704.7h4.6M1421.7 693h4.6M1421.7 704.6h4.6M1423.2 692.6h4.6M1423.2 704.4h4.6M1424.7 692.1h4.6M1424.7 704.3h4.6M1426.3 691.6h4.6M1426.3 704.2h4.6M1427.8 691.1h4.6M1427.8 704h4.6M1429.3 690.7h4.6M1429.3 703.9h4.6M1430.9 690.2h4.6M1430.9 703.7h4.6M1432.4 689.7h4.6M1432.4 703.6h4.6M1433.9 689.3h4.6M1433.9 703.5h4.6M1435.5 688.8h4.6M1435.5 703.3h4.6M1437 688.3h4.6M1437 703.2h4.6M1438.6 687.8h4.6M1438.6 703.1h4.6M1440.1 687.4h4.6M1440.1 702.9h4.6M1441.6 686.9h4.6M1441.6 702.8h4.6M1443.2 686.4h4.6M1443.2 702.6h4.6M1444.7 685.9h4.6M1444.7 702.5h4.6M1446.2 685.5h4.6M1446.2 702.4h4.6M1447.8 685h4.6M1447.8 702.2h4.6M1449.3 684.5h4.6M1449.3 702.1h4.6M1450.8 684h4.6M1450.8 701.9h4.6M1452.4 683.6h4.6M1452.4 701.8h4.6M1453.9 683.1h4.6M1453.9 701.6h4.6M1455.4 682.7h4.6M1455.4 701.5h4.6M1457 682.2h4.6M1457 701.3h4.6M1458.5 681.8h4.6M1458.5 701.2h4.6M1460 681.3h4.6M1460 701h4.6M1461.6 680.9h4.6M1461.6 700.8h4.6M1463.1 680.4h4.6M1463.1 700.7h4.6M1464.6 680h4.6M1464.6 700.5h4.6M1466.2 679.5h4.6M1466.2 700.3h4.6M1467.7 679.1h4.6M1467.7 700.2h4.6M1469.2 678.6h4.6M1469.2 700h4.6M1470.8 678.2h4.6M1470.8 699.8h4.6M1472.3 677.8h4.6M1472.3 699.7h4.6M1473.8 677.3h4.6M1473.8 699.5h4.6M1475.4 676.9h4.6M1475.4 699.3h4.6M1476.9 676.4h4.6M1476.9 699.2h4.6M1478.4 676h4.6M1478.4 699h4.6M1480 675.5h4.6M1480 698.8h4.6M1481.5 675.1h4.6M1481.5 698.7h4.6M1483 674.6h4.6M1483 698.5h4.6M1484.6 674.2h4.6M1484.6 698.3h4.6M1486.1 673.7h4.6M1486.1 698.2h4.6M1487.6 673.3h4.6M1487.6 698h4.6M1489.2 672.9h4.6M1489.2 697.8h4.6M1490.7 672.4h4.6M1490.7 697.7h4.6M1492.2 672h4.6M1492.2 697.5h4.6M1493.8 671.5h4.6M1493.8 697.3h4.6M1495.3 671.1h4.6M1495.3 697.1h4.6M1496.8 670.6h4.6M1496.8 697h4.6M1498.4 670.2h4.6M1498.4 696.8h4.6M1499.9 669.7h4.6M1499.9 696.6h4.6M1501.4 669.3h4.6M1501.4 696.5h4.6M1503 668.8h4.6M1503 696.3h4.6M1504.5 668.4h4.6M1504.5 696.1h4.6M1506 667.9h4.6M1506 695.9h4.6M1507.6 667.5h4.6M1507.6 695.7h4.6M1509.1 667h4.6M1509.1 695.5h4.6M1510.6 666.6h4.6M1510.6 695.3h4.6M1512.2 666.1h4.6M1512.2 695.1h4.6M1513.7 665.7h4.6M1513.7 694.9h4.6M1515.2 665.2h4.6M1515.2 694.7h4.6M1516.8 664.8h4.6M1516.8 694.4h4.6M1518.3 664.3h4.6M1518.3 694.2h4.6M1519.8 663.9h4.6M1519.8 694h4.6M1521.4 663.4h4.6M1521.4 693.8h4.6M1522.9 663h4.6M1522.9 693.6h4.6M1524.4 662.5h4.6M1524.4 693.4h4.6M1526 662.1h4.6M1526 693.2h4.6M1527.5 661.6h4.6M1527.5 692.9h4.6M1529.1 661.2h4.6M1529.1 692.7h4.6M1530.6 660.7h4.6M1530.6 692.5h4.6M1532.1 660.3h4.6M1532.1 692.4h4.6M1533.7 659.9h4.6M1533.7 692.2h4.6M1535.2 659.5h4.6M1535.2 692h4.6M1536.7 659.1h4.6M1536.7 691.9h4.6M1538.3 658.7h4.6M1538.3 691.7h4.6M1539.8 658.3h4.6M1539.8 691.6h4.6M1541.3 657.9h4.6M1541.3 691.4h4.6M1542.9 657.5h4.6M1542.9 691.2h4.6M1544.4 657.1h4.6M1544.4 691.1h4.6M1545.9 656.7h4.6M1545.9 690.9h4.6M1547.5 656.3h4.6M1547.5 690.8h4.6M1549 655.9h4.6M1549 690.6h4.6M1550.5 655.5h4.6M1550.5 690.4h4.6M1552.1 655.1h4.6M1552.1 690.3h4.6M1553.6 654.7h4.6M1553.6 690.1h4.6M1555.1 654.4h4.6M1555.1 690h4.6M1556.7 654h4.6M1556.7 689.9h4.6M1558.2 653.7h4.6M1558.2 689.8h4.6M1559.7 653.5h4.6M1559.7 689.8h4.6M1561.3 653.2h4.6M1561.3 689.8h4.6M1562.8 652.9h4.6M1562.8 689.8h4.6M1564.3 652.7h4.6M1564.3 689.8h4.6M1565.9 652.4h4.6M1565.9 689.7h4.6M1567.4 652.2h4.6M1567.4 689.7h4.6M1568.9 651.9h4.6M1568.9 689.7h4.6M1570.5 651.7h4.6M1570.5 689.7h4.6M1572 651.4h4.6M1572 689.7h4.6M1573.5 651.1h4.6M1573.5 689.6h4.6M1575.1 650.9h4.6M1575.1 689.6h4.6M1576.6 650.8h4.6M1576.6 689.6h4.6" stroke="#d8d8d8" stroke-width="0.9" fill="none"/>
<path d="M1302.8 706.6h0M1304.3 706.8h0M1305.9 707.1h0M1307.4 707.4h0M1308.9 707.8h0M1310.5 708.2h0M1312 708.6h0M1313.5 709h0M1315.1 709.4h0M1316.6 709.7h0M1318.1 710.1h0M1319.7 710.5h0M1321.2 710.9h0M1322.7 711.1h0M1324.3 711.2h0M1325.8 711.2h0M1327.3 711.1h0M1328.9 711h0M1330.4 710.9h0M1331.9 710.7h0M1333.5 710.6h0M1335 710.5h0M1336.5 710.4h0M1338.1 710.3h0M1339.6 710.2h0M1341.1 710.1h0M1342.7 709.9h0M1344.2 709.8h0M1345.7 709.7h0M1347.3 709.6h0M1348.8 709.5h0M1350.4 709.4h0M1351.9 709.2h0M1353.4 709.1h0M1355 709h0M1356.5 708.8h0M1358 708.6h0M1359.6 708.5h0M1361.1 708.3h0M1362.6 708.1h0M1364.2 708h0M1365.7 707.8h0M1367.2 707.6h0M1368.8 707.5h0M1370.3 707.3h0M1371.8 707.1h0M1373.4 707h0M1374.9 706.8h0M1376.4 706.6h0M1378 706.5h0M1379.5 706.3h0M1381 706.1h0M1382.6 705.9h0M1384.1 705.6h0M1385.6 705.4h0M1387.2 705.2h0M1388.7 705h0M1390.2 704.7h0M1391.8 704.5h0M1393.3 704.3h0M1394.8 704.1h0M1396.4 703.9h0M1397.9 703.6h0M1399.4 703.4h0M1401 703.2h0M1402.5 703h0M1404 702.7h0M1405.6 702.5h0M1407.1 702.2h0M1408.6 701.9h0M1410.2 701.6h0M1411.7 701.3h0M1413.2 701h0M1414.8 700.6h0M1416.3 700.3h0M1417.8 700h0M1419.4 699.7h0M1420.9 699.4h0M1422.4 699.1h0M1424 698.8h0M1425.5 698.5h0M1427 698.2h0M1428.6 697.9h0M1430.1 697.6h0M1431.6 697.3h0M1433.2 697h0M1434.7 696.7h0M1436.2 696.4h0M1437.8 696.1h0M1439.3 695.7h0M1440.9 695.4h0M1442.4 695.1h0M1443.9 694.8h0M1445.5 694.5h0M1447 694.2h0M1448.5 693.9h0M1450.1 693.6h0M1451.6 693.3h0M1453.1 693h0M1454.7 692.7h0M1456.2 692.4h0M1457.7 692.1h0M1459.3 691.8h0M1460.8 691.5h0M1462.3 691.2h0M1463.9 690.8h0M1465.4 690.5h0M1466.9 690.2h0M1468.5 689.9h0M1470 689.6h0M1471.5 689.3h0M1473.1 689h0M1474.6 688.7h0M1476.1 688.4h0M1477.7 688.1h0M1479.2 687.8h0M1480.7 687.5h0M1482.3 687.2h0M1483.8 686.9h0M1485.3 686.6h0M1486.9 686.3h0M1488.4 685.9h0M1489.9 685.6h0M1491.5 685.3h0M1493 685h0M1494.5 684.7h0M1496.1 684.4h0M1497.6 684.1h0M1499.1 683.8h0M1500.7 683.5h0M1502.2 683.2h0M1503.7 682.9h0M1505.3 682.6h0M1506.8 682.3h0M1508.3 681.9h0M1509.9 681.6h0M1511.4 681.3h0M1512.9 680.9h0M1514.5 680.6h0M1516 680.3h0M1517.5 679.9h0M1519.1 679.6h0M1520.6 679.3h0M1522.1 678.9h0M1523.7 678.6h0M1525.2 678.3h0M1526.7 677.9h0M1528.3 677.6h0M1529.8 677.3h0M1531.4 676.9h0M1532.9 676.6h0M1534.4 676.3h0M1536 676h0M1537.5 675.8h0M1539 675.5h0M1540.6 675.2h0M1542.1 674.9h0M1543.6 674.7h0M1545.2 674.4h0M1546.7 674.1h0M1548.2 673.8h0M1549.8 673.5h0M1551.3 673.3h0M1552.8 673h0M1554.4 672.7h0M1555.9 672.4h0M1557.4 672.2h0M1559 672h0M1560.5 671.8h0M1562 671.6h0M1563.6 671.5h0M1565.1 671.4h0M1566.6 671.2h0M1568.2 671.1h0M1569.7 670.9h0M1571.2 670.8h0M1572.8 670.7h0M1574.3 670.5h0M1575.8 670.4h0M1577.4 670.3h0M1578.9 670.2h0" stroke="#d8d8d8" stroke-width="6.5" stroke-linecap="round" fill="none"/>
<path d="M1405.6 701.3V703.4M1407.1 699.7V703.5M1408.6 695V700.4M1410.2 686.9V704.7M1411.7 685.9V704.3M1413.2 685.7V696.1M1414.8 688.1V700.6M1416.3 692.3V703.4M1417.8 689.9V705M1419.4 686.9V697.5M1420.9 688.6V695.2M1422.4 693.3V699.9M1424 691.2V703.7M1425.5 690V699.2M1427 687V702.2M1428.6 689.3V699.9M1430.1 687.7V698.3M1431.6 696V702.6M1433.2 683.6V698.9M1434.7 686.9V698.2M1436.2 696V702.7M1437.8 692.2V704.9M1439.3 688.5V699.8M1440.9 690V705.3M1442.4 679.7V699M1443.9 687.5V702.8M1445.5 692.9V699.6M1447 679.3V694.7M1448.5 693.8V705.2M1450.1 692.4V701.8M1451.6 688.6V704M1453.1 689.8V699.2M1454.7 678.9V698.4M1456.2 691.4V700.8M1457.7 691.2V700.6M1459.3 693.4V704.8M1460.8 690.8V702.2M1462.3 682.4V695.2M1463.9 683.2V696M1465.4 689.1V700.5M1466.9 687.1V697.9M1468.5 689.5V700.3M1470 691V700.4M1471.5 684.7V704.4M1473.1 685.2V694.7M1474.6 687.2V698.7M1476.1 686.6V696.1M1477.7 694V704.8M1479.2 687.2V700.1M1480.7 685.3V696.2M1482.3 685.3V705.1M1483.8 681.6V697.2M1485.3 691.3V698.2M1486.9 686.6V697.5M1488.4 684V699.7M1489.9 691.3V702.9M1491.5 687.3V703.1M1493 687.2V698.1M1494.5 685.8V698.8M1496.1 685V696.6M1497.6 689.1V700M1499.1 691.6V702.5M1500.7 681V701M1502.2 684.8V700.6M1503.7 686.4V697.4M1505.3 692.3V703.2M1506.8 678V698.1M1508.3 681.6V701.7M1509.9 684.2V704.4M1511.4 687.6V698.6M1512.9 682.5V695.6M1514.5 695.1V704.7M1516 693.1V704.1M1517.5 684.1V695.9M1519.1 695V702.1M1520.6 682.3V698.3M1522.1 688.5V701.7M1523.7 684.4V697.6M1525.2 688.8V700.5M1526.7 689.7V702.9M1528.3 681.6V697.7M1529.8 695.1V702.2M1531.4 690.9V704.1M1532.9 685.3V701.4M1534.4 683.9V704.3M1536 682.5V698.7M1537.5 686.5V698.3M1539 685.7V695.4M1540.6 696V705.7M1542.1 695.4V705.1M1543.6 687.6V700.9M1545.2 694V705.9M1546.7 686.2V702.4M1548.2 686.1V699.5M1549.8 687.8V704M1551.3 688V695.2M1552.8 691.2V702.4M1554.4 676.1V696.8M1555.9 684.3V705M1557.4 691.9V699.2M1559 689V700.2M1560.5 691.8V705.2M1562 687.2V700.6M1563.6 691.8V703M1565.1 685.2V697.2M1566.6 688.3V701.7M1568.2 687.9V699.1M1569.7 691.3V701.1M1571.2 686.2V699.7M1572.8 691.2V701M1574.3 682V695.5M1575.8 684.4V705.3M1577.4 688V695.4M1578.9 690.7V702" stroke="#0a0ab8" stroke-width="0.9" fill="none"/>
<path d="M1403 701.3h5.2M1403 703.4h5.2M1404.5 699.7h5.2M1404.5 703.5h5.2M1406 695h5.2M1406 700.4h5.2M1407.6 686.9h5.2M1407.6 704.7h5.2M1409.1 685.9h5.2M1409.1 704.3h5.2M1410.6 685.7h5.2M1410.6 696.1h5.2M1412.2 688.1h5.2M1412.2 700.6h5.2M1413.7 692.3h5.2M1413.7 703.4h5.2M1415.2 689.9h5.2M1415.2 705h5.2M1416.8 686.9h5.2M1416.8 697.5h5.2M1418.3 688.6h5.2M1418.3 695.2h5.2M1419.8 693.3h5.2M1419.8 699.9h5.2M1421.4 691.2h5.2M1421.4 703.7h5.2M1422.9 690h5.2M1422.9 699.2h5.2M1424.4 687h5.2M1424.4 702.2h5.2M1426 689.3h5.2M1426 699.9h5.2M1427.5 687.7h5.2M1427.5 698.3h5.2M1429 696h5.2M1429 702.6h5.2M1430.6 683.6h5.2M1430.6 698.9h5.2M1432.1 686.9h5.2M1432.1 698.2h5.2M1433.6 696h5.2M1433.6 702.7h5.2M1435.2 692.2h5.2M1435.2 704.9h5.2M1436.7 688.5h5.2M1436.7 699.8h5.2M1438.3 690h5.2M1438.3 705.3h5.2M1439.8 679.7h5.2M1439.8 699h5.2M1441.3 687.5h5.2M1441.3 702.8h5.2M1442.9 692.9h5.2M1442.9 699.6h5.2M1444.4 679.3h5.2M1444.4 694.7h5.2M1445.9 693.8h5.2M1445.9 705.2h5.2M1447.5 692.4h5.2M1447.5 701.8h5.2M1449 688.6h5.2M1449 704h5.2M1450.5 689.8h5.2M1450.5 699.2h5.2M1452.1 678.9h5.2M1452.1 698.4h5.2M1453.6 691.4h5.2M1453.6 700.8h5.2M1455.1 691.2h5.2M1455.1 700.6h5.2M1456.7 693.4h5.2M1456.7 704.8h5.2M1458.2 690.8h5.2M1458.2 702.2h5.2M1459.7 682.4h5.2M1459.7 695.2h5.2M1461.3 683.2h5.2M1461.3 696h5.2M1462.8 689.1h5.2M1462.8 700.5h5.2M1464.3 687.1h5.2M1464.3 697.9h5.2M1465.9 689.5h5.2M1465.9 700.3h5.2M1467.4 691h5.2M1467.4 700.4h5.2M1468.9 684.7h5.2M1468.9 704.4h5.2M1470.5 685.2h5.2M1470.5 694.7h5.2M1472 687.2h5.2M1472 698.7h5.2M1473.5 686.6h5.2M1473.5 696.1h5.2M1475.1 694h5.2M1475.1 704.8h5.2M1476.6 687.2h5.2M1476.6 700.1h5.2M1478.1 685.3h5.2M1478.1 696.2h5.2M1479.7 685.3h5.2M1479.7 705.1h5.2M1481.2 681.6h5.2M1481.2 697.2h5.2M1482.7 691.3h5.2M1482.7 698.2h5.2M1484.3 686.6h5.2M1484.3 697.5h5.2M1485.8 684h5.2M1485.8 699.7h5.2M1487.3 691.3h5.2M1487.3 702.9h5.2M1488.9 687.3h5.2M1488.9 703.1h5.2M1490.4 687.2h5.2M1490.4 698.1h5.2M1491.9 685.8h5.2M1491.9 698.8h5.2M1493.5 685h5.2M1493.5 696.6h5.2M1495 689.1h5.2M1495 700h5.2M1496.5 691.6h5.2M1496.5 702.5h5.2M1498.1 681h5.2M1498.1 701h5.2M1499.6 684.8h5.2M1499.6 700.6h5.2M1501.1 686.4h5.2M1501.1 697.4h5.2M1502.7 692.3h5.2M1502.7 703.2h5.2M1504.2 678h5.2M1504.2 698.1h5.2M1505.7 681.6h5.2M1505.7 701.7h5.2M1507.3 684.2h5.2M1507.3 704.4h5.2M1508.8 687.6h5.2M1508.8 698.6h5.2M1510.3 682.5h5.2M1510.3 695.6h5.2M1511.9 695.1h5.2M1511.9 704.7h5.2M1513.4 693.1h5.2M1513.4 704.1h5.2M1514.9 684.1h5.2M1514.9 695.9h5.2M1516.5 695h5.2M1516.5 702.1h5.2M1518 682.3h5.2M1518 698.3h5.2M1519.5 688.5h5.2M1519.5 701.7h5.2M1521.1 684.4h5.2M1521.1 697.6h5.2M1522.6 688.8h5.2M1522.6 700.5h5.2M1524.1 689.7h5.2M1524.1 702.9h5.2M1525.7 681.6h5.2M1525.7 697.7h5.2M1527.2 695.1h5.2M1527.2 702.2h5.2M1528.8 690.9h5.2M1528.8 704.1h5.2M1530.3 685.3h5.2M1530.3 701.4h5.2M1531.8 683.9h5.2M1531.8 704.3h5.2M1533.4 682.5h5.2M1533.4 698.7h5.2M1534.9 686.5h5.2M1534.9 698.3h5.2M1536.4 685.7h5.2M1536.4 695.4h5.2M1538 696h5.2M1538 705.7h5.2M1539.5 695.4h5.2M1539.5 705.1h5.2M1541 687.6h5.2M1541 700.9h5.2M1542.6 694h5.2M1542.6 705.9h5.2M1544.1 686.2h5.2M1544.1 702.4h5.2M1545.6 686.1h5.2M1545.6 699.5h5.2M1547.2 687.8h5.2M1547.2 704h5.2M1548.7 688h5.2M1548.7 695.2h5.2M1550.2 691.2h5.2M1550.2 702.4h5.2M1551.8 676.1h5.2M1551.8 696.8h5.2M1553.3 684.3h5.2M1553.3 705h5.2M1554.8 691.9h5.2M1554.8 699.2h5.2M1556.4 689h5.2M1556.4 700.2h5.2M1557.9 691.8h5.2M1557.9 705.2h5.2M1559.4 687.2h5.2M1559.4 700.6h5.2M1561 691.8h5.2M1561 703h5.2M1562.5 685.2h5.2M1562.5 697.2h5.2M1564 688.3h5.2M1564 701.7h5.2M1565.6 687.9h5.2M1565.6 699.1h5.2M1567.1 691.3h5.2M1567.1 701.1h5.2M1568.6 686.2h5.2M1568.6 699.7h5.2M1570.2 691.2h5.2M1570.2 701h5.2M1571.7 682h5.2M1571.7 695.5h5.2M1573.2 684.4h5.2M1573.2 705.3h5.2M1574.8 688h5.2M1574.8 695.4h5.2M1576.3 690.7h5.2M1576.3 702h5.2" stroke="#0a0ab8" stroke-width="0.9" fill="none"/>
<path d="M1302.8 706.3h0M1304.3 706.3h0M1305.9 706.3h0M1307.4 706.3h0M1308.9 706.3h0M1310.5 706.3h0M1312 706.3h0M1313.5 706.3h0M1315.1 706.3h0M1316.6 706.3h0M1318.1 706.3h0M1319.7 706.3h0M1321.2 706.3h0M1322.7 706.3h0M1324.3 706.3h0M1325.8 706.3h0M1327.3 706.3h0M1328.9 706.2h0M1330.4 706.2h0M1331.9 706.1h0M1333.5 706h0M1335 706.1h0M1336.5 705.7h0M1338.1 706.1h0M1339.6 705.5h0M1341.1 706.2h0M1342.7 706.5h0M1344.2 704.6h0M1345.7 706h0M1347.3 705.9h0M1348.8 704.1h0M1350.4 704.2h0M1351.9 705.5h0M1353.4 703.8h0M1355 704.8h0M1356.5 704.3h0M1358 705.4h0M1359.6 703.5h0M1361.1 704h0M1362.6 703.2h0M1364.2 703.3h0M1365.7 704.8h0M1367.2 704.6h0M1368.8 705h0M1370.3 705h0M1371.8 705.1h0M1373.4 704.4h0M1374.9 703.5h0M1376.4 705.1h0M1378 703.1h0M1379.5 704h0M1381 703.9h0M1382.6 702.3h0M1384.1 703.2h0M1385.6 703.5h0M1387.2 702.9h0M1388.7 702.1h0M1390.2 703.9h0M1391.8 700.9h0M1393.3 703.7h0M1394.8 701.3h0M1396.4 700.9h0M1397.9 703.4h0M1399.4 700.8h0M1401 702h0M1402.5 701.2h0M1404 702.8h0M1405.6 702.3h0M1407.1 701.6h0M1408.6 697.7h0M1410.2 700h0M1411.7 699.6h0M1413.2 691.5h0M1414.8 696h0M1416.3 698.8h0M1417.8 700.3h0M1419.4 692.8h0M1420.9 691.9h0M1422.4 696.6h0M1424 699.1h0M1425.5 694.6h0M1427 697.6h0M1428.6 695.2h0M1430.1 693.6h0M1431.6 699.3h0M1433.2 694.2h0M1434.7 693.5h0M1436.2 699.4h0M1437.8 700.2h0M1439.3 695.1h0M1440.9 700.7h0M1442.4 694.4h0M1443.9 698.2h0M1445.5 696.3h0M1447 690h0M1448.5 700.5h0M1450.1 697.1h0M1451.6 699.4h0M1453.1 694.5h0M1454.7 693.8h0M1456.2 696.2h0M1457.7 695.9h0M1459.3 700.1h0M1460.8 697.5h0M1462.3 690.6h0M1463.9 691.4h0M1465.4 695.8h0M1466.9 693.3h0M1468.5 695.6h0M1470 695.7h0M1471.5 699.8h0M1473.1 690h0M1474.6 694.1h0M1476.1 691.4h0M1477.7 700.1h0M1479.2 695.4h0M1480.7 691.5h0M1482.3 700.5h0M1483.8 692.6h0M1485.3 694.7h0M1486.9 692.8h0M1488.4 695.1h0M1489.9 698.2h0M1491.5 698.4h0M1493 693.4h0M1494.5 694.2h0M1496.1 692h0M1497.6 695.4h0M1499.1 697.9h0M1500.7 696.4h0M1502.2 696h0M1503.7 692.7h0M1505.3 698.6h0M1506.8 693.4h0M1508.3 697.1h0M1509.9 699.7h0M1511.4 694h0M1512.9 691h0M1514.5 700.1h0M1516 699.4h0M1517.5 691.2h0M1519.1 698.5h0M1520.6 693.6h0M1522.1 697h0M1523.7 693h0M1525.2 695.9h0M1526.7 698.3h0M1528.3 693h0M1529.8 698.6h0M1531.4 699.5h0M1532.9 696.7h0M1534.4 699.6h0M1536 694h0M1537.5 693.7h0M1539 690.7h0M1540.6 701.1h0M1542.1 700.4h0M1543.6 696.3h0M1545.2 701.3h0M1546.7 697.8h0M1548.2 694.8h0M1549.8 699.4h0M1551.3 691.6h0M1552.8 697.8h0M1554.4 692.1h0M1555.9 700.4h0M1557.4 695.6h0M1559 695.5h0M1560.5 700.6h0M1562 696h0M1563.6 698.4h0M1565.1 692.5h0M1566.6 697.1h0M1568.2 694.5h0M1569.7 696.5h0M1571.2 695h0M1572.8 696.3h0M1574.3 690.9h0M1575.8 700.6h0M1577.4 691.7h0M1578.9 697.4h0" stroke="#0a0ab8" stroke-width="6.5" stroke-linecap="round" fill="none"/>
<path d="M1316.6 705.4V706.2M1318.1 705.3V706.2M1319.7 705.2V706.2M1321.2 705.1V706.2M1322.7 705V706.2M1324.3 704.9V706.2M1325.8 704.8V706.2M1327.3 704.6V706.1M1328.9 704.4V706M1330.4 704.1V705.8M1331.9 703.8V705.5M1333.5 703.4V705.3M1335 702.9V705.1M1336.5 702.5V704.9M1338.1 702.1V704.7M1339.6 701.6V704.6M1341.1 701.1V704.4M1342.7 700.7V704.2M1344.2 700.2V704.1M1345.7 699.8V703.9M1347.3 699.3V703.7M1348.8 698.9V703.5M1350.4 698.4V703.4M1351.9 697.9V703.2M1353.4 697.3V702.9M1355 696.5V702.5M1356.5 695.4V702.1M1358 694.3V701.6M1359.6 693.1V701.1M1361.1 691.9V700.6M1362.6 690.8V700M1364.2 689.6V699.5M1365.7 688.4V699M1367.2 687.3V698.5M1368.8 686.1V698M1370.3 684.9V697.5M1371.8 683.8V697M1373.4 682.7V696.5M1374.9 681.7V696M1376.4 680.8V695.7M1378 680V695.3M1379.5 679.2V695M1381 678.4V694.7M1382.6 677.6V694.4M1384.1 676.8V694M1385.6 676V693.7M1387.2 675.2V693.4M1388.7 674.4V693.1M1390.2 673.6V692.7M1391.8 672.9V692.4M1393.3 672.1V692.1M1394.8 671.3V691.8M1396.4 670.5V691.4M1397.9 669.7V691.1M1399.4 668.9V690.8M1401 668.1V690.5M1402.5 667.3V690.1M1404 666.5V689.8M1405.6 665.7V689.4M1407.1 664.9V689.1M1408.6 664.1V688.7M1410.2 663.2V688.3M1411.7 662.4V687.9M1413.2 661.5V687.5M1414.8 660.7V687.2M1416.3 659.8V686.8M1417.8 659V686.4M1419.4 658.1V686M1420.9 657.3V685.6M1422.4 656.5V685.2M1424 655.6V684.9M1425.5 654.8V684.5M1427 653.9V684.1M1428.6 653.1V683.7M1430.1 652.2V683.3M1431.6 651.4V682.9M1433.2 650.7V682.7M1434.7 650.3V682.4M1436.2 656.2V683.1M1437.8 657.3V683.2M1439.3 657.9V683M1440.9 658V682.5M1442.4 657.3V681.9M1443.9 656.4V681.2M1445.5 655.6V680.4M1447 654.7V679.7M1448.5 653.8V679M1450.1 653V678.3M1451.6 652.1V677.6M1453.1 651.2V676.9M1454.7 650.4V676.2M1456.2 649.5V675.5M1457.7 648.6V674.9M1459.3 647.8V674.3M1460.8 646.9V673.7M1462.3 646V673.1M1463.9 645.1V672.5M1465.4 644.3V671.9M1466.9 643.4V671.3M1468.5 642.5V670.7M1470 641.6V670.1M1471.5 640.8V669.5M1473.1 639.9V668.9M1474.6 639V668.3M1476.1 638.1V667.7M1477.7 637.3V667.1M1479.2 636.4V666.5M1480.7 635.5V665.9M1482.3 634.6V665.3M1483.8 633.6V664.5M1485.3 632.6V663.8M1486.9 631.6V663M1488.4 630.6V662.3M1489.9 629.6V661.5M1491.5 628.6V660.7M1493 627.5V660M1494.5 626.5V659.2M1496.1 625.5V658.5M1497.6 624.5V657.7M1499.1 623.5V656.9M1500.7 622.5V656.2M1502.2 621.6V655.5M1503.7 621V655.1M1505.3 620.6V654.9M1506.8 623.2V657.8M1508.3 623.6V658.2M1509.9 623.6V658.3M1511.4 623.2V658M1512.9 622.4V657.4M1514.5 621.6V656.6M1516 620.9V656M1517.5 620.4V655.6M1519.1 633.7V663.6M1520.6 633V663.1M1522.1 632.2V662.6M1523.7 631.2V661.8M1525.2 630.1V661.1M1526.7 629V660.4M1528.3 627.9V659.6M1529.8 626.9V658.9M1531.4 625.9V658.2M1532.9 625V657.6M1534.4 624.3V657.1M1536 623.7V656.7M1537.5 623.2V656.3M1539 622.6V655.9M1540.6 622.1V655.6M1542.1 621.6V655.2M1543.6 621.1V654.8M1545.2 620.5V654.5M1546.7 620V654.1M1548.2 619.6V653.8M1549.8 619.2V653.6M1551.3 618.9V653.5M1552.8 618.6V653.3M1554.4 618.4V653.2M1555.9 618.1V653.1M1557.4 617.8V653M1559 617.5V652.9M1560.5 617.2V652.8M1562 616.7V652.6M1563.6 616.1V652.3M1565.1 615.3V651.7M1566.6 614.2V651M1568.2 613.1V650.2M1569.7 612V649.3M1571.2 610.9V648.5M1572.8 609.8V647.7M1574.3 608.7V646.8M1575.8 607.6V646M1577.4 606.7V645.4M1578.9 606.1V644.9" stroke="#000" stroke-width="0.7" fill="none"/>
<path d="M1314.3 705.4h4.6M1314.3 706.2h4.6M1315.8 705.3h4.6M1315.8 706.2h4.6M1317.4 705.2h4.6M1317.4 706.2h4.6M1318.9 705.1h4.6M1318.9 706.2h4.6M1320.4 705h4.6M1320.4 706.2h4.6M1322 704.9h4.6M1322 706.2h4.6M1323.5 704.8h4.6M1323.5 706.2h4.6M1325 704.6h4.6M1325 706.1h4.6M1326.6 704.4h4.6M1326.6 706h4.6M1328.1 704.1h4.6M1328.1 705.8h4.6M1329.6 703.8h4.6M1329.6 705.5h4.6M1331.2 703.4h4.6M1331.2 705.3h4.6M1332.7 702.9h4.6M1332.7 705.1h4.6M1334.2 702.5h4.6M1334.2 704.9h4.6M1335.8 702.1h4.6M1335.8 704.7h4.6M1337.3 701.6h4.6M1337.3 704.6h4.6M1338.8 701.1h4.6M1338.8 704.4h4.6M1340.4 700.7h4.6M1340.4 704.2h4.6M1341.9 700.2h4.6M1341.9 704.1h4.6M1343.4 699.8h4.6M1343.4 703.9h4.6M1345 699.3h4.6M1345 703.7h4.6M1346.5 698.9h4.6M1346.5 703.5h4.6M1348.1 698.4h4.6M1348.1 703.4h4.6M1349.6 697.9h4.6M1349.6 703.2h4.6M1351.1 697.3h4.6M1351.1 702.9h4.6M1352.7 696.5h4.6M1352.7 702.5h4.6M1354.2 695.4h4.6M1354.2 702.1h4.6M1355.7 694.3h4.6M1355.7 701.6h4.6M1357.3 693.1h4.6M1357.3 701.1h4.6M1358.8 691.9h4.6M1358.8 700.6h4.6M1360.3 690.8h4.6M1360.3 700h4.6M1361.9 689.6h4.6M1361.9 699.5h4.6M1363.4 688.4h4.6M1363.4 699h4.6M1364.9 687.3h4.6M1364.9 698.5h4.6M1366.5 686.1h4.6M1366.5 698h4.6M1368 684.9h4.6M1368 697.5h4.6M1369.5 683.8h4.6M1369.5 697h4.6M1371.1 682.7h4.6M1371.1 696.5h4.6M1372.6 681.7h4.6M1372.6 696h4.6M1374.1 680.8h4.6M1374.1 695.7h4.6M1375.7 680h4.6M1375.7 695.3h4.6M1377.2 679.2h4.6M1377.2 695h4.6M1378.7 678.4h4.6M1378.7 694.7h4.6M1380.3 677.6h4.6M1380.3 694.4h4.6M1381.8 676.8h4.6M1381.8 694h4.6M1383.3 676h4.6M1383.3 693.7h4.6M1384.9 675.2h4.6M1384.9 693.4h4.6M1386.4 674.4h4.6M1386.4 693.1h4.6M1387.9 673.6h4.6M1387.9 692.7h4.6M1389.5 672.9h4.6M1389.5 692.4h4.6M1391 672.1h4.6M1391 692.1h4.6M1392.5 671.3h4.6M1392.5 691.8h4.6M1394.1 670.5h4.6M1394.1 691.4h4.6M1395.6 669.7h4.6M1395.6 691.1h4.6M1397.1 668.9h4.6M1397.1 690.8h4.6M1398.7 668.1h4.6M1398.7 690.5h4.6M1400.2 667.3h4.6M1400.2 690.1h4.6M1401.7 666.5h4.6M1401.7 689.8h4.6M1403.3 665.7h4.6M1403.3 689.4h4.6M1404.8 664.9h4.6M1404.8 689.1h4.6M1406.3 664.1h4.6M1406.3 688.7h4.6M1407.9 663.2h4.6M1407.9 688.3h4.6M1409.4 662.4h4.6M1409.4 687.9h4.6M1410.9 661.5h4.6M1410.9 687.5h4.6M1412.5 660.7h4.6M1412.5 687.2h4.6M1414 659.8h4.6M1414 686.8h4.6M1415.5 659h4.6M1415.5 686.4h4.6M1417.1 658.1h4.6M1417.1 686h4.6M1418.6 657.3h4.6M1418.6 685.6h4.6M1420.1 656.5h4.6M1420.1 685.2h4.6M1421.7 655.6h4.6M1421.7 684.9h4.6M1423.2 654.8h4.6M1423.2 684.5h4.6M1424.7 653.9h4.6M1424.7 684.1h4.6M1426.3 653.1h4.6M1426.3 683.7h4.6M1427.8 652.2h4.6M1427.8 683.3h4.6M1429.3 651.4h4.6M1429.3 682.9h4.6M1430.9 650.7h4.6M1430.9 682.7h4.6M1432.4 650.3h4.6M1432.4 682.4h4.6M1433.9 656.2h4.6M1433.9 683.1h4.6M1435.5 657.3h4.6M1435.5 683.2h4.6M1437 657.9h4.6M1437 683h4.6M1438.6 658h4.6M1438.6 682.5h4.6M1440.1 657.3h4.6M1440.1 681.9h4.6M1441.6 656.4h4.6M1441.6 681.2h4.6M1443.2 655.6h4.6M1443.2 680.4h4.6M1444.7 654.7h4.6M1444.7 679.7h4.6M1446.2 653.8h4.6M1446.2 679h4.6M1447.8 653h4.6M1447.8 678.3h4.6M1449.3 652.1h4.6M1449.3 677.6h4.6M1450.8 651.2h4.6M1450.8 676.9h4.6M1452.4 650.4h4.6M1452.4 676.2h4.6M1453.9 649.5h4.6M1453.9 675.5h4.6M1455.4 648.6h4.6M1455.4 674.9h4.6M1457 647.8h4.6M1457 674.3h4.6M1458.5 646.9h4.6M1458.5 673.7h4.6M1460 646h4.6M1460 673.1h4.6M1461.6 645.1h4.6M1461.6 672.5h4.6M1463.1 644.3h4.6M1463.1 671.9h4.6M1464.6 643.4h4.6M1464.6 671.3h4.6M1466.2 642.5h4.6M1466.2 670.7h4.6M1467.7 641.6h4.6M1467.7 670.1h4.6M1469.2 640.8h4.6M1469.2 669.5h4.6M1470.8 639.9h4.6M1470.8 668.9h4.6M1472.3 639h4.6M1472.3 668.3h4.6M1473.8 638.1h4.6M1473.8 667.7h4.6M1475.4 637.3h4.6M1475.4 667.1h4.6M1476.9 636.4h4.6M1476.9 666.5h4.6M1478.4 635.5h4.6M1478.4 665.9h4.6M1480 634.6h4.6M1480 665.3h4.6M1481.5 633.6h4.6M1481.5 664.5h4.6M1483 632.6h4.6M1483 663.8h4.6M1484.6 631.6h4.6M1484.6 663h4.6M1486.1 630.6h4.6M1486.1 662.3h4.6M1487.6 629.6h4.6M1487.6 661.5h4.6M1489.2 628.6h4.6M1489.2 660.7h4.6M1490.7 627.5h4.6M1490.7 660h4.6M1492.2 626.5h4.6M1492.2 659.2h4.6M1493.8 625.5h4.6M1493.8 658.5h4.6M1495.3 624.5h4.6M1495.3 657.7h4.6M1496.8 623.5h4.6M1496.8 656.9h4.6M1498.4 622.5h4.6M1498.4 656.2h4.6M1499.9 621.6h4.6M1499.9 655.5h4.6M1501.4 621h4.6M1501.4 655.1h4.6M1503 620.6h4.6M1503 654.9h4.6M1504.5 623.2h4.6M1504.5 657.8h4.6M1506 623.6h4.6M1506 658.2h4.6M1507.6 623.6h4.6M1507.6 658.3h4.6M1509.1 623.2h4.6M1509.1 658h4.6M1510.6 622.4h4.6M1510.6 657.4h4.6M1512.2 621.6h4.6M1512.2 656.6h4.6M1513.7 620.9h4.6M1513.7 656h4.6M1515.2 620.4h4.6M1515.2 655.6h4.6M1516.8 633.7h4.6M1516.8 663.6h4.6M1518.3 633h4.6M1518.3 663.1h4.6M1519.8 632.2h4.6M1519.8 662.6h4.6M1521.4 631.2h4.6M1521.4 661.8h4.6M1522.9 630.1h4.6M1522.9 661.1h4.6M1524.4 629h4.6M1524.4 660.4h4.6M1526 627.9h4.6M1526 659.6h4.6M1527.5 626.9h4.6M1527.5 658.9h4.6M1529.1 625.9h4.6M1529.1 658.2h4.6M1530.6 625h4.6M1530.6 657.6h4.6M1532.1 624.3h4.6M1532.1 657.1h4.6M1533.7 623.7h4.6M1533.7 656.7h4.6M1535.2 623.2h4.6M1535.2 656.3h4.6M1536.7 622.6h4.6M1536.7 655.9h4.6M1538.3 622.1h4.6M1538.3 655.6h4.6M1539.8 621.6h4.6M1539.8 655.2h4.6M1541.3 621.1h4.6M1541.3 654.8h4.6M1542.9 620.5h4.6M1542.9 654.5h4.6M1544.4 620h4.6M1544.4 654.1h4.6M1545.9 619.6h4.6M1545.9 653.8h4.6M1547.5 619.2h4.6M1547.5 653.6h4.6M1549 618.9h4.6M1549 653.5h4.6M1550.5 618.6h4.6M1550.5 653.3h4.6M1552.1 618.4h4.6M1552.1 653.2h4.6M1553.6 618.1h4.6M1553.6 653.1h4.6M1555.1 617.8h4.6M1555.1 653h4.6M1556.7 617.5h4.6M1556.7 652.9h4.6M1558.2 617.2h4.6M1558.2 652.8h4.6M1559.7 616.7h4.6M1559.7 652.6h4.6M1561.3 616.1h4.6M1561.3 652.3h4.6M1562.8 615.3h4.6M1562.8 651.7h4.6M1564.3 614.2h4.6M1564.3 651h4.6M1565.9 613.1h4.6M1565.9 650.2h4.6M1567.4 612h4.6M1567.4 649.3h4.6M1568.9 610.9h4.6M1568.9 648.5h4.6M1570.5 609.8h4.6M1570.5 647.7h4.6M1572 608.7h4.6M1572 646.8h4.6M1573.5 607.6h4.6M1573.5 646h4.6M1575.1 606.7h4.6M1575.1 645.4h4.6M1576.6 606.1h4.6M1576.6 644.9h4.6" stroke="#000" stroke-width="0.75" fill="none"/>
<path d="M1302.8 706.3h0M1304.3 706.2h0M1305.9 706.2h0M1307.4 706.1h0M1308.9 706.1h0M1310.5 706h0M1312 706h0M1313.5 705.9h0M1315.1 705.9h0M1316.6 705.8h0M1318.1 705.7h0M1319.7 705.7h0M1321.2 705.6h0M1322.7 705.6h0M1324.3 705.5h0M1325.8 705.5h0M1327.3 705.4h0M1328.9 705.2h0M1330.4 704.9h0M1331.9 704.6h0M1333.5 704.3h0M1335 704h0M1336.5 703.7h0M1338.1 703.4h0M1339.6 703.1h0M1341.1 702.8h0M1342.7 702.5h0M1344.2 702.1h0M1345.7 701.8h0M1347.3 701.5h0M1348.8 701.2h0M1350.4 700.9h0M1351.9 700.6h0M1353.4 700.1h0M1355 699.5h0M1356.5 698.8h0M1358 697.9h0M1359.6 697.1h0M1361.1 696.2h0M1362.6 695.4h0M1364.2 694.6h0M1365.7 693.7h0M1367.2 692.9h0M1368.8 692h0M1370.3 691.2h0M1371.8 690.4h0M1373.4 689.6h0M1374.9 688.9h0M1376.4 688.2h0M1378 687.6h0M1379.5 687.1h0M1381 686.5h0M1382.6 686h0M1384.1 685.4h0M1385.6 684.9h0M1387.2 684.3h0M1388.7 683.7h0M1390.2 683.2h0M1391.8 682.6h0M1393.3 682.1h0M1394.8 681.5h0M1396.4 681h0M1397.9 680.4h0M1399.4 679.9h0M1401 679.3h0M1402.5 678.7h0M1404 678.2h0M1405.6 677.6h0M1407.1 677h0M1408.6 676.4h0M1410.2 675.8h0M1411.7 675.1h0M1413.2 674.5h0M1414.8 673.9h0M1416.3 673.3h0M1417.8 672.7h0M1419.4 672.1h0M1420.9 671.5h0M1422.4 670.8h0M1424 670.2h0M1425.5 669.6h0M1427 669h0M1428.6 668.4h0M1430.1 667.8h0M1431.6 667.2h0M1433.2 666.7h0M1434.7 666.3h0M1436.2 669.7h0M1437.8 670.3h0M1439.3 670.4h0M1440.9 670.3h0M1442.4 669.6h0M1443.9 668.8h0M1445.5 668h0M1447 667.2h0M1448.5 666.4h0M1450.1 665.6h0M1451.6 664.9h0M1453.1 664.1h0M1454.7 663.3h0M1456.2 662.5h0M1457.7 661.8h0M1459.3 661h0M1460.8 660.3h0M1462.3 659.6h0M1463.9 658.8h0M1465.4 658.1h0M1466.9 657.4h0M1468.5 656.6h0M1470 655.9h0M1471.5 655.1h0M1473.1 654.4h0M1474.6 653.7h0M1476.1 652.9h0M1477.7 652.2h0M1479.2 651.5h0M1480.7 650.7h0M1482.3 649.9h0M1483.8 649.1h0M1485.3 648.2h0M1486.9 647.3h0M1488.4 646.4h0M1489.9 645.5h0M1491.5 644.6h0M1493 643.8h0M1494.5 642.9h0M1496.1 642h0M1497.6 641.1h0M1499.1 640.2h0M1500.7 639.3h0M1502.2 638.6h0M1503.7 638h0M1505.3 637.7h0M1506.8 640.5h0M1508.3 640.9h0M1509.9 640.9h0M1511.4 640.6h0M1512.9 639.9h0M1514.5 639.1h0M1516 638.5h0M1517.5 638h0M1519.1 648.6h0M1520.6 648.1h0M1522.1 647.4h0M1523.7 646.5h0M1525.2 645.6h0M1526.7 644.7h0M1528.3 643.8h0M1529.8 642.9h0M1531.4 642h0M1532.9 641.3h0M1534.4 640.7h0M1536 640.2h0M1537.5 639.7h0M1539 639.3h0M1540.6 638.8h0M1542.1 638.4h0M1543.6 637.9h0M1545.2 637.5h0M1546.7 637.1h0M1548.2 636.7h0M1549.8 636.4h0M1551.3 636.2h0M1552.8 636h0M1554.4 635.8h0M1555.9 635.6h0M1557.4 635.4h0M1559 635.2h0M1560.5 635h0M1562 634.7h0M1563.6 634.2h0M1565.1 633.5h0M1566.6 632.6h0M1568.2 631.6h0M1569.7 630.7h0M1571.2 629.7h0M1572.8 628.7h0M1574.3 627.7h0M1575.8 626.8h0M1577.4 626h0M1578.9 625.5h0" stroke="#000" stroke-width="6.6" stroke-linecap="round" fill="none"/>
<path d="M1302.8 520.7V725.3H1609.6M1295.5 706.3H1302.8M1295.5 613.5H1302.8M1295.5 520.7H1302.8M1302.8 725.3v7.2M1313 725.3v3.5M1323.3 725.3v3.5M1333.5 725.3v3.5M1343.7 725.3v3.5M1353.9 725.3v3.5M1364.2 725.3v3.5M1374.4 725.3v3.5M1384.6 725.3v3.5M1394.8 725.3v3.5M1405.1 725.3v7.2M1415.3 725.3v3.5M1425.5 725.3v3.5M1435.7 725.3v3.5M1446 725.3v3.5M1456.2 725.3v3.5M1466.4 725.3v3.5M1476.6 725.3v3.5M1486.9 725.3v3.5M1497.1 725.3v3.5M1507.3 725.3v7.2M1517.5 725.3v3.5M1527.8 725.3v3.5M1538 725.3v3.5M1548.2 725.3v3.5M1558.4 725.3v3.5M1568.7 725.3v3.5M1578.9 725.3v3.5M1589.1 725.3v3.5M1599.4 725.3v3.5M1609.6 725.3v7.2" stroke="#000" stroke-width="2" fill="none" stroke-linecap="square"/>
<text x="1291.3" y="711.7" font-size="15.7" font-weight="bold" text-anchor="end" fill="#000">1</text>
<text x="1291.3" y="618.9" font-size="15.7" font-weight="bold" text-anchor="end" fill="#000">2</text>
<text x="1291.3" y="526.1" font-size="15.7" font-weight="bold" text-anchor="end" fill="#000">3</text>
<text x="1302.4" y="750.5" font-size="15.7" font-weight="bold" text-anchor="middle" fill="#000">0</text>
<text x="1404.7" y="750.5" font-size="15.7" font-weight="bold" text-anchor="middle" fill="#000">200</text>
<text x="1506.9" y="750.5" font-size="15.7" font-weight="bold" text-anchor="middle" fill="#000">400</text>
<text x="1609.2" y="750.5" font-size="15.7" font-weight="bold" text-anchor="middle" fill="#000">600</text>
<text x="1456.3" y="775.1" font-size="17" font-weight="bold" text-anchor="middle" fill="#000">Time (seconds)</text>
<text transform="translate(1270.9 622.5) rotate(-90)" font-size="17" font-weight="bold" text-anchor="middle" fill="#000">MFI Fold Change</text>
<text x="1407" y="494.9" font-size="22" font-weight="bold">CD41<tspan font-size="15" dy="5" dx="0.5">recipient</tspan></text>
<path d="M1617.8 582.1H1640.3" stroke="#444" stroke-width="1.1"/>
<circle cx="1629" cy="582.1" r="3.5" fill="#000"/>
<text x="1651.8" y="587.8" font-size="17.3" font-weight="normal" text-anchor="start" fill="#000">WB</text>
<path d="M1617.8 609.3H1640.3" stroke="#d2d2d2" stroke-width="1.1"/>
<circle cx="1629" cy="609.3" r="3.5" fill="#d2d2d2"/>
<text x="1651.8" y="615" font-size="17.3" font-weight="normal" text-anchor="start" fill="#000">TP</text>
<path d="M1617.8 636.6H1640.3" stroke="#0a0ac0" stroke-width="1.1"/>
<circle cx="1629" cy="636.6" r="3.5" fill="#0a0ac0"/>
<text x="1651.8" y="642.3" font-size="17.3" font-weight="normal" text-anchor="start" fill="#000">TP + CS (D2-7)</text>
</svg></body></html>
